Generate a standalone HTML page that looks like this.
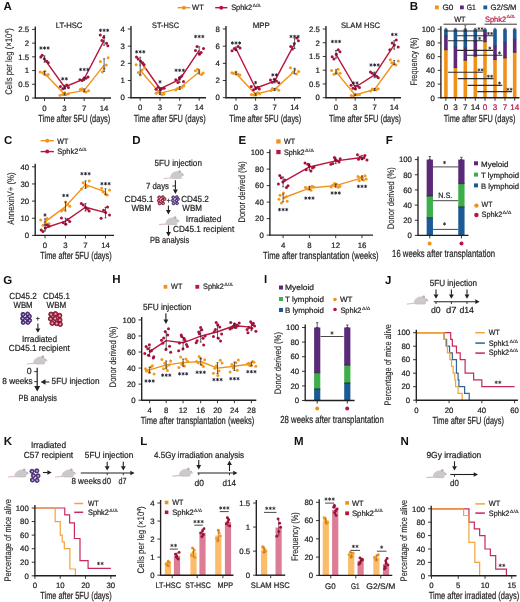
<!DOCTYPE html>
<html><head><meta charset="utf-8"><style>
html,body{margin:0;padding:0;background:#fff;width:520px;height:602px;overflow:hidden}
svg{display:block;filter:blur(0)}
text{font-family:"Liberation Sans", sans-serif;text-rendering:geometricPrecision}
</style></head><body>
<svg width="520" height="602" viewBox="0 0 520 602" font-family='"Liberation Sans", sans-serif'><text x="3.60" y="9.90" font-size="11.5" text-anchor="start" fill="#111" font-weight="bold">A</text>
<line x1="177.70" y1="7.70" x2="190.20" y2="7.70" stroke="#f0921a" stroke-width="1.4"/>
<circle cx="183.95" cy="7.70" r="2.0" fill="#f0921a"/>
<text x="192.10" y="10.10" font-size="7.8" text-anchor="start" fill="#231f20" stroke="#231f20" stroke-width="0.22" textLength="11.6" lengthAdjust="spacingAndGlyphs">WT</text>
<line x1="215.20" y1="7.70" x2="227.30" y2="7.70" stroke="#b8143e" stroke-width="1.4"/>
<circle cx="221.25" cy="7.70" r="2.0" fill="#b8143e"/>
<text x="231.20" y="10.10" font-size="7.8" fill="#231f20" stroke="#231f20" stroke-width="0.22" textLength="20.9" lengthAdjust="spacingAndGlyphs">Sphk2</text>
<text x="252.50" y="6.98" font-size="4.68" fill="#231f20" stroke="#231f20" stroke-width="0.1" textLength="8.3" lengthAdjust="spacingAndGlyphs">Δ/Δ</text>
<path d="M44.50 73.30 L64.50 94.16 L84.20 90.32 L104.10 65.07" fill="none" stroke="#f0921a" stroke-width="1.4" stroke-linejoin="round"/>
<path d="M44.50 59.04 L64.50 87.02 L84.20 78.79 L104.10 40.38" fill="none" stroke="#b8143e" stroke-width="1.4" stroke-linejoin="round"/>
<circle cx="44.87" cy="71.19" r="1.5" fill="#f29a20"/>
<circle cx="42.81" cy="73.08" r="1.5" fill="#f29a20"/>
<circle cx="40.21" cy="72.02" r="1.5" fill="#f29a20"/>
<circle cx="48.18" cy="74.54" r="1.5" fill="#f29a20"/>
<circle cx="46.89" cy="75.33" r="1.5" fill="#f29a20"/>
<circle cx="48.28" cy="62.68" r="1.5" fill="#a8123a"/>
<circle cx="40.84" cy="57.11" r="1.5" fill="#a8123a"/>
<circle cx="42.18" cy="55.31" r="1.5" fill="#a8123a"/>
<circle cx="44.28" cy="58.69" r="1.5" fill="#a8123a"/>
<circle cx="46.79" cy="61.23" r="1.5" fill="#a8123a"/>
<line x1="44.50" y1="71.55" x2="44.50" y2="75.05" stroke="#1e1e32" stroke-width="0.7"/>
<line x1="43.50" y1="71.55" x2="45.50" y2="71.55" stroke="#1e1e32" stroke-width="0.7"/>
<line x1="43.50" y1="75.05" x2="45.50" y2="75.05" stroke="#1e1e32" stroke-width="0.7"/>
<line x1="44.50" y1="55.89" x2="44.50" y2="62.19" stroke="#1e1e32" stroke-width="0.7"/>
<line x1="43.50" y1="55.89" x2="45.50" y2="55.89" stroke="#1e1e32" stroke-width="0.7"/>
<line x1="43.50" y1="62.19" x2="45.50" y2="62.19" stroke="#1e1e32" stroke-width="0.7"/>
<path d="M40.90 46.75L40.90 49.25M39.82 47.38L41.98 48.62M39.82 48.62L41.98 47.38M44.50 46.75L44.50 49.25M43.42 47.38L45.58 48.62M43.42 48.62L45.58 47.38M48.10 46.75L48.10 49.25M47.02 47.38L49.18 48.62M47.02 48.62L49.18 47.38" stroke="#1e1e32" stroke-width="0.85" stroke-linecap="round"/>
<circle cx="64.73" cy="92.63" r="1.5" fill="#f29a20"/>
<circle cx="66.12" cy="94.43" r="1.5" fill="#f29a20"/>
<circle cx="68.45" cy="93.77" r="1.5" fill="#f29a20"/>
<circle cx="60.10" cy="95.31" r="1.5" fill="#f29a20"/>
<circle cx="62.68" cy="94.54" r="1.5" fill="#f29a20"/>
<circle cx="66.69" cy="85.06" r="1.5" fill="#a8123a"/>
<circle cx="64.60" cy="88.09" r="1.5" fill="#a8123a"/>
<circle cx="60.39" cy="86.42" r="1.5" fill="#a8123a"/>
<circle cx="68.42" cy="87.41" r="1.5" fill="#a8123a"/>
<circle cx="62.78" cy="88.65" r="1.5" fill="#a8123a"/>
<line x1="64.50" y1="93.11" x2="64.50" y2="95.21" stroke="#1e1e32" stroke-width="0.7"/>
<line x1="63.50" y1="93.11" x2="65.50" y2="93.11" stroke="#1e1e32" stroke-width="0.7"/>
<line x1="63.50" y1="95.21" x2="65.50" y2="95.21" stroke="#1e1e32" stroke-width="0.7"/>
<line x1="64.50" y1="85.27" x2="64.50" y2="88.77" stroke="#1e1e32" stroke-width="0.7"/>
<line x1="63.50" y1="85.27" x2="65.50" y2="85.27" stroke="#1e1e32" stroke-width="0.7"/>
<line x1="63.50" y1="88.77" x2="65.50" y2="88.77" stroke="#1e1e32" stroke-width="0.7"/>
<path d="M62.70 77.55L62.70 80.05M61.62 78.17L63.78 79.42M61.62 79.42L63.78 78.17M66.30 77.55L66.30 80.05M65.22 78.17L67.38 79.42M65.22 79.42L67.38 78.17" stroke="#1e1e32" stroke-width="0.85" stroke-linecap="round"/>
<circle cx="84.29" cy="91.18" r="1.5" fill="#f29a20"/>
<circle cx="81.93" cy="88.66" r="1.5" fill="#f29a20"/>
<circle cx="86.11" cy="92.10" r="1.5" fill="#f29a20"/>
<circle cx="88.60" cy="90.68" r="1.5" fill="#f29a20"/>
<circle cx="80.24" cy="89.47" r="1.5" fill="#f29a20"/>
<circle cx="85.93" cy="78.19" r="1.5" fill="#a8123a"/>
<circle cx="82.13" cy="80.54" r="1.5" fill="#a8123a"/>
<circle cx="88.08" cy="76.90" r="1.5" fill="#a8123a"/>
<circle cx="79.83" cy="79.70" r="1.5" fill="#a8123a"/>
<circle cx="83.81" cy="78.45" r="1.5" fill="#a8123a"/>
<line x1="84.20" y1="88.92" x2="84.20" y2="91.72" stroke="#1e1e32" stroke-width="0.7"/>
<line x1="83.20" y1="88.92" x2="85.20" y2="88.92" stroke="#1e1e32" stroke-width="0.7"/>
<line x1="83.20" y1="91.72" x2="85.20" y2="91.72" stroke="#1e1e32" stroke-width="0.7"/>
<line x1="84.20" y1="77.04" x2="84.20" y2="80.54" stroke="#1e1e32" stroke-width="0.7"/>
<line x1="83.20" y1="77.04" x2="85.20" y2="77.04" stroke="#1e1e32" stroke-width="0.7"/>
<line x1="83.20" y1="80.54" x2="85.20" y2="80.54" stroke="#1e1e32" stroke-width="0.7"/>
<path d="M80.60 68.25L80.60 70.75M79.52 68.88L81.68 70.12M79.52 70.12L81.68 68.88M84.20 68.25L84.20 70.75M83.12 68.88L85.28 70.12M83.12 70.12L85.28 68.88M87.80 68.25L87.80 70.75M86.72 68.88L88.88 70.12M86.72 70.12L88.88 68.88" stroke="#1e1e32" stroke-width="0.85" stroke-linecap="round"/>
<circle cx="100.43" cy="61.45" r="1.5" fill="#f29a20"/>
<circle cx="104.14" cy="68.43" r="1.5" fill="#f29a20"/>
<circle cx="106.27" cy="65.10" r="1.5" fill="#f29a20"/>
<circle cx="108.14" cy="57.79" r="1.5" fill="#f29a20"/>
<circle cx="102.39" cy="72.06" r="1.5" fill="#f29a20"/>
<circle cx="100.28" cy="35.06" r="1.5" fill="#a8123a"/>
<circle cx="103.73" cy="37.31" r="1.5" fill="#a8123a"/>
<circle cx="106.50" cy="43.37" r="1.5" fill="#a8123a"/>
<circle cx="101.91" cy="40.57" r="1.5" fill="#a8123a"/>
<circle cx="107.84" cy="45.86" r="1.5" fill="#a8123a"/>
<line x1="104.10" y1="58.77" x2="104.10" y2="71.37" stroke="#1e1e32" stroke-width="0.7"/>
<line x1="103.10" y1="58.77" x2="105.10" y2="58.77" stroke="#1e1e32" stroke-width="0.7"/>
<line x1="103.10" y1="71.37" x2="105.10" y2="71.37" stroke="#1e1e32" stroke-width="0.7"/>
<line x1="104.10" y1="35.48" x2="104.10" y2="45.28" stroke="#1e1e32" stroke-width="0.7"/>
<line x1="103.10" y1="35.48" x2="105.10" y2="35.48" stroke="#1e1e32" stroke-width="0.7"/>
<line x1="103.10" y1="45.28" x2="105.10" y2="45.28" stroke="#1e1e32" stroke-width="0.7"/>
<path d="M100.50 29.05L100.50 31.55M99.42 29.68L101.58 30.93M99.42 30.93L101.58 29.68M104.10 29.05L104.10 31.55M103.02 29.68L105.18 30.93M103.02 30.93L105.18 29.68M107.70 29.05L107.70 31.55M106.62 29.68L108.78 30.93M106.62 30.93L108.78 29.68" stroke="#1e1e32" stroke-width="0.85" stroke-linecap="round"/>
<line x1="35.30" y1="98.50" x2="35.30" y2="26.40" stroke="#231f20" stroke-width="1.35"/>
<line x1="32.10" y1="98.00" x2="35.30" y2="98.00" stroke="#231f20" stroke-width="0.9"/>
<text x="29.20" y="100.77" font-size="7.8" text-anchor="end" fill="#231f20" stroke="#231f20" stroke-width="0.22">0</text>
<line x1="32.10" y1="84.28" x2="35.30" y2="84.28" stroke="#231f20" stroke-width="0.9"/>
<text x="29.20" y="87.05" font-size="7.8" text-anchor="end" fill="#231f20" stroke="#231f20" stroke-width="0.22">0.5</text>
<line x1="32.10" y1="70.56" x2="35.30" y2="70.56" stroke="#231f20" stroke-width="0.9"/>
<text x="29.20" y="73.33" font-size="7.8" text-anchor="end" fill="#231f20" stroke="#231f20" stroke-width="0.22">1</text>
<line x1="32.10" y1="56.84" x2="35.30" y2="56.84" stroke="#231f20" stroke-width="0.9"/>
<text x="29.20" y="59.61" font-size="7.8" text-anchor="end" fill="#231f20" stroke="#231f20" stroke-width="0.22">1.5</text>
<line x1="32.10" y1="43.12" x2="35.30" y2="43.12" stroke="#231f20" stroke-width="0.9"/>
<text x="29.20" y="45.89" font-size="7.8" text-anchor="end" fill="#231f20" stroke="#231f20" stroke-width="0.22">2</text>
<line x1="32.10" y1="29.40" x2="35.30" y2="29.40" stroke="#231f20" stroke-width="0.9"/>
<text x="29.20" y="32.17" font-size="7.8" text-anchor="end" fill="#231f20" stroke="#231f20" stroke-width="0.22">2.5</text>
<line x1="34.80" y1="98.00" x2="111.00" y2="98.00" stroke="#231f20" stroke-width="1.4"/>
<line x1="44.50" y1="98.00" x2="44.50" y2="101.00" stroke="#231f20" stroke-width="0.9"/>
<text x="44.50" y="110.50" font-size="7.8" text-anchor="middle" fill="#231f20" stroke="#231f20" stroke-width="0.22">0</text>
<line x1="64.50" y1="98.00" x2="64.50" y2="101.00" stroke="#231f20" stroke-width="0.9"/>
<text x="64.50" y="110.50" font-size="7.8" text-anchor="middle" fill="#231f20" stroke="#231f20" stroke-width="0.22">3</text>
<line x1="84.20" y1="98.00" x2="84.20" y2="101.00" stroke="#231f20" stroke-width="0.9"/>
<text x="84.20" y="110.50" font-size="7.8" text-anchor="middle" fill="#231f20" stroke="#231f20" stroke-width="0.22">7</text>
<line x1="104.10" y1="98.00" x2="104.10" y2="101.00" stroke="#231f20" stroke-width="0.9"/>
<text x="104.10" y="110.50" font-size="7.8" text-anchor="middle" fill="#231f20" stroke="#231f20" stroke-width="0.22">14</text>
<text x="69.00" y="28.00" font-size="7.9" text-anchor="middle" fill="#231f20" stroke="#231f20" stroke-width="0.22" textLength="26.5" lengthAdjust="spacingAndGlyphs">LT-HSC</text>
<text x="74.30" y="122.00" font-size="10.3" text-anchor="middle" fill="#231f20" stroke="#231f20" stroke-width="0.22" textLength="72" lengthAdjust="spacingAndGlyphs">Time after 5FU (days)</text>
<path d="M140.20 70.22 L160.00 93.41 L179.70 88.08 L199.20 71.94" fill="none" stroke="#f0921a" stroke-width="1.4" stroke-linejoin="round"/>
<path d="M140.20 60.77 L160.00 88.77 L179.70 79.49 L199.20 50.30" fill="none" stroke="#b8143e" stroke-width="1.4" stroke-linejoin="round"/>
<circle cx="140.23" cy="75.08" r="1.5" fill="#f29a20"/>
<circle cx="136.16" cy="64.66" r="1.5" fill="#f29a20"/>
<circle cx="144.55" cy="67.98" r="1.5" fill="#f29a20"/>
<circle cx="142.07" cy="70.07" r="1.5" fill="#f29a20"/>
<circle cx="138.41" cy="72.58" r="1.5" fill="#f29a20"/>
<circle cx="138.14" cy="59.05" r="1.5" fill="#a8123a"/>
<circle cx="144.03" cy="64.60" r="1.5" fill="#a8123a"/>
<circle cx="136.52" cy="57.04" r="1.5" fill="#a8123a"/>
<circle cx="142.55" cy="62.69" r="1.5" fill="#a8123a"/>
<circle cx="140.53" cy="61.02" r="1.5" fill="#a8123a"/>
<line x1="140.20" y1="65.67" x2="140.20" y2="74.77" stroke="#1e1e32" stroke-width="0.7"/>
<line x1="139.20" y1="65.67" x2="141.20" y2="65.67" stroke="#1e1e32" stroke-width="0.7"/>
<line x1="139.20" y1="74.77" x2="141.20" y2="74.77" stroke="#1e1e32" stroke-width="0.7"/>
<line x1="140.20" y1="57.27" x2="140.20" y2="64.27" stroke="#1e1e32" stroke-width="0.7"/>
<line x1="139.20" y1="57.27" x2="141.20" y2="57.27" stroke="#1e1e32" stroke-width="0.7"/>
<line x1="139.20" y1="64.27" x2="141.20" y2="64.27" stroke="#1e1e32" stroke-width="0.7"/>
<path d="M136.60 50.55L136.60 53.05M135.52 51.17L137.68 52.42M135.52 52.42L137.68 51.17M140.20 50.55L140.20 53.05M139.12 51.17L141.28 52.42M139.12 52.42L141.28 51.17M143.80 50.55L143.80 53.05M142.72 51.17L144.88 52.42M142.72 52.42L144.88 51.17" stroke="#1e1e32" stroke-width="0.85" stroke-linecap="round"/>
<circle cx="156.08" cy="93.14" r="1.5" fill="#f29a20"/>
<circle cx="161.99" cy="94.83" r="1.5" fill="#f29a20"/>
<circle cx="159.86" cy="93.36" r="1.5" fill="#f29a20"/>
<circle cx="157.80" cy="91.94" r="1.5" fill="#f29a20"/>
<circle cx="163.96" cy="94.04" r="1.5" fill="#f29a20"/>
<circle cx="156.06" cy="89.34" r="1.5" fill="#a8123a"/>
<circle cx="160.25" cy="90.15" r="1.5" fill="#a8123a"/>
<circle cx="164.13" cy="88.23" r="1.5" fill="#a8123a"/>
<circle cx="158.05" cy="87.28" r="1.5" fill="#a8123a"/>
<circle cx="161.84" cy="88.51" r="1.5" fill="#a8123a"/>
<line x1="160.00" y1="92.36" x2="160.00" y2="94.46" stroke="#1e1e32" stroke-width="0.7"/>
<line x1="159.00" y1="92.36" x2="161.00" y2="92.36" stroke="#1e1e32" stroke-width="0.7"/>
<line x1="159.00" y1="94.46" x2="161.00" y2="94.46" stroke="#1e1e32" stroke-width="0.7"/>
<line x1="160.00" y1="87.72" x2="160.00" y2="89.82" stroke="#1e1e32" stroke-width="0.7"/>
<line x1="159.00" y1="87.72" x2="161.00" y2="87.72" stroke="#1e1e32" stroke-width="0.7"/>
<line x1="159.00" y1="89.82" x2="161.00" y2="89.82" stroke="#1e1e32" stroke-width="0.7"/>
<path d="M160.00 80.55L160.00 83.05M158.92 81.17L161.08 82.42M158.92 82.42L161.08 81.17" stroke="#1e1e32" stroke-width="0.85" stroke-linecap="round"/>
<circle cx="183.75" cy="86.12" r="1.5" fill="#f29a20"/>
<circle cx="181.72" cy="87.38" r="1.5" fill="#f29a20"/>
<circle cx="175.72" cy="89.99" r="1.5" fill="#f29a20"/>
<circle cx="179.89" cy="87.98" r="1.5" fill="#f29a20"/>
<circle cx="177.48" cy="88.58" r="1.5" fill="#f29a20"/>
<circle cx="179.32" cy="78.10" r="1.5" fill="#a8123a"/>
<circle cx="175.78" cy="79.78" r="1.5" fill="#a8123a"/>
<circle cx="183.50" cy="81.48" r="1.5" fill="#a8123a"/>
<circle cx="177.88" cy="82.53" r="1.5" fill="#a8123a"/>
<circle cx="181.74" cy="75.92" r="1.5" fill="#a8123a"/>
<line x1="179.70" y1="86.68" x2="179.70" y2="89.48" stroke="#1e1e32" stroke-width="0.7"/>
<line x1="178.70" y1="86.68" x2="180.70" y2="86.68" stroke="#1e1e32" stroke-width="0.7"/>
<line x1="178.70" y1="89.48" x2="180.70" y2="89.48" stroke="#1e1e32" stroke-width="0.7"/>
<line x1="179.70" y1="76.69" x2="179.70" y2="82.29" stroke="#1e1e32" stroke-width="0.7"/>
<line x1="178.70" y1="76.69" x2="180.70" y2="76.69" stroke="#1e1e32" stroke-width="0.7"/>
<line x1="178.70" y1="82.29" x2="180.70" y2="82.29" stroke="#1e1e32" stroke-width="0.7"/>
<path d="M176.10 69.05L176.10 71.55M175.02 69.67L177.18 70.92M175.02 70.92L177.18 69.67M179.70 69.05L179.70 71.55M178.62 69.67L180.78 70.92M178.62 70.92L180.78 69.67M183.30 69.05L183.30 71.55M182.22 69.67L184.38 70.92M182.22 70.92L184.38 69.67" stroke="#1e1e32" stroke-width="0.85" stroke-linecap="round"/>
<circle cx="203.17" cy="73.01" r="1.5" fill="#f29a20"/>
<circle cx="195.34" cy="70.73" r="1.5" fill="#f29a20"/>
<circle cx="198.91" cy="72.00" r="1.5" fill="#f29a20"/>
<circle cx="197.58" cy="69.17" r="1.5" fill="#f29a20"/>
<circle cx="201.57" cy="74.49" r="1.5" fill="#f29a20"/>
<circle cx="199.45" cy="54.31" r="1.5" fill="#a8123a"/>
<circle cx="197.05" cy="46.42" r="1.5" fill="#a8123a"/>
<circle cx="203.52" cy="48.51" r="1.5" fill="#a8123a"/>
<circle cx="195.47" cy="50.54" r="1.5" fill="#a8123a"/>
<circle cx="201.14" cy="52.42" r="1.5" fill="#a8123a"/>
<line x1="199.20" y1="69.84" x2="199.20" y2="74.04" stroke="#1e1e32" stroke-width="0.7"/>
<line x1="198.20" y1="69.84" x2="200.20" y2="69.84" stroke="#1e1e32" stroke-width="0.7"/>
<line x1="198.20" y1="74.04" x2="200.20" y2="74.04" stroke="#1e1e32" stroke-width="0.7"/>
<line x1="199.20" y1="46.80" x2="199.20" y2="53.80" stroke="#1e1e32" stroke-width="0.7"/>
<line x1="198.20" y1="46.80" x2="200.20" y2="46.80" stroke="#1e1e32" stroke-width="0.7"/>
<line x1="198.20" y1="53.80" x2="200.20" y2="53.80" stroke="#1e1e32" stroke-width="0.7"/>
<path d="M195.60 35.25L195.60 37.75M194.52 35.88L196.68 37.12M194.52 37.12L196.68 35.88M199.20 35.25L199.20 37.75M198.12 35.88L200.28 37.12M198.12 37.12L200.28 35.88M202.80 35.25L202.80 37.75M201.72 35.88L203.88 37.12M201.72 37.12L203.88 35.88" stroke="#1e1e32" stroke-width="0.85" stroke-linecap="round"/>
<line x1="131.00" y1="98.20" x2="131.00" y2="26.00" stroke="#231f20" stroke-width="1.35"/>
<line x1="127.80" y1="97.70" x2="131.00" y2="97.70" stroke="#231f20" stroke-width="0.9"/>
<text x="124.90" y="100.47" font-size="7.8" text-anchor="end" fill="#231f20" stroke="#231f20" stroke-width="0.22">0</text>
<line x1="127.80" y1="80.53" x2="131.00" y2="80.53" stroke="#231f20" stroke-width="0.9"/>
<text x="124.90" y="83.29" font-size="7.8" text-anchor="end" fill="#231f20" stroke="#231f20" stroke-width="0.22">1</text>
<line x1="127.80" y1="63.35" x2="131.00" y2="63.35" stroke="#231f20" stroke-width="0.9"/>
<text x="124.90" y="66.12" font-size="7.8" text-anchor="end" fill="#231f20" stroke="#231f20" stroke-width="0.22">2</text>
<line x1="127.80" y1="46.17" x2="131.00" y2="46.17" stroke="#231f20" stroke-width="0.9"/>
<text x="124.90" y="48.94" font-size="7.8" text-anchor="end" fill="#231f20" stroke="#231f20" stroke-width="0.22">3</text>
<line x1="127.80" y1="29.00" x2="131.00" y2="29.00" stroke="#231f20" stroke-width="0.9"/>
<text x="124.90" y="31.77" font-size="7.8" text-anchor="end" fill="#231f20" stroke="#231f20" stroke-width="0.22">4</text>
<line x1="130.50" y1="97.70" x2="206.00" y2="97.70" stroke="#231f20" stroke-width="1.4"/>
<line x1="140.20" y1="97.70" x2="140.20" y2="100.70" stroke="#231f20" stroke-width="0.9"/>
<text x="140.20" y="110.20" font-size="7.8" text-anchor="middle" fill="#231f20" stroke="#231f20" stroke-width="0.22">0</text>
<line x1="160.00" y1="97.70" x2="160.00" y2="100.70" stroke="#231f20" stroke-width="0.9"/>
<text x="160.00" y="110.20" font-size="7.8" text-anchor="middle" fill="#231f20" stroke="#231f20" stroke-width="0.22">3</text>
<line x1="179.70" y1="97.70" x2="179.70" y2="100.70" stroke="#231f20" stroke-width="0.9"/>
<text x="179.70" y="110.20" font-size="7.8" text-anchor="middle" fill="#231f20" stroke="#231f20" stroke-width="0.22">7</text>
<line x1="199.20" y1="97.70" x2="199.20" y2="100.70" stroke="#231f20" stroke-width="0.9"/>
<text x="199.20" y="110.20" font-size="7.8" text-anchor="middle" fill="#231f20" stroke="#231f20" stroke-width="0.22">14</text>
<text x="165.60" y="28.00" font-size="7.9" text-anchor="middle" fill="#231f20" stroke="#231f20" stroke-width="0.22" textLength="27" lengthAdjust="spacingAndGlyphs">ST-HSC</text>
<text x="169.70" y="121.70" font-size="10.3" text-anchor="middle" fill="#231f20" stroke="#231f20" stroke-width="0.22" textLength="72" lengthAdjust="spacingAndGlyphs">Time after 5FU (days)</text>
<path d="M236.00 73.40 L255.60 94.18 L274.60 89.54 L294.60 71.08" fill="none" stroke="#f0921a" stroke-width="1.4" stroke-linejoin="round"/>
<path d="M236.00 48.75 L255.60 88.25 L274.60 81.13 L294.60 43.60" fill="none" stroke="#b8143e" stroke-width="1.4" stroke-linejoin="round"/>
<circle cx="238.17" cy="74.37" r="1.5" fill="#f29a20"/>
<circle cx="239.95" cy="74.95" r="1.5" fill="#f29a20"/>
<circle cx="235.79" cy="71.92" r="1.5" fill="#f29a20"/>
<circle cx="233.70" cy="73.56" r="1.5" fill="#f29a20"/>
<circle cx="231.91" cy="72.72" r="1.5" fill="#f29a20"/>
<circle cx="234.33" cy="48.56" r="1.5" fill="#a8123a"/>
<circle cx="235.94" cy="49.87" r="1.5" fill="#a8123a"/>
<circle cx="232.06" cy="50.86" r="1.5" fill="#a8123a"/>
<circle cx="240.06" cy="47.95" r="1.5" fill="#a8123a"/>
<circle cx="238.14" cy="46.49" r="1.5" fill="#a8123a"/>
<line x1="236.00" y1="72.00" x2="236.00" y2="74.80" stroke="#1e1e32" stroke-width="0.7"/>
<line x1="235.00" y1="72.00" x2="237.00" y2="72.00" stroke="#1e1e32" stroke-width="0.7"/>
<line x1="235.00" y1="74.80" x2="237.00" y2="74.80" stroke="#1e1e32" stroke-width="0.7"/>
<line x1="236.00" y1="47.00" x2="236.00" y2="50.50" stroke="#1e1e32" stroke-width="0.7"/>
<line x1="235.00" y1="47.00" x2="237.00" y2="47.00" stroke="#1e1e32" stroke-width="0.7"/>
<line x1="235.00" y1="50.50" x2="237.00" y2="50.50" stroke="#1e1e32" stroke-width="0.7"/>
<path d="M232.40 41.75L232.40 44.25M231.32 42.38L233.48 43.62M231.32 43.62L233.48 42.38M236.00 41.75L236.00 44.25M234.92 42.38L237.08 43.62M234.92 43.62L237.08 42.38M239.60 41.75L239.60 44.25M238.52 42.38L240.68 43.62M238.52 43.62L240.68 42.38" stroke="#1e1e32" stroke-width="0.85" stroke-linecap="round"/>
<circle cx="257.70" cy="92.80" r="1.5" fill="#f29a20"/>
<circle cx="259.59" cy="93.63" r="1.5" fill="#f29a20"/>
<circle cx="253.58" cy="95.12" r="1.5" fill="#f29a20"/>
<circle cx="255.99" cy="95.03" r="1.5" fill="#f29a20"/>
<circle cx="251.38" cy="94.50" r="1.5" fill="#f29a20"/>
<circle cx="251.27" cy="86.42" r="1.5" fill="#a8123a"/>
<circle cx="253.56" cy="89.64" r="1.5" fill="#a8123a"/>
<circle cx="255.94" cy="88.34" r="1.5" fill="#a8123a"/>
<circle cx="259.33" cy="88.90" r="1.5" fill="#a8123a"/>
<circle cx="257.78" cy="87.14" r="1.5" fill="#a8123a"/>
<line x1="255.60" y1="93.13" x2="255.60" y2="95.23" stroke="#1e1e32" stroke-width="0.7"/>
<line x1="254.60" y1="93.13" x2="256.60" y2="93.13" stroke="#1e1e32" stroke-width="0.7"/>
<line x1="254.60" y1="95.23" x2="256.60" y2="95.23" stroke="#1e1e32" stroke-width="0.7"/>
<line x1="255.60" y1="86.85" x2="255.60" y2="89.65" stroke="#1e1e32" stroke-width="0.7"/>
<line x1="254.60" y1="86.85" x2="256.60" y2="86.85" stroke="#1e1e32" stroke-width="0.7"/>
<line x1="254.60" y1="89.65" x2="256.60" y2="89.65" stroke="#1e1e32" stroke-width="0.7"/>
<path d="M255.60 81.35L255.60 83.85M254.52 81.97L256.68 83.22M254.52 83.22L256.68 81.97" stroke="#1e1e32" stroke-width="0.85" stroke-linecap="round"/>
<circle cx="274.55" cy="89.50" r="1.5" fill="#f29a20"/>
<circle cx="270.92" cy="90.60" r="1.5" fill="#f29a20"/>
<circle cx="272.39" cy="88.45" r="1.5" fill="#f29a20"/>
<circle cx="278.80" cy="90.26" r="1.5" fill="#f29a20"/>
<circle cx="276.35" cy="88.86" r="1.5" fill="#f29a20"/>
<circle cx="276.42" cy="81.12" r="1.5" fill="#a8123a"/>
<circle cx="272.21" cy="82.35" r="1.5" fill="#a8123a"/>
<circle cx="274.28" cy="79.34" r="1.5" fill="#a8123a"/>
<circle cx="270.41" cy="80.12" r="1.5" fill="#a8123a"/>
<circle cx="278.78" cy="82.79" r="1.5" fill="#a8123a"/>
<line x1="274.60" y1="88.49" x2="274.60" y2="90.59" stroke="#1e1e32" stroke-width="0.7"/>
<line x1="273.60" y1="88.49" x2="275.60" y2="88.49" stroke="#1e1e32" stroke-width="0.7"/>
<line x1="273.60" y1="90.59" x2="275.60" y2="90.59" stroke="#1e1e32" stroke-width="0.7"/>
<line x1="274.60" y1="79.38" x2="274.60" y2="82.88" stroke="#1e1e32" stroke-width="0.7"/>
<line x1="273.60" y1="79.38" x2="275.60" y2="79.38" stroke="#1e1e32" stroke-width="0.7"/>
<line x1="273.60" y1="82.88" x2="275.60" y2="82.88" stroke="#1e1e32" stroke-width="0.7"/>
<path d="M272.80 73.65L272.80 76.15M271.72 74.28L273.88 75.53M271.72 75.53L273.88 74.28M276.40 73.65L276.40 76.15M275.32 74.28L277.48 75.53M275.32 75.53L277.48 74.28" stroke="#1e1e32" stroke-width="0.85" stroke-linecap="round"/>
<circle cx="294.78" cy="69.70" r="1.5" fill="#f29a20"/>
<circle cx="296.48" cy="73.96" r="1.5" fill="#f29a20"/>
<circle cx="292.92" cy="72.37" r="1.5" fill="#f29a20"/>
<circle cx="298.65" cy="71.47" r="1.5" fill="#f29a20"/>
<circle cx="290.48" cy="67.69" r="1.5" fill="#f29a20"/>
<circle cx="294.32" cy="43.60" r="1.5" fill="#a8123a"/>
<circle cx="290.78" cy="46.58" r="1.5" fill="#a8123a"/>
<circle cx="292.45" cy="48.97" r="1.5" fill="#a8123a"/>
<circle cx="296.90" cy="38.12" r="1.5" fill="#a8123a"/>
<circle cx="298.41" cy="40.79" r="1.5" fill="#a8123a"/>
<line x1="294.60" y1="68.28" x2="294.60" y2="73.88" stroke="#1e1e32" stroke-width="0.7"/>
<line x1="293.60" y1="68.28" x2="295.60" y2="68.28" stroke="#1e1e32" stroke-width="0.7"/>
<line x1="293.60" y1="73.88" x2="295.60" y2="73.88" stroke="#1e1e32" stroke-width="0.7"/>
<line x1="294.60" y1="38.70" x2="294.60" y2="48.50" stroke="#1e1e32" stroke-width="0.7"/>
<line x1="293.60" y1="38.70" x2="295.60" y2="38.70" stroke="#1e1e32" stroke-width="0.7"/>
<line x1="293.60" y1="48.50" x2="295.60" y2="48.50" stroke="#1e1e32" stroke-width="0.7"/>
<path d="M291.00 35.25L291.00 37.75M289.92 35.88L292.08 37.12M289.92 37.12L292.08 35.88M294.60 35.25L294.60 37.75M293.52 35.88L295.68 37.12M293.52 37.12L295.68 35.88M298.20 35.25L298.20 37.75M297.12 35.88L299.28 37.12M297.12 37.12L299.28 35.88" stroke="#1e1e32" stroke-width="0.85" stroke-linecap="round"/>
<line x1="226.00" y1="98.20" x2="226.00" y2="26.00" stroke="#231f20" stroke-width="1.35"/>
<line x1="222.80" y1="97.70" x2="226.00" y2="97.70" stroke="#231f20" stroke-width="0.9"/>
<text x="219.90" y="100.47" font-size="7.8" text-anchor="end" fill="#231f20" stroke="#231f20" stroke-width="0.22">0</text>
<line x1="222.80" y1="80.53" x2="226.00" y2="80.53" stroke="#231f20" stroke-width="0.9"/>
<text x="219.90" y="83.29" font-size="7.8" text-anchor="end" fill="#231f20" stroke="#231f20" stroke-width="0.22">2</text>
<line x1="222.80" y1="63.35" x2="226.00" y2="63.35" stroke="#231f20" stroke-width="0.9"/>
<text x="219.90" y="66.12" font-size="7.8" text-anchor="end" fill="#231f20" stroke="#231f20" stroke-width="0.22">4</text>
<line x1="222.80" y1="46.17" x2="226.00" y2="46.17" stroke="#231f20" stroke-width="0.9"/>
<text x="219.90" y="48.94" font-size="7.8" text-anchor="end" fill="#231f20" stroke="#231f20" stroke-width="0.22">6</text>
<line x1="222.80" y1="29.00" x2="226.00" y2="29.00" stroke="#231f20" stroke-width="0.9"/>
<text x="219.90" y="31.77" font-size="7.8" text-anchor="end" fill="#231f20" stroke="#231f20" stroke-width="0.22">8</text>
<line x1="225.50" y1="97.70" x2="301.00" y2="97.70" stroke="#231f20" stroke-width="1.4"/>
<line x1="236.00" y1="97.70" x2="236.00" y2="100.70" stroke="#231f20" stroke-width="0.9"/>
<text x="236.00" y="110.20" font-size="7.8" text-anchor="middle" fill="#231f20" stroke="#231f20" stroke-width="0.22">0</text>
<line x1="255.60" y1="97.70" x2="255.60" y2="100.70" stroke="#231f20" stroke-width="0.9"/>
<text x="255.60" y="110.20" font-size="7.8" text-anchor="middle" fill="#231f20" stroke="#231f20" stroke-width="0.22">3</text>
<line x1="274.60" y1="97.70" x2="274.60" y2="100.70" stroke="#231f20" stroke-width="0.9"/>
<text x="274.60" y="110.20" font-size="7.8" text-anchor="middle" fill="#231f20" stroke="#231f20" stroke-width="0.22">7</text>
<line x1="294.60" y1="97.70" x2="294.60" y2="100.70" stroke="#231f20" stroke-width="0.9"/>
<text x="294.60" y="110.20" font-size="7.8" text-anchor="middle" fill="#231f20" stroke="#231f20" stroke-width="0.22">14</text>
<text x="261.30" y="28.00" font-size="7.9" text-anchor="middle" fill="#231f20" stroke="#231f20" stroke-width="0.22" textLength="17" lengthAdjust="spacingAndGlyphs">MPP</text>
<text x="265.30" y="121.70" font-size="10.3" text-anchor="middle" fill="#231f20" stroke="#231f20" stroke-width="0.22" textLength="72" lengthAdjust="spacingAndGlyphs">Time after 5FU (days)</text>
<path d="M336.00 71.87 L355.20 94.95 L374.60 89.46 L394.20 62.53" fill="none" stroke="#f0921a" stroke-width="1.4" stroke-linejoin="round"/>
<path d="M336.00 54.28 L355.20 87.26 L374.60 74.89 L394.20 44.94" fill="none" stroke="#b8143e" stroke-width="1.4" stroke-linejoin="round"/>
<circle cx="338.06" cy="69.20" r="1.5" fill="#f29a20"/>
<circle cx="331.70" cy="70.53" r="1.5" fill="#f29a20"/>
<circle cx="334.06" cy="74.37" r="1.5" fill="#f29a20"/>
<circle cx="336.29" cy="72.19" r="1.5" fill="#f29a20"/>
<circle cx="340.08" cy="73.29" r="1.5" fill="#f29a20"/>
<circle cx="332.17" cy="56.85" r="1.5" fill="#a8123a"/>
<circle cx="339.99" cy="51.87" r="1.5" fill="#a8123a"/>
<circle cx="338.21" cy="49.71" r="1.5" fill="#a8123a"/>
<circle cx="333.91" cy="58.99" r="1.5" fill="#a8123a"/>
<circle cx="336.34" cy="54.27" r="1.5" fill="#a8123a"/>
<line x1="336.00" y1="69.77" x2="336.00" y2="73.97" stroke="#1e1e32" stroke-width="0.7"/>
<line x1="335.00" y1="69.77" x2="337.00" y2="69.77" stroke="#1e1e32" stroke-width="0.7"/>
<line x1="335.00" y1="73.97" x2="337.00" y2="73.97" stroke="#1e1e32" stroke-width="0.7"/>
<line x1="336.00" y1="50.43" x2="336.00" y2="58.13" stroke="#1e1e32" stroke-width="0.7"/>
<line x1="335.00" y1="50.43" x2="337.00" y2="50.43" stroke="#1e1e32" stroke-width="0.7"/>
<line x1="335.00" y1="58.13" x2="337.00" y2="58.13" stroke="#1e1e32" stroke-width="0.7"/>
<path d="M332.40 40.25L332.40 42.75M331.32 40.88L333.48 42.12M331.32 42.12L333.48 40.88M336.00 40.25L336.00 42.75M334.92 40.88L337.08 42.12M334.92 42.12L337.08 40.88M339.60 40.25L339.60 42.75M338.52 40.88L340.68 42.12M338.52 42.12L340.68 40.88" stroke="#1e1e32" stroke-width="0.85" stroke-linecap="round"/>
<circle cx="351.22" cy="95.46" r="1.5" fill="#f29a20"/>
<circle cx="353.45" cy="95.75" r="1.5" fill="#f29a20"/>
<circle cx="355.37" cy="94.26" r="1.5" fill="#f29a20"/>
<circle cx="359.46" cy="94.58" r="1.5" fill="#f29a20"/>
<circle cx="357.33" cy="94.75" r="1.5" fill="#f29a20"/>
<circle cx="351.11" cy="85.18" r="1.5" fill="#a8123a"/>
<circle cx="357.45" cy="86.08" r="1.5" fill="#a8123a"/>
<circle cx="353.01" cy="88.36" r="1.5" fill="#a8123a"/>
<circle cx="355.45" cy="89.06" r="1.5" fill="#a8123a"/>
<circle cx="359.42" cy="87.50" r="1.5" fill="#a8123a"/>
<line x1="355.20" y1="94.25" x2="355.20" y2="95.65" stroke="#1e1e32" stroke-width="0.7"/>
<line x1="354.20" y1="94.25" x2="356.20" y2="94.25" stroke="#1e1e32" stroke-width="0.7"/>
<line x1="354.20" y1="95.65" x2="356.20" y2="95.65" stroke="#1e1e32" stroke-width="0.7"/>
<line x1="355.20" y1="85.51" x2="355.20" y2="89.01" stroke="#1e1e32" stroke-width="0.7"/>
<line x1="354.20" y1="85.51" x2="356.20" y2="85.51" stroke="#1e1e32" stroke-width="0.7"/>
<line x1="354.20" y1="89.01" x2="356.20" y2="89.01" stroke="#1e1e32" stroke-width="0.7"/>
<path d="M353.40 81.75L353.40 84.25M352.32 82.38L354.48 83.62M352.32 83.62L354.48 82.38M357.00 81.75L357.00 84.25M355.92 82.38L358.08 83.62M355.92 83.62L358.08 82.38" stroke="#1e1e32" stroke-width="0.85" stroke-linecap="round"/>
<circle cx="374.60" cy="89.68" r="1.5" fill="#f29a20"/>
<circle cx="370.47" cy="91.03" r="1.5" fill="#f29a20"/>
<circle cx="372.29" cy="88.98" r="1.5" fill="#f29a20"/>
<circle cx="376.22" cy="89.83" r="1.5" fill="#f29a20"/>
<circle cx="378.30" cy="88.64" r="1.5" fill="#f29a20"/>
<circle cx="376.58" cy="76.26" r="1.5" fill="#a8123a"/>
<circle cx="370.43" cy="71.88" r="1.5" fill="#a8123a"/>
<circle cx="378.25" cy="77.82" r="1.5" fill="#a8123a"/>
<circle cx="372.35" cy="73.13" r="1.5" fill="#a8123a"/>
<circle cx="374.53" cy="74.93" r="1.5" fill="#a8123a"/>
<line x1="374.60" y1="88.41" x2="374.60" y2="90.51" stroke="#1e1e32" stroke-width="0.7"/>
<line x1="373.60" y1="88.41" x2="375.60" y2="88.41" stroke="#1e1e32" stroke-width="0.7"/>
<line x1="373.60" y1="90.51" x2="375.60" y2="90.51" stroke="#1e1e32" stroke-width="0.7"/>
<line x1="374.60" y1="72.09" x2="374.60" y2="77.69" stroke="#1e1e32" stroke-width="0.7"/>
<line x1="373.60" y1="72.09" x2="375.60" y2="72.09" stroke="#1e1e32" stroke-width="0.7"/>
<line x1="373.60" y1="77.69" x2="375.60" y2="77.69" stroke="#1e1e32" stroke-width="0.7"/>
<path d="M371.00 63.75L371.00 66.25M369.92 64.38L372.08 65.62M369.92 65.62L372.08 64.38M374.60 63.75L374.60 66.25M373.52 64.38L375.68 65.62M373.52 65.62L375.68 64.38M378.20 63.75L378.20 66.25M377.12 64.38L379.28 65.62M377.12 65.62L379.28 64.38" stroke="#1e1e32" stroke-width="0.85" stroke-linecap="round"/>
<circle cx="395.93" cy="64.90" r="1.5" fill="#f29a20"/>
<circle cx="398.27" cy="61.00" r="1.5" fill="#f29a20"/>
<circle cx="394.22" cy="63.94" r="1.5" fill="#f29a20"/>
<circle cx="391.83" cy="62.78" r="1.5" fill="#f29a20"/>
<circle cx="390.36" cy="59.84" r="1.5" fill="#f29a20"/>
<circle cx="394.40" cy="44.92" r="1.5" fill="#a8123a"/>
<circle cx="396.23" cy="40.02" r="1.5" fill="#a8123a"/>
<circle cx="392.27" cy="42.93" r="1.5" fill="#a8123a"/>
<circle cx="398.19" cy="47.01" r="1.5" fill="#a8123a"/>
<circle cx="389.82" cy="49.84" r="1.5" fill="#a8123a"/>
<line x1="394.20" y1="60.43" x2="394.20" y2="64.63" stroke="#1e1e32" stroke-width="0.7"/>
<line x1="393.20" y1="60.43" x2="395.20" y2="60.43" stroke="#1e1e32" stroke-width="0.7"/>
<line x1="393.20" y1="64.63" x2="395.20" y2="64.63" stroke="#1e1e32" stroke-width="0.7"/>
<line x1="394.20" y1="40.74" x2="394.20" y2="49.14" stroke="#1e1e32" stroke-width="0.7"/>
<line x1="393.20" y1="40.74" x2="395.20" y2="40.74" stroke="#1e1e32" stroke-width="0.7"/>
<line x1="393.20" y1="49.14" x2="395.20" y2="49.14" stroke="#1e1e32" stroke-width="0.7"/>
<path d="M392.40 33.25L392.40 35.75M391.32 33.88L393.48 35.12M391.32 35.12L393.48 33.88M396.00 33.25L396.00 35.75M394.92 33.88L397.08 35.12M394.92 35.12L397.08 33.88" stroke="#1e1e32" stroke-width="0.85" stroke-linecap="round"/>
<line x1="326.00" y1="98.20" x2="326.00" y2="26.00" stroke="#231f20" stroke-width="1.35"/>
<line x1="322.80" y1="97.70" x2="326.00" y2="97.70" stroke="#231f20" stroke-width="0.9"/>
<text x="319.90" y="100.47" font-size="7.8" text-anchor="end" fill="#231f20" stroke="#231f20" stroke-width="0.22">0</text>
<line x1="322.80" y1="83.96" x2="326.00" y2="83.96" stroke="#231f20" stroke-width="0.9"/>
<text x="319.90" y="86.73" font-size="7.8" text-anchor="end" fill="#231f20" stroke="#231f20" stroke-width="0.22">0.5</text>
<line x1="322.80" y1="70.22" x2="326.00" y2="70.22" stroke="#231f20" stroke-width="0.9"/>
<text x="319.90" y="72.99" font-size="7.8" text-anchor="end" fill="#231f20" stroke="#231f20" stroke-width="0.22">1</text>
<line x1="322.80" y1="56.48" x2="326.00" y2="56.48" stroke="#231f20" stroke-width="0.9"/>
<text x="319.90" y="59.25" font-size="7.8" text-anchor="end" fill="#231f20" stroke="#231f20" stroke-width="0.22">1.5</text>
<line x1="322.80" y1="42.74" x2="326.00" y2="42.74" stroke="#231f20" stroke-width="0.9"/>
<text x="319.90" y="45.51" font-size="7.8" text-anchor="end" fill="#231f20" stroke="#231f20" stroke-width="0.22">2</text>
<line x1="322.80" y1="29.00" x2="326.00" y2="29.00" stroke="#231f20" stroke-width="0.9"/>
<text x="319.90" y="31.77" font-size="7.8" text-anchor="end" fill="#231f20" stroke="#231f20" stroke-width="0.22">2.5</text>
<line x1="325.50" y1="97.70" x2="401.00" y2="97.70" stroke="#231f20" stroke-width="1.4"/>
<line x1="336.00" y1="97.70" x2="336.00" y2="100.70" stroke="#231f20" stroke-width="0.9"/>
<text x="336.00" y="110.20" font-size="7.8" text-anchor="middle" fill="#231f20" stroke="#231f20" stroke-width="0.22">0</text>
<line x1="355.20" y1="97.70" x2="355.20" y2="100.70" stroke="#231f20" stroke-width="0.9"/>
<text x="355.20" y="110.20" font-size="7.8" text-anchor="middle" fill="#231f20" stroke="#231f20" stroke-width="0.22">3</text>
<line x1="374.60" y1="97.70" x2="374.60" y2="100.70" stroke="#231f20" stroke-width="0.9"/>
<text x="374.60" y="110.20" font-size="7.8" text-anchor="middle" fill="#231f20" stroke="#231f20" stroke-width="0.22">7</text>
<line x1="394.20" y1="97.70" x2="394.20" y2="100.70" stroke="#231f20" stroke-width="0.9"/>
<text x="394.20" y="110.20" font-size="7.8" text-anchor="middle" fill="#231f20" stroke="#231f20" stroke-width="0.22">14</text>
<text x="360.50" y="28.00" font-size="7.9" text-anchor="middle" fill="#231f20" stroke="#231f20" stroke-width="0.22" textLength="39" lengthAdjust="spacingAndGlyphs">SLAM HSC</text>
<text x="365.10" y="121.70" font-size="10.3" text-anchor="middle" fill="#231f20" stroke="#231f20" stroke-width="0.22" textLength="72" lengthAdjust="spacingAndGlyphs">Time after 5FU (days)</text>
<text x="12.00" y="61.50" font-size="9.6" text-anchor="middle" fill="#231f20" stroke="#231f20" stroke-width="0.12" textLength="66.5" lengthAdjust="spacingAndGlyphs" transform="rotate(-90 12.00 61.50)">Cells per leg (×10<tspan dy="-3" font-size="6">4</tspan><tspan dy="3">)</tspan></text>
<text x="409.80" y="9.90" font-size="11.5" text-anchor="start" fill="#111" font-weight="bold">B</text>
<rect x="435.00" y="5.50" width="3.80" height="3.80" fill="#f0921a"/>
<text x="442.50" y="10.10" font-size="7.8" text-anchor="start" fill="#231f20" stroke="#231f20" stroke-width="0.22" textLength="10.9" lengthAdjust="spacingAndGlyphs">G0</text>
<rect x="460.00" y="5.50" width="3.80" height="3.80" fill="#5a2a78"/>
<text x="466.70" y="10.10" font-size="7.8" text-anchor="start" fill="#231f20" stroke="#231f20" stroke-width="0.22" textLength="9.1" lengthAdjust="spacingAndGlyphs">G1</text>
<rect x="483.40" y="5.50" width="3.80" height="3.80" fill="#1b5a94"/>
<text x="490.60" y="10.10" font-size="7.8" text-anchor="start" fill="#231f20" stroke="#231f20" stroke-width="0.22" textLength="25.9" lengthAdjust="spacingAndGlyphs">G2/S/M</text>
<text x="459.90" y="21.60" font-size="7.8" text-anchor="middle" fill="#231f20" stroke="#231f20" stroke-width="0.22" textLength="11.3" lengthAdjust="spacingAndGlyphs">WT</text>
<text x="485.00" y="21.60" font-size="7.8" fill="#b8143e" stroke="#b8143e" stroke-width="0.22" textLength="21" lengthAdjust="spacingAndGlyphs">Sphk2</text>
<text x="506.40" y="18.48" font-size="4.68" fill="#b8143e" stroke="#b8143e" stroke-width="0.1" textLength="8.5" lengthAdjust="spacingAndGlyphs">Δ/Δ</text>
<line x1="443.50" y1="24.20" x2="476.00" y2="24.20" stroke="#231f20" stroke-width="0.9"/>
<line x1="484.50" y1="24.20" x2="517.00" y2="24.20" stroke="#231f20" stroke-width="0.9"/>
<rect x="444.10" y="49.78" width="3.60" height="48.02" fill="#f0921a"/>
<rect x="444.10" y="36.06" width="3.60" height="13.72" fill="#5a2a78"/>
<rect x="444.10" y="29.20" width="3.60" height="6.86" fill="#1b5a94"/>
<line x1="444.10" y1="49.78" x2="447.70" y2="49.78" stroke="#2a1020" stroke-width="0.7"/>
<line x1="444.10" y1="36.06" x2="447.70" y2="36.06" stroke="#1a1a30" stroke-width="0.6"/>
<line x1="444.70" y1="28.30" x2="447.10" y2="28.30" stroke="#231f20" stroke-width="0.6"/>
<line x1="445.90" y1="28.30" x2="445.90" y2="30.20" stroke="#231f20" stroke-width="0.6"/>
<rect x="453.60" y="67.62" width="3.60" height="30.18" fill="#f0921a"/>
<rect x="453.60" y="46.62" width="3.60" height="20.99" fill="#5a2a78"/>
<rect x="453.60" y="29.20" width="3.60" height="17.42" fill="#1b5a94"/>
<line x1="453.60" y1="67.62" x2="457.20" y2="67.62" stroke="#2a1020" stroke-width="0.7"/>
<line x1="453.60" y1="46.62" x2="457.20" y2="46.62" stroke="#1a1a30" stroke-width="0.6"/>
<line x1="454.20" y1="28.30" x2="456.60" y2="28.30" stroke="#231f20" stroke-width="0.6"/>
<line x1="455.40" y1="28.30" x2="455.40" y2="30.20" stroke="#231f20" stroke-width="0.6"/>
<rect x="463.50" y="60.28" width="3.60" height="37.52" fill="#f0921a"/>
<rect x="463.50" y="47.72" width="3.60" height="12.55" fill="#5a2a78"/>
<rect x="463.50" y="29.20" width="3.60" height="18.52" fill="#1b5a94"/>
<line x1="463.50" y1="60.28" x2="467.10" y2="60.28" stroke="#2a1020" stroke-width="0.7"/>
<line x1="463.50" y1="47.72" x2="467.10" y2="47.72" stroke="#1a1a30" stroke-width="0.6"/>
<line x1="464.10" y1="28.30" x2="466.50" y2="28.30" stroke="#231f20" stroke-width="0.6"/>
<line x1="465.30" y1="28.30" x2="465.30" y2="30.20" stroke="#231f20" stroke-width="0.6"/>
<rect x="473.50" y="56.23" width="3.60" height="41.57" fill="#f0921a"/>
<rect x="473.50" y="41.00" width="3.60" height="15.23" fill="#5a2a78"/>
<rect x="473.50" y="29.20" width="3.60" height="11.80" fill="#1b5a94"/>
<line x1="473.50" y1="56.23" x2="477.10" y2="56.23" stroke="#2a1020" stroke-width="0.7"/>
<line x1="473.50" y1="41.00" x2="477.10" y2="41.00" stroke="#1a1a30" stroke-width="0.6"/>
<line x1="474.10" y1="28.30" x2="476.50" y2="28.30" stroke="#231f20" stroke-width="0.6"/>
<line x1="475.30" y1="28.30" x2="475.30" y2="30.20" stroke="#231f20" stroke-width="0.6"/>
<rect x="483.20" y="41.75" width="3.60" height="56.05" fill="#f0921a"/>
<rect x="483.20" y="31.26" width="3.60" height="10.50" fill="#5a2a78"/>
<rect x="483.20" y="29.20" width="3.60" height="2.06" fill="#1b5a94"/>
<line x1="483.20" y1="41.75" x2="486.80" y2="41.75" stroke="#2a1020" stroke-width="0.7"/>
<line x1="483.20" y1="31.26" x2="486.80" y2="31.26" stroke="#1a1a30" stroke-width="0.6"/>
<line x1="483.80" y1="28.30" x2="486.20" y2="28.30" stroke="#231f20" stroke-width="0.6"/>
<line x1="485.00" y1="28.30" x2="485.00" y2="30.20" stroke="#231f20" stroke-width="0.6"/>
<rect x="493.20" y="59.52" width="3.60" height="38.28" fill="#f0921a"/>
<rect x="493.20" y="45.73" width="3.60" height="13.79" fill="#5a2a78"/>
<rect x="493.20" y="29.20" width="3.60" height="16.53" fill="#1b5a94"/>
<line x1="493.20" y1="59.52" x2="496.80" y2="59.52" stroke="#2a1020" stroke-width="0.7"/>
<line x1="493.20" y1="45.73" x2="496.80" y2="45.73" stroke="#1a1a30" stroke-width="0.6"/>
<line x1="493.80" y1="28.30" x2="496.20" y2="28.30" stroke="#231f20" stroke-width="0.6"/>
<line x1="495.00" y1="28.30" x2="495.00" y2="30.20" stroke="#231f20" stroke-width="0.6"/>
<rect x="503.20" y="57.94" width="3.60" height="39.86" fill="#f0921a"/>
<rect x="503.20" y="42.58" width="3.60" height="15.37" fill="#5a2a78"/>
<rect x="503.20" y="29.20" width="3.60" height="13.38" fill="#1b5a94"/>
<line x1="503.20" y1="57.94" x2="506.80" y2="57.94" stroke="#2a1020" stroke-width="0.7"/>
<line x1="503.20" y1="42.58" x2="506.80" y2="42.58" stroke="#1a1a30" stroke-width="0.6"/>
<line x1="503.80" y1="28.30" x2="506.20" y2="28.30" stroke="#231f20" stroke-width="0.6"/>
<line x1="505.00" y1="28.30" x2="505.00" y2="30.20" stroke="#231f20" stroke-width="0.6"/>
<rect x="512.90" y="52.25" width="3.60" height="45.55" fill="#f0921a"/>
<rect x="512.90" y="39.35" width="3.60" height="12.90" fill="#5a2a78"/>
<rect x="512.90" y="29.20" width="3.60" height="10.15" fill="#1b5a94"/>
<line x1="512.90" y1="52.25" x2="516.50" y2="52.25" stroke="#2a1020" stroke-width="0.7"/>
<line x1="512.90" y1="39.35" x2="516.50" y2="39.35" stroke="#1a1a30" stroke-width="0.6"/>
<line x1="513.50" y1="28.30" x2="515.90" y2="28.30" stroke="#231f20" stroke-width="0.6"/>
<line x1="514.70" y1="28.30" x2="514.70" y2="30.20" stroke="#231f20" stroke-width="0.6"/>
<line x1="465.30" y1="25.60" x2="465.30" y2="31.00" stroke="#231f20" stroke-width="0.6"/>
<line x1="464.30" y1="25.60" x2="466.30" y2="25.60" stroke="#231f20" stroke-width="0.6"/>
<line x1="464.30" y1="31.00" x2="466.30" y2="31.00" stroke="#231f20" stroke-width="0.6"/>
<line x1="444.90" y1="31.00" x2="484.50" y2="31.00" stroke="#2a2a2a" stroke-width="1.1"/>
<path d="M478.90 27.57L478.90 29.82M477.93 28.14L479.87 29.26M477.93 29.26L479.87 28.14M482.10 27.57L482.10 29.82M481.13 28.14L483.07 29.26M481.13 29.26L483.07 28.14" stroke="#262626" stroke-width="0.77" stroke-linecap="round"/>
<line x1="457.00" y1="35.80" x2="493.40" y2="35.80" stroke="#2a2a2a" stroke-width="1.1"/>
<path d="M488.40 32.38L488.40 34.62M487.43 32.94L489.37 34.06M487.43 34.06L489.37 32.94M491.60 32.38L491.60 34.62M490.63 32.94L492.57 34.06M490.63 34.06L492.57 32.94" stroke="#262626" stroke-width="0.77" stroke-linecap="round"/>
<line x1="448.00" y1="40.70" x2="482.80" y2="40.70" stroke="#2a2a2a" stroke-width="1.1"/>
<path d="M479.60 37.28L479.60 39.53M478.63 37.84L480.57 38.96M478.63 38.96L480.57 37.84" stroke="#262626" stroke-width="0.77" stroke-linecap="round"/>
<line x1="457.00" y1="50.40" x2="493.00" y2="50.40" stroke="#2a2a2a" stroke-width="1.1"/>
<path d="M489.80 46.98L489.80 49.23M488.83 47.54L490.77 48.66M488.83 48.66L490.77 47.54" stroke="#262626" stroke-width="0.77" stroke-linecap="round"/>
<line x1="466.70" y1="55.20" x2="502.20" y2="55.20" stroke="#2a2a2a" stroke-width="1.1"/>
<path d="M499.50 51.78L499.50 54.03M498.53 52.34L500.47 53.46M498.53 53.46L500.47 52.34" stroke="#262626" stroke-width="0.77" stroke-linecap="round"/>
<line x1="448.00" y1="72.20" x2="482.80" y2="72.20" stroke="#2a2a2a" stroke-width="1.1"/>
<path d="M478.90 68.78L478.90 71.03M477.93 69.34L479.87 70.46M477.93 70.46L479.87 69.34M482.10 68.78L482.10 71.03M481.13 69.34L483.07 70.46M481.13 70.46L483.07 69.34" stroke="#262626" stroke-width="0.77" stroke-linecap="round"/>
<line x1="457.80" y1="78.60" x2="493.40" y2="78.60" stroke="#2a2a2a" stroke-width="1.1"/>
<path d="M488.40 75.17L488.40 77.42M487.43 75.74L489.37 76.86M487.43 76.86L489.37 75.74M491.60 75.17L491.60 77.42M490.63 75.74L492.57 76.86M490.63 76.86L492.57 75.74" stroke="#262626" stroke-width="0.77" stroke-linecap="round"/>
<line x1="467.50" y1="85.40" x2="502.20" y2="85.40" stroke="#2a2a2a" stroke-width="1.1"/>
<path d="M499.50 81.98L499.50 84.23M498.53 82.54L500.47 83.66M498.53 83.66L500.47 82.54" stroke="#262626" stroke-width="0.77" stroke-linecap="round"/>
<line x1="477.20" y1="91.60" x2="512.00" y2="91.60" stroke="#2a2a2a" stroke-width="1.1"/>
<path d="M507.90 88.17L507.90 90.42M506.93 88.74L508.87 89.86M506.93 89.86L508.87 88.74M511.10 88.17L511.10 90.42M510.13 88.74L512.07 89.86M510.13 89.86L512.07 88.74" stroke="#262626" stroke-width="0.77" stroke-linecap="round"/>
<line x1="440.90" y1="98.30" x2="440.90" y2="26.20" stroke="#231f20" stroke-width="1.35"/>
<line x1="437.70" y1="97.80" x2="440.90" y2="97.80" stroke="#231f20" stroke-width="0.9"/>
<text x="434.80" y="100.57" font-size="7.8" text-anchor="end" fill="#231f20" stroke="#231f20" stroke-width="0.22">0</text>
<line x1="437.70" y1="84.08" x2="440.90" y2="84.08" stroke="#231f20" stroke-width="0.9"/>
<text x="434.80" y="86.85" font-size="7.8" text-anchor="end" fill="#231f20" stroke="#231f20" stroke-width="0.22">20</text>
<line x1="437.70" y1="70.36" x2="440.90" y2="70.36" stroke="#231f20" stroke-width="0.9"/>
<text x="434.80" y="73.13" font-size="7.8" text-anchor="end" fill="#231f20" stroke="#231f20" stroke-width="0.22">40</text>
<line x1="437.70" y1="56.64" x2="440.90" y2="56.64" stroke="#231f20" stroke-width="0.9"/>
<text x="434.80" y="59.41" font-size="7.8" text-anchor="end" fill="#231f20" stroke="#231f20" stroke-width="0.22">60</text>
<line x1="437.70" y1="42.92" x2="440.90" y2="42.92" stroke="#231f20" stroke-width="0.9"/>
<text x="434.80" y="45.69" font-size="7.8" text-anchor="end" fill="#231f20" stroke="#231f20" stroke-width="0.22">80</text>
<line x1="437.70" y1="29.20" x2="440.90" y2="29.20" stroke="#231f20" stroke-width="0.9"/>
<text x="434.80" y="31.97" font-size="7.8" text-anchor="end" fill="#231f20" stroke="#231f20" stroke-width="0.22">100</text>
<line x1="440.40" y1="97.80" x2="519.50" y2="97.80" stroke="#231f20" stroke-width="1.4"/>
<line x1="445.90" y1="97.80" x2="445.90" y2="100.80" stroke="#231f20" stroke-width="0.9"/>
<text x="445.90" y="110.20" font-size="8.1" text-anchor="middle" fill="#231f20" stroke="#231f20" stroke-width="0.22">0</text>
<line x1="455.40" y1="97.80" x2="455.40" y2="100.80" stroke="#231f20" stroke-width="0.9"/>
<text x="455.40" y="110.20" font-size="8.1" text-anchor="middle" fill="#231f20" stroke="#231f20" stroke-width="0.22">3</text>
<line x1="465.30" y1="97.80" x2="465.30" y2="100.80" stroke="#231f20" stroke-width="0.9"/>
<text x="465.30" y="110.20" font-size="8.1" text-anchor="middle" fill="#231f20" stroke="#231f20" stroke-width="0.22">7</text>
<line x1="475.30" y1="97.80" x2="475.30" y2="100.80" stroke="#231f20" stroke-width="0.9"/>
<text x="475.30" y="110.20" font-size="8.1" text-anchor="middle" fill="#231f20" stroke="#231f20" stroke-width="0.22">14</text>
<line x1="485.00" y1="97.80" x2="485.00" y2="100.80" stroke="#231f20" stroke-width="0.9"/>
<text x="485.00" y="110.20" font-size="8.1" text-anchor="middle" fill="#b8143e" stroke="#b8143e" stroke-width="0.22">0</text>
<line x1="495.00" y1="97.80" x2="495.00" y2="100.80" stroke="#231f20" stroke-width="0.9"/>
<text x="495.00" y="110.20" font-size="8.1" text-anchor="middle" fill="#b8143e" stroke="#b8143e" stroke-width="0.22">3</text>
<line x1="505.00" y1="97.80" x2="505.00" y2="100.80" stroke="#231f20" stroke-width="0.9"/>
<text x="505.00" y="110.20" font-size="8.1" text-anchor="middle" fill="#b8143e" stroke="#b8143e" stroke-width="0.22">7</text>
<line x1="514.70" y1="97.80" x2="514.70" y2="100.80" stroke="#231f20" stroke-width="0.9"/>
<text x="514.70" y="110.20" font-size="8.1" text-anchor="middle" fill="#b8143e" stroke="#b8143e" stroke-width="0.22">14</text>
<text x="479.60" y="122.30" font-size="10.3" text-anchor="middle" fill="#231f20" stroke="#231f20" stroke-width="0.22" textLength="71.6" lengthAdjust="spacingAndGlyphs">Time after 5FU (days)</text>
<text x="416.80" y="61.60" font-size="9.5" text-anchor="middle" fill="#231f20" stroke="#231f20" stroke-width="0.12" textLength="47.9" lengthAdjust="spacingAndGlyphs" transform="rotate(-90 416.80 61.60)">Frequency (%)</text>
<text x="4.00" y="143.90" font-size="11.5" text-anchor="start" fill="#111" font-weight="bold">C</text>
<line x1="40.60" y1="140.70" x2="53.90" y2="140.70" stroke="#f0921a" stroke-width="1.4"/>
<circle cx="47.25" cy="140.70" r="2.0" fill="#f0921a"/>
<text x="57.30" y="143.50" font-size="7.8" text-anchor="start" fill="#231f20" stroke="#231f20" stroke-width="0.22" textLength="11" lengthAdjust="spacingAndGlyphs">WT</text>
<line x1="40.60" y1="151.60" x2="53.90" y2="151.60" stroke="#b8143e" stroke-width="1.4"/>
<circle cx="47.25" cy="151.60" r="2.0" fill="#b8143e"/>
<text x="57.30" y="154.30" font-size="7.8" fill="#231f20" stroke="#231f20" stroke-width="0.22" textLength="21.0" lengthAdjust="spacingAndGlyphs">Sphk2</text>
<text x="78.70" y="151.18" font-size="4.68" fill="#231f20" stroke="#231f20" stroke-width="0.1" textLength="8.0" lengthAdjust="spacingAndGlyphs">Δ/Δ</text>
<path d="M45.00 221.85 L65.50 206.59 L85.50 184.64 L105.50 191.84" fill="none" stroke="#f0921a" stroke-width="1.4" stroke-linejoin="round"/>
<path d="M45.00 228.03 L65.50 221.17 L85.50 207.27 L105.50 212.59" fill="none" stroke="#b8143e" stroke-width="1.4" stroke-linejoin="round"/>
<circle cx="47.06" cy="218.38" r="1.5" fill="#f29a20"/>
<circle cx="40.70" cy="220.12" r="1.5" fill="#f29a20"/>
<circle cx="43.06" cy="225.16" r="1.5" fill="#f29a20"/>
<circle cx="45.29" cy="222.17" r="1.5" fill="#f29a20"/>
<circle cx="49.08" cy="223.67" r="1.5" fill="#f29a20"/>
<circle cx="41.17" cy="230.00" r="1.5" fill="#a8123a"/>
<circle cx="48.99" cy="226.21" r="1.5" fill="#a8123a"/>
<circle cx="47.21" cy="224.66" r="1.5" fill="#a8123a"/>
<circle cx="42.91" cy="231.54" r="1.5" fill="#a8123a"/>
<circle cx="45.34" cy="228.01" r="1.5" fill="#a8123a"/>
<line x1="45.00" y1="218.85" x2="45.00" y2="224.85" stroke="#1e1e32" stroke-width="0.7"/>
<line x1="44.00" y1="218.85" x2="46.00" y2="218.85" stroke="#1e1e32" stroke-width="0.7"/>
<line x1="44.00" y1="224.85" x2="46.00" y2="224.85" stroke="#1e1e32" stroke-width="0.7"/>
<line x1="45.00" y1="225.03" x2="45.00" y2="231.03" stroke="#1e1e32" stroke-width="0.7"/>
<line x1="44.00" y1="225.03" x2="46.00" y2="225.03" stroke="#1e1e32" stroke-width="0.7"/>
<line x1="44.00" y1="231.03" x2="46.00" y2="231.03" stroke="#1e1e32" stroke-width="0.7"/>
<circle cx="61.52" cy="211.09" r="1.5" fill="#f29a20"/>
<circle cx="63.75" cy="209.38" r="1.5" fill="#f29a20"/>
<circle cx="65.67" cy="201.89" r="1.5" fill="#f29a20"/>
<circle cx="69.76" cy="206.22" r="1.5" fill="#f29a20"/>
<circle cx="67.63" cy="204.38" r="1.5" fill="#f29a20"/>
<circle cx="61.41" cy="217.89" r="1.5" fill="#a8123a"/>
<circle cx="67.75" cy="219.38" r="1.5" fill="#a8123a"/>
<circle cx="63.31" cy="222.87" r="1.5" fill="#a8123a"/>
<circle cx="65.75" cy="224.17" r="1.5" fill="#a8123a"/>
<circle cx="69.72" cy="221.41" r="1.5" fill="#a8123a"/>
<line x1="65.50" y1="202.09" x2="65.50" y2="211.09" stroke="#1e1e32" stroke-width="0.7"/>
<line x1="64.50" y1="202.09" x2="66.50" y2="202.09" stroke="#1e1e32" stroke-width="0.7"/>
<line x1="64.50" y1="211.09" x2="66.50" y2="211.09" stroke="#1e1e32" stroke-width="0.7"/>
<line x1="65.50" y1="218.17" x2="65.50" y2="224.17" stroke="#1e1e32" stroke-width="0.7"/>
<line x1="64.50" y1="218.17" x2="66.50" y2="218.17" stroke="#1e1e32" stroke-width="0.7"/>
<line x1="64.50" y1="224.17" x2="66.50" y2="224.17" stroke="#1e1e32" stroke-width="0.7"/>
<circle cx="85.50" cy="184.86" r="1.5" fill="#f29a20"/>
<circle cx="81.37" cy="189.01" r="1.5" fill="#f29a20"/>
<circle cx="83.19" cy="182.76" r="1.5" fill="#f29a20"/>
<circle cx="87.12" cy="186.41" r="1.5" fill="#f29a20"/>
<circle cx="89.20" cy="181.02" r="1.5" fill="#f29a20"/>
<circle cx="87.48" cy="209.04" r="1.5" fill="#a8123a"/>
<circle cx="81.33" cy="203.46" r="1.5" fill="#a8123a"/>
<circle cx="89.15" cy="211.01" r="1.5" fill="#a8123a"/>
<circle cx="83.25" cy="205.11" r="1.5" fill="#a8123a"/>
<circle cx="85.43" cy="207.31" r="1.5" fill="#a8123a"/>
<line x1="85.50" y1="180.89" x2="85.50" y2="188.39" stroke="#1e1e32" stroke-width="0.7"/>
<line x1="84.50" y1="180.89" x2="86.50" y2="180.89" stroke="#1e1e32" stroke-width="0.7"/>
<line x1="84.50" y1="188.39" x2="86.50" y2="188.39" stroke="#1e1e32" stroke-width="0.7"/>
<line x1="85.50" y1="203.52" x2="85.50" y2="211.02" stroke="#1e1e32" stroke-width="0.7"/>
<line x1="84.50" y1="203.52" x2="86.50" y2="203.52" stroke="#1e1e32" stroke-width="0.7"/>
<line x1="84.50" y1="211.02" x2="86.50" y2="211.02" stroke="#1e1e32" stroke-width="0.7"/>
<circle cx="107.23" cy="195.02" r="1.5" fill="#f29a20"/>
<circle cx="109.57" cy="189.91" r="1.5" fill="#f29a20"/>
<circle cx="105.52" cy="193.66" r="1.5" fill="#f29a20"/>
<circle cx="103.13" cy="192.10" r="1.5" fill="#f29a20"/>
<circle cx="101.66" cy="188.35" r="1.5" fill="#f29a20"/>
<circle cx="105.70" cy="212.57" r="1.5" fill="#a8123a"/>
<circle cx="107.53" cy="206.88" r="1.5" fill="#a8123a"/>
<circle cx="103.57" cy="210.18" r="1.5" fill="#a8123a"/>
<circle cx="109.49" cy="215.06" r="1.5" fill="#a8123a"/>
<circle cx="101.12" cy="218.29" r="1.5" fill="#a8123a"/>
<line x1="105.50" y1="188.84" x2="105.50" y2="194.84" stroke="#1e1e32" stroke-width="0.7"/>
<line x1="104.50" y1="188.84" x2="106.50" y2="188.84" stroke="#1e1e32" stroke-width="0.7"/>
<line x1="104.50" y1="194.84" x2="106.50" y2="194.84" stroke="#1e1e32" stroke-width="0.7"/>
<line x1="105.50" y1="207.34" x2="105.50" y2="217.84" stroke="#1e1e32" stroke-width="0.7"/>
<line x1="104.50" y1="207.34" x2="106.50" y2="207.34" stroke="#1e1e32" stroke-width="0.7"/>
<line x1="104.50" y1="217.84" x2="106.50" y2="217.84" stroke="#1e1e32" stroke-width="0.7"/>
<path d="M45.00 213.75L45.00 216.25M43.92 214.38L46.08 215.62M43.92 215.62L46.08 214.38" stroke="#1e1e32" stroke-width="0.85" stroke-linecap="round"/>
<path d="M63.70 194.25L63.70 196.75M62.62 194.88L64.78 196.12M62.62 196.12L64.78 194.88M67.30 194.25L67.30 196.75M66.22 194.88L68.38 196.12M66.22 196.12L68.38 194.88" stroke="#1e1e32" stroke-width="0.85" stroke-linecap="round"/>
<path d="M81.90 172.45L81.90 174.95M80.82 173.07L82.98 174.32M80.82 174.32L82.98 173.07M85.50 172.45L85.50 174.95M84.42 173.07L86.58 174.32M84.42 174.32L86.58 173.07M89.10 172.45L89.10 174.95M88.02 173.07L90.18 174.32M88.02 174.32L90.18 173.07" stroke="#1e1e32" stroke-width="0.85" stroke-linecap="round"/>
<path d="M101.90 182.45L101.90 184.95M100.82 183.07L102.98 184.32M100.82 184.32L102.98 183.07M105.50 182.45L105.50 184.95M104.42 183.07L106.58 184.32M104.42 184.32L106.58 183.07M109.10 182.45L109.10 184.95M108.02 183.07L110.18 184.32M108.02 184.32L110.18 183.07" stroke="#1e1e32" stroke-width="0.85" stroke-linecap="round"/>
<line x1="35.20" y1="235.90" x2="35.20" y2="163.80" stroke="#231f20" stroke-width="1.35"/>
<line x1="32.00" y1="235.40" x2="35.20" y2="235.40" stroke="#231f20" stroke-width="0.9"/>
<text x="29.10" y="238.17" font-size="7.8" text-anchor="end" fill="#231f20" stroke="#231f20" stroke-width="0.22">0</text>
<line x1="32.00" y1="218.25" x2="35.20" y2="218.25" stroke="#231f20" stroke-width="0.9"/>
<text x="29.10" y="221.02" font-size="7.8" text-anchor="end" fill="#231f20" stroke="#231f20" stroke-width="0.22">10</text>
<line x1="32.00" y1="201.10" x2="35.20" y2="201.10" stroke="#231f20" stroke-width="0.9"/>
<text x="29.10" y="203.87" font-size="7.8" text-anchor="end" fill="#231f20" stroke="#231f20" stroke-width="0.22">20</text>
<line x1="32.00" y1="183.95" x2="35.20" y2="183.95" stroke="#231f20" stroke-width="0.9"/>
<text x="29.10" y="186.72" font-size="7.8" text-anchor="end" fill="#231f20" stroke="#231f20" stroke-width="0.22">30</text>
<line x1="32.00" y1="166.80" x2="35.20" y2="166.80" stroke="#231f20" stroke-width="0.9"/>
<text x="29.10" y="169.57" font-size="7.8" text-anchor="end" fill="#231f20" stroke="#231f20" stroke-width="0.22">40</text>
<line x1="34.70" y1="235.40" x2="114.00" y2="235.40" stroke="#231f20" stroke-width="1.4"/>
<line x1="45.00" y1="235.40" x2="45.00" y2="238.40" stroke="#231f20" stroke-width="0.9"/>
<text x="45.00" y="247.90" font-size="7.8" text-anchor="middle" fill="#231f20" stroke="#231f20" stroke-width="0.22">0</text>
<line x1="65.50" y1="235.40" x2="65.50" y2="238.40" stroke="#231f20" stroke-width="0.9"/>
<text x="65.50" y="247.90" font-size="7.8" text-anchor="middle" fill="#231f20" stroke="#231f20" stroke-width="0.22">3</text>
<line x1="85.50" y1="235.40" x2="85.50" y2="238.40" stroke="#231f20" stroke-width="0.9"/>
<text x="85.50" y="247.90" font-size="7.8" text-anchor="middle" fill="#231f20" stroke="#231f20" stroke-width="0.22">7</text>
<line x1="105.50" y1="235.40" x2="105.50" y2="238.40" stroke="#231f20" stroke-width="0.9"/>
<text x="105.50" y="247.90" font-size="7.8" text-anchor="middle" fill="#231f20" stroke="#231f20" stroke-width="0.22">14</text>
<text x="76.00" y="259.20" font-size="10.3" text-anchor="middle" fill="#231f20" stroke="#231f20" stroke-width="0.22" textLength="71.4" lengthAdjust="spacingAndGlyphs">Time after 5FU (days)</text>
<text x="13.70" y="198.60" font-size="9.5" text-anchor="middle" fill="#231f20" stroke="#231f20" stroke-width="0.12" textLength="52.3" lengthAdjust="spacingAndGlyphs" transform="rotate(-90 13.70 198.60)">AnnexinV+ (%)</text>
<text x="132.30" y="143.90" font-size="11.5" text-anchor="start" fill="#111" font-weight="bold">D</text>
<text x="154.60" y="166.20" font-size="8.8" text-anchor="start" fill="#231f20" stroke="#231f20" stroke-width="0.22" textLength="47.3" lengthAdjust="spacingAndGlyphs">5FU injection</text>
<g transform="translate(163.80 169.60) scale(0.95)"><path d="M0.3 9.3 Q4 8.5 7.8 8.9" fill="none" stroke="#d9bcc2" stroke-width="1.1" stroke-linecap="round"/><path d="M6.8 9.3 C6.2 5.6, 9 2.3, 13.5 1.7 C15.5 1.4, 17 1.9, 18.2 2.9 L21.3 5.3 Q22.1 6.1, 21 6.5 L19.1 7.0 L18.7 9.3 Z" fill="#cdc8cc"/><ellipse cx="16.7" cy="1.9" rx="1.35" ry="1.3" fill="#b4aeb2"/><circle cx="19.7" cy="4.5" r="0.45" fill="#6a6468"/><path d="M9 9.3 L18 9.3" stroke="#b8b2b6" stroke-width="0.6"/></g>
<text x="146.00" y="188.50" font-size="8.8" text-anchor="start" fill="#231f20" stroke="#231f20" stroke-width="0.22" textLength="23" lengthAdjust="spacingAndGlyphs">7 days</text>
<line x1="175.40" y1="180.20" x2="175.40" y2="189.80" stroke="#231f20" stroke-width="1.1"/>
<path d="M172.98 189.50 L177.82 189.50 L175.40 193.90Z" fill="#231f20"/>
<line x1="172.30" y1="186.00" x2="175.40" y2="186.00" stroke="#231f20" stroke-width="0.9"/>
<text x="124.60" y="201.50" font-size="8.8" text-anchor="start" fill="#231f20" stroke="#231f20" stroke-width="0.22" textLength="28.9" lengthAdjust="spacingAndGlyphs">CD45.1</text>
<text x="131.50" y="210.60" font-size="8.8" text-anchor="start" fill="#231f20" stroke="#231f20" stroke-width="0.22" textLength="19.7" lengthAdjust="spacingAndGlyphs">WBM</text>
<g><circle cx="159.20" cy="197.30" r="1.55" fill="#b22a4a" stroke="#6a0a22" stroke-width="0.54"/><circle cx="162.80" cy="197.00" r="1.55" fill="#b22a4a" stroke="#6a0a22" stroke-width="0.54"/><circle cx="158.80" cy="200.60" r="1.55" fill="#b22a4a" stroke="#6a0a22" stroke-width="0.54"/><circle cx="162.40" cy="200.40" r="1.55" fill="#b22a4a" stroke="#6a0a22" stroke-width="0.54"/><circle cx="164.60" cy="199.00" r="1.55" fill="#b22a4a" stroke="#6a0a22" stroke-width="0.54"/><circle cx="159.60" cy="203.40" r="1.55" fill="#b22a4a" stroke="#6a0a22" stroke-width="0.54"/><circle cx="163.00" cy="203.20" r="1.55" fill="#b22a4a" stroke="#6a0a22" stroke-width="0.54"/><circle cx="159.35" cy="197.40" r="0.65" fill="#eeb0bf"/><circle cx="162.95" cy="197.10" r="0.65" fill="#eeb0bf"/><circle cx="158.95" cy="200.70" r="0.65" fill="#eeb0bf"/><circle cx="162.55" cy="200.50" r="0.65" fill="#eeb0bf"/><circle cx="164.75" cy="199.10" r="0.65" fill="#eeb0bf"/><circle cx="159.75" cy="203.50" r="0.65" fill="#eeb0bf"/><circle cx="163.15" cy="203.30" r="0.65" fill="#eeb0bf"/></g>
<text x="168.60" y="203.00" font-size="7" text-anchor="middle" fill="#231f20" stroke="#231f20" stroke-width="0.22">+</text>
<g><circle cx="173.20" cy="197.30" r="1.5" fill="#5a3a8a" stroke="#2c1456" stroke-width="0.52"/><circle cx="176.80" cy="197.00" r="1.5" fill="#5a3a8a" stroke="#2c1456" stroke-width="0.52"/><circle cx="172.80" cy="200.60" r="1.5" fill="#5a3a8a" stroke="#2c1456" stroke-width="0.52"/><circle cx="176.40" cy="200.40" r="1.5" fill="#5a3a8a" stroke="#2c1456" stroke-width="0.52"/><circle cx="178.00" cy="199.00" r="1.5" fill="#5a3a8a" stroke="#2c1456" stroke-width="0.52"/><circle cx="173.60" cy="203.40" r="1.5" fill="#5a3a8a" stroke="#2c1456" stroke-width="0.52"/><circle cx="177.00" cy="203.20" r="1.5" fill="#5a3a8a" stroke="#2c1456" stroke-width="0.52"/><circle cx="173.35" cy="197.40" r="0.63" fill="#c4b4dc"/><circle cx="176.95" cy="197.10" r="0.63" fill="#c4b4dc"/><circle cx="172.95" cy="200.70" r="0.63" fill="#c4b4dc"/><circle cx="176.55" cy="200.50" r="0.63" fill="#c4b4dc"/><circle cx="178.15" cy="199.10" r="0.63" fill="#c4b4dc"/><circle cx="173.75" cy="203.50" r="0.63" fill="#c4b4dc"/><circle cx="177.15" cy="203.30" r="0.63" fill="#c4b4dc"/></g>
<text x="181.20" y="201.50" font-size="8.8" text-anchor="start" fill="#231f20" stroke="#231f20" stroke-width="0.22" textLength="27.7" lengthAdjust="spacingAndGlyphs">CD45.2</text>
<text x="182.30" y="210.60" font-size="8.8" text-anchor="start" fill="#231f20" stroke="#231f20" stroke-width="0.22" textLength="19.7" lengthAdjust="spacingAndGlyphs">WBM</text>
<line x1="168.40" y1="205.40" x2="168.40" y2="210.30" stroke="#231f20" stroke-width="1.1"/>
<path d="M165.98 210.00 L170.82 210.00 L168.40 214.40Z" fill="#231f20"/>
<g transform="translate(159.20 215.80) scale(0.95)"><path d="M0.3 9.3 Q4 8.5 7.8 8.9" fill="none" stroke="#d9bcc2" stroke-width="1.1" stroke-linecap="round"/><path d="M6.8 9.3 C6.2 5.6, 9 2.3, 13.5 1.7 C15.5 1.4, 17 1.9, 18.2 2.9 L21.3 5.3 Q22.1 6.1, 21 6.5 L19.1 7.0 L18.7 9.3 Z" fill="#cdc8cc"/><ellipse cx="16.7" cy="1.9" rx="1.35" ry="1.3" fill="#b4aeb2"/><circle cx="19.7" cy="4.5" r="0.45" fill="#6a6468"/><path d="M9 9.3 L18 9.3" stroke="#b8b2b6" stroke-width="0.6"/></g>
<text x="185.80" y="222.20" font-size="8.8" text-anchor="start" fill="#231f20" stroke="#231f20" stroke-width="0.22" textLength="35.7" lengthAdjust="spacingAndGlyphs">Irradiated</text>
<line x1="168.50" y1="225.50" x2="168.50" y2="232.40" stroke="#231f20" stroke-width="1.1"/>
<path d="M166.08 232.10 L170.92 232.10 L168.50 236.50Z" fill="#231f20"/>
<text x="173.00" y="232.20" font-size="8.8" text-anchor="start" fill="#231f20" stroke="#231f20" stroke-width="0.22" textLength="61.2" lengthAdjust="spacingAndGlyphs">CD45.1 recipient</text>
<text x="150.00" y="242.50" font-size="8.8" text-anchor="start" fill="#231f20" stroke="#231f20" stroke-width="0.22" textLength="39.2" lengthAdjust="spacingAndGlyphs">PB analysis</text>
<text x="238.60" y="143.90" font-size="11.5" text-anchor="start" fill="#111" font-weight="bold">E</text>
<rect x="276.30" y="139.30" width="4.30" height="4.30" fill="#f0921a"/>
<text x="283.90" y="144.10" font-size="7.8" text-anchor="start" fill="#231f20" stroke="#231f20" stroke-width="0.22" textLength="11.1" lengthAdjust="spacingAndGlyphs">WT</text>
<rect x="276.30" y="149.90" width="4.30" height="4.30" fill="#b8143e"/>
<text x="283.90" y="154.70" font-size="7.8" fill="#231f20" stroke="#231f20" stroke-width="0.22" textLength="20.7" lengthAdjust="spacingAndGlyphs">Sphk2</text>
<text x="305.00" y="151.58" font-size="4.68" fill="#231f20" stroke="#231f20" stroke-width="0.1" textLength="8.9" lengthAdjust="spacingAndGlyphs">Δ/Δ</text>
<path d="M283.10 197.97 L309.40 188.07 L335.70 185.60 L362.00 177.93" fill="none" stroke="#f0921a" stroke-width="1.4" stroke-linejoin="round"/>
<path d="M283.10 181.89 L309.40 166.95 L335.70 160.85 L362.00 157.55" fill="none" stroke="#b8143e" stroke-width="1.4" stroke-linejoin="round"/>
<circle cx="283.45" cy="193.09" r="1.5" fill="#f29a20"/>
<circle cx="280.01" cy="195.15" r="1.5" fill="#f29a20"/>
<circle cx="286.32" cy="196.64" r="1.5" fill="#f29a20"/>
<circle cx="278.99" cy="199.18" r="1.5" fill="#f29a20"/>
<circle cx="287.19" cy="201.34" r="1.5" fill="#f29a20"/>
<circle cx="284.13" cy="197.82" r="1.5" fill="#f29a20"/>
<circle cx="281.45" cy="203.04" r="1.5" fill="#f29a20"/>
<circle cx="284.85" cy="179.95" r="1.5" fill="#a8123a"/>
<circle cx="281.20" cy="177.75" r="1.5" fill="#a8123a"/>
<circle cx="287.99" cy="185.70" r="1.5" fill="#a8123a"/>
<circle cx="286.45" cy="187.50" r="1.5" fill="#a8123a"/>
<circle cx="279.77" cy="175.58" r="1.5" fill="#a8123a"/>
<circle cx="282.87" cy="182.03" r="1.5" fill="#a8123a"/>
<circle cx="278.38" cy="183.98" r="1.5" fill="#a8123a"/>
<line x1="283.10" y1="194.12" x2="283.10" y2="201.82" stroke="#1e1e32" stroke-width="0.7"/>
<line x1="282.10" y1="194.12" x2="284.10" y2="194.12" stroke="#1e1e32" stroke-width="0.7"/>
<line x1="282.10" y1="201.82" x2="284.10" y2="201.82" stroke="#1e1e32" stroke-width="0.7"/>
<line x1="283.10" y1="176.99" x2="283.10" y2="186.79" stroke="#1e1e32" stroke-width="0.7"/>
<line x1="282.10" y1="176.99" x2="284.10" y2="176.99" stroke="#1e1e32" stroke-width="0.7"/>
<line x1="282.10" y1="186.79" x2="284.10" y2="186.79" stroke="#1e1e32" stroke-width="0.7"/>
<circle cx="312.01" cy="186.29" r="1.5" fill="#f29a20"/>
<circle cx="306.68" cy="188.45" r="1.5" fill="#f29a20"/>
<circle cx="311.03" cy="190.36" r="1.5" fill="#f29a20"/>
<circle cx="307.99" cy="189.11" r="1.5" fill="#f29a20"/>
<circle cx="313.81" cy="187.02" r="1.5" fill="#f29a20"/>
<circle cx="305.45" cy="187.20" r="1.5" fill="#f29a20"/>
<circle cx="309.53" cy="187.80" r="1.5" fill="#f29a20"/>
<circle cx="313.98" cy="166.95" r="1.5" fill="#a8123a"/>
<circle cx="312.49" cy="167.96" r="1.5" fill="#a8123a"/>
<circle cx="307.82" cy="164.15" r="1.5" fill="#a8123a"/>
<circle cx="309.18" cy="165.81" r="1.5" fill="#a8123a"/>
<circle cx="306.18" cy="169.73" r="1.5" fill="#a8123a"/>
<circle cx="310.92" cy="170.90" r="1.5" fill="#a8123a"/>
<circle cx="305.02" cy="162.99" r="1.5" fill="#a8123a"/>
<line x1="309.40" y1="186.32" x2="309.40" y2="189.82" stroke="#1e1e32" stroke-width="0.7"/>
<line x1="308.40" y1="186.32" x2="310.40" y2="186.32" stroke="#1e1e32" stroke-width="0.7"/>
<line x1="308.40" y1="189.82" x2="310.40" y2="189.82" stroke="#1e1e32" stroke-width="0.7"/>
<line x1="309.40" y1="163.80" x2="309.40" y2="170.10" stroke="#1e1e32" stroke-width="0.7"/>
<line x1="308.40" y1="163.80" x2="310.40" y2="163.80" stroke="#1e1e32" stroke-width="0.7"/>
<line x1="308.40" y1="170.10" x2="310.40" y2="170.10" stroke="#1e1e32" stroke-width="0.7"/>
<circle cx="336.73" cy="184.32" r="1.5" fill="#f29a20"/>
<circle cx="334.53" cy="183.45" r="1.5" fill="#f29a20"/>
<circle cx="332.58" cy="185.34" r="1.5" fill="#f29a20"/>
<circle cx="338.37" cy="187.16" r="1.5" fill="#f29a20"/>
<circle cx="331.13" cy="186.94" r="1.5" fill="#f29a20"/>
<circle cx="335.30" cy="185.70" r="1.5" fill="#f29a20"/>
<circle cx="339.94" cy="186.37" r="1.5" fill="#f29a20"/>
<circle cx="335.40" cy="159.78" r="1.5" fill="#a8123a"/>
<circle cx="332.80" cy="163.45" r="1.5" fill="#a8123a"/>
<circle cx="330.91" cy="164.17" r="1.5" fill="#a8123a"/>
<circle cx="336.99" cy="160.72" r="1.5" fill="#a8123a"/>
<circle cx="339.05" cy="162.03" r="1.5" fill="#a8123a"/>
<circle cx="340.18" cy="158.63" r="1.5" fill="#a8123a"/>
<circle cx="334.45" cy="157.57" r="1.5" fill="#a8123a"/>
<line x1="335.70" y1="184.06" x2="335.70" y2="187.14" stroke="#1e1e32" stroke-width="0.7"/>
<line x1="334.70" y1="184.06" x2="336.70" y2="184.06" stroke="#1e1e32" stroke-width="0.7"/>
<line x1="334.70" y1="187.14" x2="336.70" y2="187.14" stroke="#1e1e32" stroke-width="0.7"/>
<line x1="335.70" y1="158.05" x2="335.70" y2="163.65" stroke="#1e1e32" stroke-width="0.7"/>
<line x1="334.70" y1="158.05" x2="336.70" y2="158.05" stroke="#1e1e32" stroke-width="0.7"/>
<line x1="334.70" y1="163.65" x2="336.70" y2="163.65" stroke="#1e1e32" stroke-width="0.7"/>
<circle cx="365.05" cy="175.67" r="1.5" fill="#f29a20"/>
<circle cx="366.20" cy="178.94" r="1.5" fill="#f29a20"/>
<circle cx="362.37" cy="177.19" r="1.5" fill="#f29a20"/>
<circle cx="358.02" cy="176.54" r="1.5" fill="#f29a20"/>
<circle cx="360.29" cy="177.65" r="1.5" fill="#f29a20"/>
<circle cx="363.63" cy="180.02" r="1.5" fill="#f29a20"/>
<circle cx="359.21" cy="180.74" r="1.5" fill="#f29a20"/>
<circle cx="357.49" cy="154.83" r="1.5" fill="#a8123a"/>
<circle cx="366.97" cy="160.10" r="1.5" fill="#a8123a"/>
<circle cx="360.09" cy="156.98" r="1.5" fill="#a8123a"/>
<circle cx="364.87" cy="155.62" r="1.5" fill="#a8123a"/>
<circle cx="363.94" cy="157.67" r="1.5" fill="#a8123a"/>
<circle cx="362.04" cy="158.74" r="1.5" fill="#a8123a"/>
<circle cx="358.51" cy="159.18" r="1.5" fill="#a8123a"/>
<line x1="362.00" y1="175.83" x2="362.00" y2="180.03" stroke="#1e1e32" stroke-width="0.7"/>
<line x1="361.00" y1="175.83" x2="363.00" y2="175.83" stroke="#1e1e32" stroke-width="0.7"/>
<line x1="361.00" y1="180.03" x2="363.00" y2="180.03" stroke="#1e1e32" stroke-width="0.7"/>
<line x1="362.00" y1="155.45" x2="362.00" y2="159.65" stroke="#1e1e32" stroke-width="0.7"/>
<line x1="361.00" y1="155.45" x2="363.00" y2="155.45" stroke="#1e1e32" stroke-width="0.7"/>
<line x1="361.00" y1="159.65" x2="363.00" y2="159.65" stroke="#1e1e32" stroke-width="0.7"/>
<path d="M279.50 208.35L279.50 210.85M278.42 208.97L280.58 210.22M278.42 210.22L280.58 208.97M283.10 208.35L283.10 210.85M282.02 208.97L284.18 210.22M282.02 210.22L284.18 208.97M286.70 208.35L286.70 210.85M285.62 208.97L287.78 210.22M285.62 210.22L287.78 208.97" stroke="#1e1e32" stroke-width="0.85" stroke-linecap="round"/>
<path d="M305.80 196.85L305.80 199.35M304.72 197.47L306.88 198.72M304.72 198.72L306.88 197.47M309.40 196.85L309.40 199.35M308.32 197.47L310.48 198.72M308.32 198.72L310.48 197.47M313.00 196.85L313.00 199.35M311.92 197.47L314.08 198.72M311.92 198.72L314.08 197.47" stroke="#1e1e32" stroke-width="0.85" stroke-linecap="round"/>
<path d="M332.10 191.75L332.10 194.25M331.02 192.38L333.18 193.62M331.02 193.62L333.18 192.38M335.70 191.75L335.70 194.25M334.62 192.38L336.78 193.62M334.62 193.62L336.78 192.38M339.30 191.75L339.30 194.25M338.22 192.38L340.38 193.62M338.22 193.62L340.38 192.38" stroke="#1e1e32" stroke-width="0.85" stroke-linecap="round"/>
<path d="M358.40 185.15L358.40 187.65M357.32 185.78L359.48 187.03M357.32 187.03L359.48 185.78M362.00 185.15L362.00 187.65M360.92 185.78L363.08 187.03M360.92 187.03L363.08 185.78M365.60 185.15L365.60 187.65M364.52 185.78L366.68 187.03M364.52 187.03L366.68 185.78" stroke="#1e1e32" stroke-width="0.85" stroke-linecap="round"/>
<line x1="269.90" y1="235.60" x2="269.90" y2="149.60" stroke="#231f20" stroke-width="1.35"/>
<line x1="266.70" y1="235.10" x2="269.90" y2="235.10" stroke="#231f20" stroke-width="0.9"/>
<text x="263.80" y="237.87" font-size="7.8" text-anchor="end" fill="#231f20" stroke="#231f20" stroke-width="0.22">0</text>
<line x1="266.70" y1="218.60" x2="269.90" y2="218.60" stroke="#231f20" stroke-width="0.9"/>
<text x="263.80" y="221.37" font-size="7.8" text-anchor="end" fill="#231f20" stroke="#231f20" stroke-width="0.22">20</text>
<line x1="266.70" y1="202.10" x2="269.90" y2="202.10" stroke="#231f20" stroke-width="0.9"/>
<text x="263.80" y="204.87" font-size="7.8" text-anchor="end" fill="#231f20" stroke="#231f20" stroke-width="0.22">40</text>
<line x1="266.70" y1="185.60" x2="269.90" y2="185.60" stroke="#231f20" stroke-width="0.9"/>
<text x="263.80" y="188.37" font-size="7.8" text-anchor="end" fill="#231f20" stroke="#231f20" stroke-width="0.22">60</text>
<line x1="266.70" y1="169.10" x2="269.90" y2="169.10" stroke="#231f20" stroke-width="0.9"/>
<text x="263.80" y="171.87" font-size="7.8" text-anchor="end" fill="#231f20" stroke="#231f20" stroke-width="0.22">80</text>
<line x1="266.70" y1="152.60" x2="269.90" y2="152.60" stroke="#231f20" stroke-width="0.9"/>
<text x="263.80" y="155.37" font-size="7.8" text-anchor="end" fill="#231f20" stroke="#231f20" stroke-width="0.22">100</text>
<line x1="269.40" y1="235.10" x2="373.00" y2="235.10" stroke="#231f20" stroke-width="1.4"/>
<line x1="283.10" y1="235.10" x2="283.10" y2="238.10" stroke="#231f20" stroke-width="0.9"/>
<text x="283.10" y="247.60" font-size="7.8" text-anchor="middle" fill="#231f20" stroke="#231f20" stroke-width="0.22">4</text>
<line x1="309.40" y1="235.10" x2="309.40" y2="238.10" stroke="#231f20" stroke-width="0.9"/>
<text x="309.40" y="247.60" font-size="7.8" text-anchor="middle" fill="#231f20" stroke="#231f20" stroke-width="0.22">8</text>
<line x1="335.70" y1="235.10" x2="335.70" y2="238.10" stroke="#231f20" stroke-width="0.9"/>
<text x="335.70" y="247.60" font-size="7.8" text-anchor="middle" fill="#231f20" stroke="#231f20" stroke-width="0.22">12</text>
<line x1="362.00" y1="235.10" x2="362.00" y2="238.10" stroke="#231f20" stroke-width="0.9"/>
<text x="362.00" y="247.60" font-size="7.8" text-anchor="middle" fill="#231f20" stroke="#231f20" stroke-width="0.22">16</text>
<text x="320.80" y="258.90" font-size="10.3" text-anchor="middle" fill="#231f20" stroke="#231f20" stroke-width="0.22" textLength="115.5" lengthAdjust="spacingAndGlyphs">Time after transplantation (weeks)</text>
<text x="244.90" y="191.90" font-size="9.5" text-anchor="middle" fill="#231f20" stroke="#231f20" stroke-width="0.12" textLength="61.3" lengthAdjust="spacingAndGlyphs" transform="rotate(-90 244.90 191.90)">Donor derived (%)</text>
<text x="385.80" y="143.90" font-size="11.5" text-anchor="start" fill="#111" font-weight="bold">F</text>
<rect x="426.65" y="217.74" width="6.30" height="17.66" fill="#1b5a94"/>
<rect x="426.65" y="195.98" width="6.30" height="21.75" fill="#3cae4a"/>
<rect x="426.65" y="159.60" width="6.30" height="36.38" fill="#5a2a78"/>
<line x1="426.65" y1="217.74" x2="432.95" y2="217.74" stroke="#222" stroke-width="0.8"/>
<line x1="426.65" y1="195.98" x2="432.95" y2="195.98" stroke="#222" stroke-width="0.8"/>
<line x1="429.80" y1="156.60" x2="429.80" y2="159.60" stroke="#231f20" stroke-width="0.7"/>
<line x1="428.60" y1="156.60" x2="431.00" y2="156.60" stroke="#231f20" stroke-width="0.7"/>
<line x1="428.60" y1="159.60" x2="431.00" y2="159.60" stroke="#231f20" stroke-width="0.7"/>
<rect x="458.25" y="206.82" width="6.30" height="28.58" fill="#1b5a94"/>
<rect x="458.25" y="183.63" width="6.30" height="23.19" fill="#3cae4a"/>
<rect x="458.25" y="159.60" width="6.30" height="24.03" fill="#5a2a78"/>
<line x1="458.25" y1="206.82" x2="464.55" y2="206.82" stroke="#222" stroke-width="0.8"/>
<line x1="458.25" y1="183.63" x2="464.55" y2="183.63" stroke="#222" stroke-width="0.8"/>
<line x1="461.40" y1="157.30" x2="461.40" y2="159.60" stroke="#231f20" stroke-width="0.7"/>
<line x1="460.20" y1="157.30" x2="462.60" y2="157.30" stroke="#231f20" stroke-width="0.7"/>
<line x1="460.20" y1="159.60" x2="462.60" y2="159.60" stroke="#231f20" stroke-width="0.7"/>
<line x1="418.00" y1="235.90" x2="418.00" y2="156.60" stroke="#231f20" stroke-width="1.35"/>
<line x1="414.80" y1="235.40" x2="418.00" y2="235.40" stroke="#231f20" stroke-width="0.9"/>
<text x="411.90" y="238.17" font-size="7.8" text-anchor="end" fill="#231f20" stroke="#231f20" stroke-width="0.22">0</text>
<line x1="414.80" y1="220.24" x2="418.00" y2="220.24" stroke="#231f20" stroke-width="0.9"/>
<text x="411.90" y="223.01" font-size="7.8" text-anchor="end" fill="#231f20" stroke="#231f20" stroke-width="0.22">20</text>
<line x1="414.80" y1="205.08" x2="418.00" y2="205.08" stroke="#231f20" stroke-width="0.9"/>
<text x="411.90" y="207.85" font-size="7.8" text-anchor="end" fill="#231f20" stroke="#231f20" stroke-width="0.22">40</text>
<line x1="414.80" y1="189.92" x2="418.00" y2="189.92" stroke="#231f20" stroke-width="0.9"/>
<text x="411.90" y="192.69" font-size="7.8" text-anchor="end" fill="#231f20" stroke="#231f20" stroke-width="0.22">60</text>
<line x1="414.80" y1="174.76" x2="418.00" y2="174.76" stroke="#231f20" stroke-width="0.9"/>
<text x="411.90" y="177.53" font-size="7.8" text-anchor="end" fill="#231f20" stroke="#231f20" stroke-width="0.22">80</text>
<line x1="414.80" y1="159.60" x2="418.00" y2="159.60" stroke="#231f20" stroke-width="0.9"/>
<text x="411.90" y="162.37" font-size="7.8" text-anchor="end" fill="#231f20" stroke="#231f20" stroke-width="0.22">100</text>
<line x1="417.50" y1="235.40" x2="468.50" y2="235.40" stroke="#231f20" stroke-width="1.4"/>
<line x1="429.80" y1="235.40" x2="429.80" y2="238.40" stroke="#231f20" stroke-width="0.9"/>
<line x1="461.40" y1="235.40" x2="461.40" y2="238.40" stroke="#231f20" stroke-width="0.9"/>
<circle cx="429.60" cy="243.40" r="2.0" fill="#f0921a"/>
<circle cx="461.50" cy="243.40" r="2.0" fill="#b8143e"/>
<line x1="432.90" y1="166.90" x2="458.20" y2="166.90" stroke="#333" stroke-width="0.9"/>
<path d="M444.50 161.25L444.50 163.75M443.42 161.88L445.58 163.12M443.42 163.12L445.58 161.88" stroke="#333" stroke-width="0.85" stroke-linecap="round"/>
<line x1="432.90" y1="200.70" x2="458.20" y2="200.70" stroke="#333" stroke-width="0.9"/>
<text x="445.30" y="198.20" font-size="7.8" text-anchor="middle" fill="#231f20" stroke="#231f20" stroke-width="0.22" textLength="14.2" lengthAdjust="spacingAndGlyphs">N.S.</text>
<line x1="432.90" y1="229.40" x2="458.20" y2="229.40" stroke="#333" stroke-width="0.9"/>
<path d="M444.50 222.65L444.50 225.15M443.42 223.28L445.58 224.53M443.42 224.53L445.58 223.28" stroke="#333" stroke-width="0.85" stroke-linecap="round"/>
<text x="443.60" y="257.00" font-size="10.3" text-anchor="middle" fill="#231f20" stroke="#231f20" stroke-width="0.22" textLength="103" lengthAdjust="spacingAndGlyphs">16 weeks after transplantation</text>
<text x="393.70" y="198.20" font-size="9.5" text-anchor="middle" fill="#231f20" stroke="#231f20" stroke-width="0.12" textLength="62" lengthAdjust="spacingAndGlyphs" transform="rotate(-90 393.70 198.20)">Donor derived (%)</text>
<rect x="474.00" y="161.30" width="4.00" height="4.00" fill="#5a2a78"/>
<text x="481.00" y="166.80" font-size="7.8" text-anchor="start" fill="#231f20" stroke="#231f20" stroke-width="0.22" textLength="27.5" lengthAdjust="spacingAndGlyphs">Myeloid</text>
<rect x="474.00" y="172.60" width="4.00" height="4.00" fill="#3cae4a"/>
<text x="481.00" y="177.80" font-size="7.8" text-anchor="start" fill="#231f20" stroke="#231f20" stroke-width="0.22" textLength="38.0" lengthAdjust="spacingAndGlyphs">T lymphoid</text>
<rect x="474.00" y="183.40" width="4.00" height="4.00" fill="#1b5a94"/>
<text x="481.00" y="188.80" font-size="7.8" text-anchor="start" fill="#231f20" stroke="#231f20" stroke-width="0.22" textLength="38.0" lengthAdjust="spacingAndGlyphs">B lymphoid</text>
<circle cx="476.40" cy="205.60" r="2.2" fill="#f0921a"/>
<text x="481.60" y="206.80" font-size="7.8" text-anchor="start" fill="#231f20" stroke="#231f20" stroke-width="0.22" textLength="10.9" lengthAdjust="spacingAndGlyphs">WT</text>
<circle cx="476.40" cy="215.00" r="2.2" fill="#b8143e"/>
<text x="481.60" y="216.90" font-size="7.8" fill="#231f20" stroke="#231f20" stroke-width="0.22" textLength="20.6" lengthAdjust="spacingAndGlyphs">Sphk2</text>
<text x="502.60" y="213.78" font-size="4.68" fill="#231f20" stroke="#231f20" stroke-width="0.1" textLength="8.9" lengthAdjust="spacingAndGlyphs">Δ/Δ</text>
<text x="3.30" y="283.60" font-size="11.5" text-anchor="start" fill="#111" font-weight="bold">G</text>
<text x="9.30" y="299.00" font-size="8.8" text-anchor="start" fill="#231f20" stroke="#231f20" stroke-width="0.22" textLength="27.4" lengthAdjust="spacingAndGlyphs">CD45.2</text>
<text x="43.00" y="299.00" font-size="8.8" text-anchor="start" fill="#231f20" stroke="#231f20" stroke-width="0.22" textLength="26.8" lengthAdjust="spacingAndGlyphs">CD45.1</text>
<text x="13.50" y="308.40" font-size="8.8" text-anchor="start" fill="#231f20" stroke="#231f20" stroke-width="0.22" textLength="19.1" lengthAdjust="spacingAndGlyphs">WBM</text>
<text x="46.50" y="308.40" font-size="8.8" text-anchor="start" fill="#231f20" stroke="#231f20" stroke-width="0.22" textLength="19.8" lengthAdjust="spacingAndGlyphs">WBM</text>
<g><circle cx="23.00" cy="314.40" r="2.05" fill="#5a3a8a" stroke="#2c1456" stroke-width="0.72"/><circle cx="27.60" cy="314.00" r="2.05" fill="#5a3a8a" stroke="#2c1456" stroke-width="0.72"/><circle cx="22.60" cy="318.40" r="2.05" fill="#5a3a8a" stroke="#2c1456" stroke-width="0.72"/><circle cx="27.20" cy="318.40" r="2.05" fill="#5a3a8a" stroke="#2c1456" stroke-width="0.72"/><circle cx="29.40" cy="316.30" r="2.05" fill="#5a3a8a" stroke="#2c1456" stroke-width="0.72"/><circle cx="23.20" cy="322.40" r="2.05" fill="#5a3a8a" stroke="#2c1456" stroke-width="0.72"/><circle cx="27.80" cy="322.40" r="2.05" fill="#5a3a8a" stroke="#2c1456" stroke-width="0.72"/><circle cx="29.60" cy="320.40" r="2.05" fill="#5a3a8a" stroke="#2c1456" stroke-width="0.72"/><circle cx="23.15" cy="314.50" r="0.86" fill="#c4b4dc"/><circle cx="27.75" cy="314.10" r="0.86" fill="#c4b4dc"/><circle cx="22.75" cy="318.50" r="0.86" fill="#c4b4dc"/><circle cx="27.35" cy="318.50" r="0.86" fill="#c4b4dc"/><circle cx="29.55" cy="316.40" r="0.86" fill="#c4b4dc"/><circle cx="23.35" cy="322.50" r="0.86" fill="#c4b4dc"/><circle cx="27.95" cy="322.50" r="0.86" fill="#c4b4dc"/><circle cx="29.75" cy="320.50" r="0.86" fill="#c4b4dc"/></g>
<text x="37.80" y="321.00" font-size="7" text-anchor="middle" fill="#231f20" stroke="#231f20" stroke-width="0.22">+</text>
<g><circle cx="51.00" cy="314.30" r="2.3" fill="#b22a4a" stroke="#6a0a22" stroke-width="0.80"/><circle cx="55.40" cy="313.80" r="2.3" fill="#b22a4a" stroke="#6a0a22" stroke-width="0.80"/><circle cx="59.60" cy="315.60" r="2.3" fill="#b22a4a" stroke="#6a0a22" stroke-width="0.80"/><circle cx="50.60" cy="318.80" r="2.3" fill="#b22a4a" stroke="#6a0a22" stroke-width="0.80"/><circle cx="55.00" cy="318.40" r="2.3" fill="#b22a4a" stroke="#6a0a22" stroke-width="0.80"/><circle cx="59.80" cy="320.00" r="2.3" fill="#b22a4a" stroke="#6a0a22" stroke-width="0.80"/><circle cx="52.20" cy="323.20" r="2.3" fill="#b22a4a" stroke="#6a0a22" stroke-width="0.80"/><circle cx="56.60" cy="323.40" r="2.3" fill="#b22a4a" stroke="#6a0a22" stroke-width="0.80"/><circle cx="60.20" cy="324.20" r="2.3" fill="#b22a4a" stroke="#6a0a22" stroke-width="0.80"/><circle cx="51.15" cy="314.40" r="0.97" fill="#eeb0bf"/><circle cx="55.55" cy="313.90" r="0.97" fill="#eeb0bf"/><circle cx="59.75" cy="315.70" r="0.97" fill="#eeb0bf"/><circle cx="50.75" cy="318.90" r="0.97" fill="#eeb0bf"/><circle cx="55.15" cy="318.50" r="0.97" fill="#eeb0bf"/><circle cx="59.95" cy="320.10" r="0.97" fill="#eeb0bf"/><circle cx="52.35" cy="323.30" r="0.97" fill="#eeb0bf"/><circle cx="56.75" cy="323.50" r="0.97" fill="#eeb0bf"/><circle cx="60.35" cy="324.30" r="0.97" fill="#eeb0bf"/></g>
<line x1="37.90" y1="323.50" x2="37.90" y2="328.70" stroke="#231f20" stroke-width="1.1"/>
<path d="M35.48 328.40 L40.32 328.40 L37.90 332.80Z" fill="#231f20"/>
<text x="22.00" y="342.00" font-size="8.8" text-anchor="start" fill="#231f20" stroke="#231f20" stroke-width="0.22" textLength="35" lengthAdjust="spacingAndGlyphs">Irradiated</text>
<text x="8.80" y="351.40" font-size="8.8" text-anchor="start" fill="#231f20" stroke="#231f20" stroke-width="0.22" textLength="61" lengthAdjust="spacingAndGlyphs">CD45.1 recipient</text>
<g transform="translate(26.70 355.00) scale(0.97)"><path d="M0.3 9.3 Q4 8.5 7.8 8.9" fill="none" stroke="#d9bcc2" stroke-width="1.1" stroke-linecap="round"/><path d="M6.8 9.3 C6.2 5.6, 9 2.3, 13.5 1.7 C15.5 1.4, 17 1.9, 18.2 2.9 L21.3 5.3 Q22.1 6.1, 21 6.5 L19.1 7.0 L18.7 9.3 Z" fill="#cdc8cc"/><ellipse cx="16.7" cy="1.9" rx="1.35" ry="1.3" fill="#b4aeb2"/><circle cx="19.7" cy="4.5" r="0.45" fill="#6a6468"/><path d="M9 9.3 L18 9.3" stroke="#b8b2b6" stroke-width="0.6"/></g>
<line x1="37.20" y1="367.70" x2="37.20" y2="386.40" stroke="#231f20" stroke-width="1.2"/>
<path d="M34.23 386.10 L40.17 386.10 L37.20 391.50Z" fill="#231f20"/>
<line x1="34.20" y1="371.60" x2="37.20" y2="371.60" stroke="#231f20" stroke-width="0.9"/>
<line x1="34.20" y1="381.60" x2="37.20" y2="381.60" stroke="#231f20" stroke-width="0.9"/>
<text x="26.70" y="374.00" font-size="8.8" text-anchor="start" fill="#231f20" stroke="#231f20" stroke-width="0.22">0</text>
<text x="2.30" y="384.00" font-size="8.8" text-anchor="start" fill="#231f20" stroke="#231f20" stroke-width="0.22" textLength="30.3" lengthAdjust="spacingAndGlyphs">8 weeks</text>
<line x1="49.30" y1="382.00" x2="45.20" y2="382.00" stroke="#231f20" stroke-width="1.1"/>
<path d="M45.50 379.36 L45.50 384.64 L40.70 382.00Z" fill="#231f20"/>
<text x="51.60" y="384.40" font-size="8.8" text-anchor="start" fill="#231f20" stroke="#231f20" stroke-width="0.22" textLength="47.9" lengthAdjust="spacingAndGlyphs">5FU injection</text>
<text x="18.60" y="401.40" font-size="8.8" text-anchor="start" fill="#231f20" stroke="#231f20" stroke-width="0.22" textLength="38.4" lengthAdjust="spacingAndGlyphs">PB analysis</text>
<text x="112.20" y="283.30" font-size="11.5" text-anchor="start" fill="#111" font-weight="bold">H</text>
<rect x="163.60" y="284.90" width="3.70" height="3.80" fill="#f0921a"/>
<text x="171.10" y="289.40" font-size="7.8" text-anchor="start" fill="#231f20" stroke="#231f20" stroke-width="0.22" textLength="11.2" lengthAdjust="spacingAndGlyphs">WT</text>
<rect x="195.40" y="284.90" width="3.80" height="3.80" fill="#b8143e"/>
<text x="203.10" y="289.40" font-size="7.8" fill="#231f20" stroke="#231f20" stroke-width="0.22" textLength="20.7" lengthAdjust="spacingAndGlyphs">Sphk2</text>
<text x="224.20" y="286.28" font-size="4.68" fill="#231f20" stroke="#231f20" stroke-width="0.1" textLength="8.6" lengthAdjust="spacingAndGlyphs">Δ/Δ</text>
<text x="143.00" y="310.30" font-size="8.8" text-anchor="start" fill="#231f20" stroke="#231f20" stroke-width="0.22" textLength="48.3" lengthAdjust="spacingAndGlyphs">5FU injection</text>
<line x1="165.90" y1="313.30" x2="165.90" y2="319.90" stroke="#231f20" stroke-width="1.1"/>
<path d="M163.48 319.60 L168.32 319.60 L165.90 324.00Z" fill="#231f20"/>
<path d="M149.60 369.93 L166.20 364.87 L183.10 362.62 L200.70 361.50 L217.50 368.08 L234.40 366.31 L251.40 364.06" fill="none" stroke="#f0921a" stroke-width="1.4" stroke-linejoin="round"/>
<path d="M149.60 351.70 L166.20 340.62 L183.10 342.79 L200.70 336.20 L217.50 331.78 L234.40 325.76 L251.40 327.13" fill="none" stroke="#b8143e" stroke-width="1.4" stroke-linejoin="round"/>
<circle cx="151.07" cy="366.96" r="1.5" fill="#f29a20"/>
<circle cx="145.52" cy="368.74" r="1.5" fill="#f29a20"/>
<circle cx="152.33" cy="365.80" r="1.5" fill="#f29a20"/>
<circle cx="146.35" cy="370.94" r="1.5" fill="#f29a20"/>
<circle cx="149.31" cy="372.41" r="1.5" fill="#f29a20"/>
<circle cx="154.04" cy="374.04" r="1.5" fill="#f29a20"/>
<circle cx="147.87" cy="370.28" r="1.5" fill="#f29a20"/>
<circle cx="146.14" cy="346.49" r="1.5" fill="#a8123a"/>
<circle cx="153.30" cy="358.08" r="1.5" fill="#a8123a"/>
<circle cx="144.81" cy="353.55" r="1.5" fill="#a8123a"/>
<circle cx="149.33" cy="344.75" r="1.5" fill="#a8123a"/>
<circle cx="153.77" cy="356.67" r="1.5" fill="#a8123a"/>
<circle cx="151.58" cy="350.41" r="1.5" fill="#a8123a"/>
<circle cx="148.45" cy="355.34" r="1.5" fill="#a8123a"/>
<circle cx="147.75" cy="348.68" r="1.5" fill="#a8123a"/>
<circle cx="150.36" cy="351.37" r="1.5" fill="#a8123a"/>
<line x1="149.60" y1="367.23" x2="149.60" y2="372.63" stroke="#1e1e32" stroke-width="0.7"/>
<line x1="148.60" y1="367.23" x2="150.60" y2="367.23" stroke="#1e1e32" stroke-width="0.7"/>
<line x1="148.60" y1="372.63" x2="150.60" y2="372.63" stroke="#1e1e32" stroke-width="0.7"/>
<line x1="149.60" y1="347.20" x2="149.60" y2="356.20" stroke="#1e1e32" stroke-width="0.7"/>
<line x1="148.60" y1="347.20" x2="150.60" y2="347.20" stroke="#1e1e32" stroke-width="0.7"/>
<line x1="148.60" y1="356.20" x2="150.60" y2="356.20" stroke="#1e1e32" stroke-width="0.7"/>
<circle cx="164.74" cy="363.14" r="1.5" fill="#f29a20"/>
<circle cx="170.62" cy="361.03" r="1.5" fill="#f29a20"/>
<circle cx="166.34" cy="366.49" r="1.5" fill="#f29a20"/>
<circle cx="161.89" cy="359.56" r="1.5" fill="#f29a20"/>
<circle cx="167.45" cy="370.59" r="1.5" fill="#f29a20"/>
<circle cx="169.17" cy="365.12" r="1.5" fill="#f29a20"/>
<circle cx="163.56" cy="368.71" r="1.5" fill="#f29a20"/>
<circle cx="165.28" cy="331.57" r="1.5" fill="#a8123a"/>
<circle cx="169.56" cy="346.29" r="1.5" fill="#a8123a"/>
<circle cx="165.96" cy="349.58" r="1.5" fill="#a8123a"/>
<circle cx="162.78" cy="343.23" r="1.5" fill="#a8123a"/>
<circle cx="168.49" cy="328.70" r="1.5" fill="#a8123a"/>
<circle cx="170.66" cy="352.30" r="1.5" fill="#a8123a"/>
<circle cx="167.67" cy="334.94" r="1.5" fill="#a8123a"/>
<circle cx="163.62" cy="338.04" r="1.5" fill="#a8123a"/>
<circle cx="161.52" cy="340.27" r="1.5" fill="#a8123a"/>
<line x1="166.20" y1="360.97" x2="166.20" y2="368.77" stroke="#1e1e32" stroke-width="0.7"/>
<line x1="165.20" y1="360.97" x2="167.20" y2="360.97" stroke="#1e1e32" stroke-width="0.7"/>
<line x1="165.20" y1="368.77" x2="167.20" y2="368.77" stroke="#1e1e32" stroke-width="0.7"/>
<line x1="166.20" y1="332.82" x2="166.20" y2="348.42" stroke="#1e1e32" stroke-width="0.7"/>
<line x1="165.20" y1="332.82" x2="167.20" y2="332.82" stroke="#1e1e32" stroke-width="0.7"/>
<line x1="165.20" y1="348.42" x2="167.20" y2="348.42" stroke="#1e1e32" stroke-width="0.7"/>
<circle cx="178.91" cy="367.53" r="1.5" fill="#f29a20"/>
<circle cx="187.50" cy="361.26" r="1.5" fill="#f29a20"/>
<circle cx="185.96" cy="358.89" r="1.5" fill="#f29a20"/>
<circle cx="184.53" cy="366.04" r="1.5" fill="#f29a20"/>
<circle cx="181.79" cy="364.26" r="1.5" fill="#f29a20"/>
<circle cx="180.56" cy="357.10" r="1.5" fill="#f29a20"/>
<circle cx="182.82" cy="362.66" r="1.5" fill="#f29a20"/>
<circle cx="179.41" cy="342.90" r="1.5" fill="#a8123a"/>
<circle cx="182.94" cy="348.95" r="1.5" fill="#a8123a"/>
<circle cx="181.67" cy="336.47" r="1.5" fill="#a8123a"/>
<circle cx="178.66" cy="350.74" r="1.5" fill="#a8123a"/>
<circle cx="187.37" cy="346.54" r="1.5" fill="#a8123a"/>
<circle cx="184.20" cy="338.58" r="1.5" fill="#a8123a"/>
<circle cx="185.04" cy="340.46" r="1.5" fill="#a8123a"/>
<circle cx="186.49" cy="344.46" r="1.5" fill="#a8123a"/>
<circle cx="181.23" cy="335.05" r="1.5" fill="#a8123a"/>
<line x1="183.10" y1="359.02" x2="183.10" y2="366.22" stroke="#1e1e32" stroke-width="0.7"/>
<line x1="182.10" y1="359.02" x2="184.10" y2="359.02" stroke="#1e1e32" stroke-width="0.7"/>
<line x1="182.10" y1="366.22" x2="184.10" y2="366.22" stroke="#1e1e32" stroke-width="0.7"/>
<line x1="183.10" y1="337.39" x2="183.10" y2="348.19" stroke="#1e1e32" stroke-width="0.7"/>
<line x1="182.10" y1="337.39" x2="184.10" y2="337.39" stroke="#1e1e32" stroke-width="0.7"/>
<line x1="182.10" y1="348.19" x2="184.10" y2="348.19" stroke="#1e1e32" stroke-width="0.7"/>
<circle cx="200.67" cy="358.38" r="1.5" fill="#f29a20"/>
<circle cx="196.52" cy="361.62" r="1.5" fill="#f29a20"/>
<circle cx="204.70" cy="359.67" r="1.5" fill="#f29a20"/>
<circle cx="199.12" cy="356.45" r="1.5" fill="#f29a20"/>
<circle cx="203.30" cy="366.53" r="1.5" fill="#f29a20"/>
<circle cx="201.81" cy="364.68" r="1.5" fill="#f29a20"/>
<circle cx="198.21" cy="362.67" r="1.5" fill="#f29a20"/>
<circle cx="196.17" cy="342.64" r="1.5" fill="#a8123a"/>
<circle cx="201.81" cy="329.83" r="1.5" fill="#a8123a"/>
<circle cx="197.13" cy="340.65" r="1.5" fill="#a8123a"/>
<circle cx="200.61" cy="327.41" r="1.5" fill="#a8123a"/>
<circle cx="203.04" cy="338.28" r="1.5" fill="#a8123a"/>
<circle cx="205.05" cy="336.07" r="1.5" fill="#a8123a"/>
<circle cx="199.40" cy="333.63" r="1.5" fill="#a8123a"/>
<circle cx="198.70" cy="331.95" r="1.5" fill="#a8123a"/>
<circle cx="203.71" cy="345.12" r="1.5" fill="#a8123a"/>
<line x1="200.70" y1="358.20" x2="200.70" y2="364.80" stroke="#1e1e32" stroke-width="0.7"/>
<line x1="199.70" y1="358.20" x2="201.70" y2="358.20" stroke="#1e1e32" stroke-width="0.7"/>
<line x1="199.70" y1="364.80" x2="201.70" y2="364.80" stroke="#1e1e32" stroke-width="0.7"/>
<line x1="200.70" y1="330.20" x2="200.70" y2="342.20" stroke="#1e1e32" stroke-width="0.7"/>
<line x1="199.70" y1="330.20" x2="201.70" y2="330.20" stroke="#1e1e32" stroke-width="0.7"/>
<line x1="199.70" y1="342.20" x2="201.70" y2="342.20" stroke="#1e1e32" stroke-width="0.7"/>
<circle cx="222.09" cy="362.95" r="1.5" fill="#f29a20"/>
<circle cx="220.36" cy="360.25" r="1.5" fill="#f29a20"/>
<circle cx="219.06" cy="370.88" r="1.5" fill="#f29a20"/>
<circle cx="216.39" cy="365.63" r="1.5" fill="#f29a20"/>
<circle cx="217.86" cy="375.43" r="1.5" fill="#f29a20"/>
<circle cx="214.81" cy="368.31" r="1.5" fill="#f29a20"/>
<circle cx="213.42" cy="373.25" r="1.5" fill="#f29a20"/>
<circle cx="217.76" cy="324.83" r="1.5" fill="#a8123a"/>
<circle cx="215.41" cy="329.38" r="1.5" fill="#a8123a"/>
<circle cx="214.19" cy="331.75" r="1.5" fill="#a8123a"/>
<circle cx="216.20" cy="322.55" r="1.5" fill="#a8123a"/>
<circle cx="213.42" cy="336.57" r="1.5" fill="#a8123a"/>
<circle cx="221.62" cy="333.93" r="1.5" fill="#a8123a"/>
<circle cx="220.57" cy="341.05" r="1.5" fill="#a8123a"/>
<circle cx="218.33" cy="338.37" r="1.5" fill="#a8123a"/>
<circle cx="219.74" cy="327.03" r="1.5" fill="#a8123a"/>
<line x1="217.50" y1="362.68" x2="217.50" y2="373.48" stroke="#1e1e32" stroke-width="0.7"/>
<line x1="216.50" y1="362.68" x2="218.50" y2="362.68" stroke="#1e1e32" stroke-width="0.7"/>
<line x1="216.50" y1="373.48" x2="218.50" y2="373.48" stroke="#1e1e32" stroke-width="0.7"/>
<line x1="217.50" y1="325.78" x2="217.50" y2="337.78" stroke="#1e1e32" stroke-width="0.7"/>
<line x1="216.50" y1="325.78" x2="218.50" y2="325.78" stroke="#1e1e32" stroke-width="0.7"/>
<line x1="216.50" y1="337.78" x2="218.50" y2="337.78" stroke="#1e1e32" stroke-width="0.7"/>
<circle cx="238.35" cy="359.96" r="1.5" fill="#f29a20"/>
<circle cx="233.29" cy="367.96" r="1.5" fill="#f29a20"/>
<circle cx="230.07" cy="372.06" r="1.5" fill="#f29a20"/>
<circle cx="237.30" cy="370.30" r="1.5" fill="#f29a20"/>
<circle cx="234.24" cy="366.08" r="1.5" fill="#f29a20"/>
<circle cx="235.87" cy="362.68" r="1.5" fill="#f29a20"/>
<circle cx="231.88" cy="364.46" r="1.5" fill="#f29a20"/>
<circle cx="236.65" cy="325.12" r="1.5" fill="#a8123a"/>
<circle cx="234.45" cy="324.02" r="1.5" fill="#a8123a"/>
<circle cx="237.75" cy="325.81" r="1.5" fill="#a8123a"/>
<circle cx="230.71" cy="322.51" r="1.5" fill="#a8123a"/>
<circle cx="235.88" cy="327.60" r="1.5" fill="#a8123a"/>
<circle cx="239.17" cy="322.97" r="1.5" fill="#a8123a"/>
<circle cx="231.90" cy="328.03" r="1.5" fill="#a8123a"/>
<circle cx="232.93" cy="326.60" r="1.5" fill="#a8123a"/>
<circle cx="230.03" cy="329.00" r="1.5" fill="#a8123a"/>
<line x1="234.40" y1="362.11" x2="234.40" y2="370.51" stroke="#1e1e32" stroke-width="0.7"/>
<line x1="233.40" y1="362.11" x2="235.40" y2="362.11" stroke="#1e1e32" stroke-width="0.7"/>
<line x1="233.40" y1="370.51" x2="235.40" y2="370.51" stroke="#1e1e32" stroke-width="0.7"/>
<line x1="234.40" y1="323.36" x2="234.40" y2="328.16" stroke="#1e1e32" stroke-width="0.7"/>
<line x1="233.40" y1="323.36" x2="235.40" y2="323.36" stroke="#1e1e32" stroke-width="0.7"/>
<line x1="233.40" y1="328.16" x2="235.40" y2="328.16" stroke="#1e1e32" stroke-width="0.7"/>
<circle cx="255.81" cy="366.25" r="1.5" fill="#f29a20"/>
<circle cx="248.74" cy="363.14" r="1.5" fill="#f29a20"/>
<circle cx="252.51" cy="361.41" r="1.5" fill="#f29a20"/>
<circle cx="251.33" cy="365.28" r="1.5" fill="#f29a20"/>
<circle cx="249.63" cy="365.55" r="1.5" fill="#f29a20"/>
<circle cx="247.33" cy="364.11" r="1.5" fill="#f29a20"/>
<circle cx="253.97" cy="362.29" r="1.5" fill="#f29a20"/>
<circle cx="255.90" cy="331.26" r="1.5" fill="#a8123a"/>
<circle cx="252.62" cy="324.77" r="1.5" fill="#a8123a"/>
<circle cx="248.90" cy="327.44" r="1.5" fill="#a8123a"/>
<circle cx="253.30" cy="323.16" r="1.5" fill="#a8123a"/>
<circle cx="250.68" cy="321.65" r="1.5" fill="#a8123a"/>
<circle cx="251.70" cy="328.24" r="1.5" fill="#a8123a"/>
<circle cx="247.15" cy="329.46" r="1.5" fill="#a8123a"/>
<circle cx="247.93" cy="332.74" r="1.5" fill="#a8123a"/>
<circle cx="254.54" cy="325.92" r="1.5" fill="#a8123a"/>
<line x1="251.40" y1="362.26" x2="251.40" y2="365.87" stroke="#1e1e32" stroke-width="0.7"/>
<line x1="250.40" y1="362.26" x2="252.40" y2="362.26" stroke="#1e1e32" stroke-width="0.7"/>
<line x1="250.40" y1="365.87" x2="252.40" y2="365.87" stroke="#1e1e32" stroke-width="0.7"/>
<line x1="251.40" y1="323.53" x2="251.40" y2="330.73" stroke="#1e1e32" stroke-width="0.7"/>
<line x1="250.40" y1="323.53" x2="252.40" y2="323.53" stroke="#1e1e32" stroke-width="0.7"/>
<line x1="250.40" y1="330.73" x2="252.40" y2="330.73" stroke="#1e1e32" stroke-width="0.7"/>
<path d="M146.00 379.75L146.00 382.25M144.92 380.38L147.08 381.62M144.92 381.62L147.08 380.38M149.60 379.75L149.60 382.25M148.52 380.38L150.68 381.62M148.52 381.62L150.68 380.38M153.20 379.75L153.20 382.25M152.12 380.38L154.28 381.62M152.12 381.62L154.28 380.38" stroke="#1e1e32" stroke-width="0.85" stroke-linecap="round"/>
<path d="M162.60 373.95L162.60 376.45M161.52 374.57L163.68 375.82M161.52 375.82L163.68 374.57M166.20 373.95L166.20 376.45M165.12 374.57L167.28 375.82M165.12 375.82L167.28 374.57M169.80 373.95L169.80 376.45M168.72 374.57L170.88 375.82M168.72 375.82L170.88 374.57" stroke="#1e1e32" stroke-width="0.85" stroke-linecap="round"/>
<path d="M179.50 372.55L179.50 375.05M178.42 373.18L180.58 374.43M178.42 374.43L180.58 373.18M183.10 372.55L183.10 375.05M182.02 373.18L184.18 374.43M182.02 374.43L184.18 373.18M186.70 372.55L186.70 375.05M185.62 373.18L187.78 374.43M185.62 374.43L187.78 373.18" stroke="#1e1e32" stroke-width="0.85" stroke-linecap="round"/>
<path d="M197.10 371.05L197.10 373.55M196.02 371.68L198.18 372.93M196.02 372.93L198.18 371.68M200.70 371.05L200.70 373.55M199.62 371.68L201.78 372.93M199.62 372.93L201.78 371.68M204.30 371.05L204.30 373.55M203.22 371.68L205.38 372.93M203.22 372.93L205.38 371.68" stroke="#1e1e32" stroke-width="0.85" stroke-linecap="round"/>
<path d="M213.90 378.35L213.90 380.85M212.82 378.98L214.98 380.23M212.82 380.23L214.98 378.98M217.50 378.35L217.50 380.85M216.42 378.98L218.58 380.23M216.42 380.23L218.58 378.98M221.10 378.35L221.10 380.85M220.02 378.98L222.18 380.23M220.02 380.23L222.18 378.98" stroke="#1e1e32" stroke-width="0.85" stroke-linecap="round"/>
<path d="M230.80 377.45L230.80 379.95M229.72 378.07L231.88 379.32M229.72 379.32L231.88 378.07M234.40 377.45L234.40 379.95M233.32 378.07L235.48 379.32M233.32 379.32L235.48 378.07M238.00 377.45L238.00 379.95M236.92 378.07L239.08 379.32M236.92 379.32L239.08 378.07" stroke="#1e1e32" stroke-width="0.85" stroke-linecap="round"/>
<path d="M247.80 370.45L247.80 372.95M246.72 371.07L248.88 372.32M246.72 372.32L248.88 371.07M251.40 370.45L251.40 372.95M250.32 371.07L252.48 372.32M250.32 372.32L252.48 371.07M255.00 370.45L255.00 372.95M253.92 371.07L256.08 372.32M253.92 372.32L256.08 371.07" stroke="#1e1e32" stroke-width="0.85" stroke-linecap="round"/>
<line x1="141.70" y1="400.70" x2="141.70" y2="316.90" stroke="#231f20" stroke-width="1.35"/>
<line x1="138.50" y1="400.20" x2="141.70" y2="400.20" stroke="#231f20" stroke-width="0.9"/>
<text x="135.60" y="402.97" font-size="7.8" text-anchor="end" fill="#231f20" stroke="#231f20" stroke-width="0.22">0</text>
<line x1="138.50" y1="384.14" x2="141.70" y2="384.14" stroke="#231f20" stroke-width="0.9"/>
<text x="135.60" y="386.91" font-size="7.8" text-anchor="end" fill="#231f20" stroke="#231f20" stroke-width="0.22">20</text>
<line x1="138.50" y1="368.08" x2="141.70" y2="368.08" stroke="#231f20" stroke-width="0.9"/>
<text x="135.60" y="370.85" font-size="7.8" text-anchor="end" fill="#231f20" stroke="#231f20" stroke-width="0.22">40</text>
<line x1="138.50" y1="352.02" x2="141.70" y2="352.02" stroke="#231f20" stroke-width="0.9"/>
<text x="135.60" y="354.79" font-size="7.8" text-anchor="end" fill="#231f20" stroke="#231f20" stroke-width="0.22">60</text>
<line x1="138.50" y1="335.96" x2="141.70" y2="335.96" stroke="#231f20" stroke-width="0.9"/>
<text x="135.60" y="338.73" font-size="7.8" text-anchor="end" fill="#231f20" stroke="#231f20" stroke-width="0.22">80</text>
<line x1="138.50" y1="319.90" x2="141.70" y2="319.90" stroke="#231f20" stroke-width="0.9"/>
<text x="135.60" y="322.67" font-size="7.8" text-anchor="end" fill="#231f20" stroke="#231f20" stroke-width="0.22">100</text>
<line x1="141.20" y1="400.20" x2="256.30" y2="400.20" stroke="#231f20" stroke-width="1.4"/>
<line x1="149.60" y1="400.20" x2="149.60" y2="403.20" stroke="#231f20" stroke-width="0.9"/>
<text x="149.60" y="412.70" font-size="7.8" text-anchor="middle" fill="#231f20" stroke="#231f20" stroke-width="0.22">4</text>
<line x1="166.20" y1="400.20" x2="166.20" y2="403.20" stroke="#231f20" stroke-width="0.9"/>
<text x="166.20" y="412.70" font-size="7.8" text-anchor="middle" fill="#231f20" stroke="#231f20" stroke-width="0.22">8</text>
<line x1="183.10" y1="400.20" x2="183.10" y2="403.20" stroke="#231f20" stroke-width="0.9"/>
<text x="183.10" y="412.70" font-size="7.8" text-anchor="middle" fill="#231f20" stroke="#231f20" stroke-width="0.22">12</text>
<line x1="200.70" y1="400.20" x2="200.70" y2="403.20" stroke="#231f20" stroke-width="0.9"/>
<text x="200.70" y="412.70" font-size="7.8" text-anchor="middle" fill="#231f20" stroke="#231f20" stroke-width="0.22">16</text>
<line x1="217.50" y1="400.20" x2="217.50" y2="403.20" stroke="#231f20" stroke-width="0.9"/>
<text x="217.50" y="412.70" font-size="7.8" text-anchor="middle" fill="#231f20" stroke="#231f20" stroke-width="0.22">20</text>
<line x1="234.40" y1="400.20" x2="234.40" y2="403.20" stroke="#231f20" stroke-width="0.9"/>
<text x="234.40" y="412.70" font-size="7.8" text-anchor="middle" fill="#231f20" stroke="#231f20" stroke-width="0.22">24</text>
<line x1="251.40" y1="400.20" x2="251.40" y2="403.20" stroke="#231f20" stroke-width="0.9"/>
<text x="251.40" y="412.70" font-size="7.8" text-anchor="middle" fill="#231f20" stroke="#231f20" stroke-width="0.22">28</text>
<text x="197.50" y="424.00" font-size="10.3" text-anchor="middle" fill="#231f20" stroke="#231f20" stroke-width="0.22" textLength="113.5" lengthAdjust="spacingAndGlyphs">Time after transplantation (weeks)</text>
<text x="116.00" y="356.90" font-size="9.5" text-anchor="middle" fill="#231f20" stroke="#231f20" stroke-width="0.12" textLength="60.6" lengthAdjust="spacingAndGlyphs" transform="rotate(-90 116.00 356.90)">Donor derived (%)</text>
<text x="264.00" y="283.30" font-size="11.5" text-anchor="start" fill="#111" font-weight="bold">I</text>
<rect x="279.00" y="285.50" width="4.00" height="4.00" fill="#5a2a78"/>
<text x="285.00" y="290.20" font-size="7.8" text-anchor="start" fill="#231f20" stroke="#231f20" stroke-width="0.22" textLength="29" lengthAdjust="spacingAndGlyphs">Myeloid</text>
<rect x="279.00" y="297.00" width="4.00" height="4.00" fill="#3cae4a"/>
<text x="285.00" y="301.70" font-size="7.8" text-anchor="start" fill="#231f20" stroke="#231f20" stroke-width="0.22" textLength="39" lengthAdjust="spacingAndGlyphs">T lymphoid</text>
<rect x="279.00" y="308.00" width="4.00" height="4.00" fill="#1b5a94"/>
<text x="285.00" y="312.70" font-size="7.8" text-anchor="start" fill="#231f20" stroke="#231f20" stroke-width="0.22" textLength="39" lengthAdjust="spacingAndGlyphs">B lymphoid</text>
<circle cx="335.00" cy="299.50" r="1.8" fill="#f0921a"/>
<text x="340.00" y="302.20" font-size="7.8" text-anchor="start" fill="#231f20" stroke="#231f20" stroke-width="0.22" textLength="12.5" lengthAdjust="spacingAndGlyphs">WT</text>
<circle cx="335.00" cy="309.50" r="1.8" fill="#b8143e"/>
<text x="340.40" y="312.70" font-size="7.8" fill="#231f20" stroke="#231f20" stroke-width="0.22" textLength="21.1" lengthAdjust="spacingAndGlyphs">Sphk2</text>
<text x="361.90" y="309.58" font-size="4.68" fill="#231f20" stroke="#231f20" stroke-width="0.1" textLength="8.5" lengthAdjust="spacingAndGlyphs">Δ/Δ</text>
<rect x="314.10" y="388.97" width="6.20" height="11.53" fill="#1b5a94"/>
<rect x="314.10" y="372.76" width="6.20" height="16.21" fill="#3cae4a"/>
<rect x="314.10" y="327.50" width="6.20" height="45.26" fill="#5a2a78"/>
<line x1="314.10" y1="388.97" x2="320.30" y2="388.97" stroke="#222" stroke-width="0.8"/>
<line x1="314.10" y1="372.76" x2="320.30" y2="372.76" stroke="#222" stroke-width="0.8"/>
<line x1="317.20" y1="322.70" x2="317.20" y2="327.50" stroke="#231f20" stroke-width="0.7"/>
<line x1="316.00" y1="322.70" x2="318.40" y2="322.70" stroke="#231f20" stroke-width="0.7"/>
<line x1="316.00" y1="327.50" x2="318.40" y2="327.50" stroke="#231f20" stroke-width="0.7"/>
<rect x="344.20" y="382.98" width="6.20" height="17.52" fill="#1b5a94"/>
<rect x="344.20" y="365.10" width="6.20" height="17.88" fill="#3cae4a"/>
<rect x="344.20" y="327.50" width="6.20" height="37.60" fill="#5a2a78"/>
<line x1="344.20" y1="382.98" x2="350.40" y2="382.98" stroke="#222" stroke-width="0.8"/>
<line x1="344.20" y1="365.10" x2="350.40" y2="365.10" stroke="#222" stroke-width="0.8"/>
<line x1="347.30" y1="325.00" x2="347.30" y2="327.50" stroke="#231f20" stroke-width="0.7"/>
<line x1="346.10" y1="325.00" x2="348.50" y2="325.00" stroke="#231f20" stroke-width="0.7"/>
<line x1="346.10" y1="327.50" x2="348.50" y2="327.50" stroke="#231f20" stroke-width="0.7"/>
<line x1="305.20" y1="401.00" x2="305.20" y2="324.50" stroke="#231f20" stroke-width="1.35"/>
<line x1="302.00" y1="400.50" x2="305.20" y2="400.50" stroke="#231f20" stroke-width="0.9"/>
<text x="299.10" y="403.27" font-size="7.8" text-anchor="end" fill="#231f20" stroke="#231f20" stroke-width="0.22">0</text>
<line x1="302.00" y1="385.90" x2="305.20" y2="385.90" stroke="#231f20" stroke-width="0.9"/>
<text x="299.10" y="388.67" font-size="7.8" text-anchor="end" fill="#231f20" stroke="#231f20" stroke-width="0.22">20</text>
<line x1="302.00" y1="371.30" x2="305.20" y2="371.30" stroke="#231f20" stroke-width="0.9"/>
<text x="299.10" y="374.07" font-size="7.8" text-anchor="end" fill="#231f20" stroke="#231f20" stroke-width="0.22">40</text>
<line x1="302.00" y1="356.70" x2="305.20" y2="356.70" stroke="#231f20" stroke-width="0.9"/>
<text x="299.10" y="359.47" font-size="7.8" text-anchor="end" fill="#231f20" stroke="#231f20" stroke-width="0.22">60</text>
<line x1="302.00" y1="342.10" x2="305.20" y2="342.10" stroke="#231f20" stroke-width="0.9"/>
<text x="299.10" y="344.87" font-size="7.8" text-anchor="end" fill="#231f20" stroke="#231f20" stroke-width="0.22">80</text>
<line x1="302.00" y1="327.50" x2="305.20" y2="327.50" stroke="#231f20" stroke-width="0.9"/>
<text x="299.10" y="330.27" font-size="7.8" text-anchor="end" fill="#231f20" stroke="#231f20" stroke-width="0.22">100</text>
<line x1="304.70" y1="400.50" x2="354.60" y2="400.50" stroke="#231f20" stroke-width="1.4"/>
<line x1="317.20" y1="400.50" x2="317.20" y2="403.50" stroke="#231f20" stroke-width="0.9"/>
<line x1="347.30" y1="400.50" x2="347.30" y2="403.50" stroke="#231f20" stroke-width="0.9"/>
<circle cx="317.20" cy="408.60" r="2.0" fill="#f0921a"/>
<circle cx="347.20" cy="408.60" r="2.0" fill="#b8143e"/>
<line x1="320.50" y1="336.50" x2="343.50" y2="336.50" stroke="#333" stroke-width="0.9"/>
<path d="M332.00 331.75L332.00 334.25M330.92 332.38L333.08 333.62M330.92 333.62L333.08 332.38" stroke="#333" stroke-width="0.85" stroke-linecap="round"/>
<text x="332.00" y="422.70" font-size="10.3" text-anchor="middle" fill="#231f20" stroke="#231f20" stroke-width="0.22" textLength="103.5" lengthAdjust="spacingAndGlyphs">28 weeks after transplantation</text>
<text x="281.20" y="363.10" font-size="9.5" text-anchor="middle" fill="#231f20" stroke="#231f20" stroke-width="0.12" textLength="62.2" lengthAdjust="spacingAndGlyphs" transform="rotate(-90 281.20 363.10)">Donor derived (%)</text>
<text x="385.00" y="283.60" font-size="11.5" text-anchor="start" fill="#111" font-weight="bold">J</text>
<text x="429.80" y="285.80" font-size="8.8" text-anchor="start" fill="#231f20" stroke="#231f20" stroke-width="0.22" textLength="47.2" lengthAdjust="spacingAndGlyphs">5FU injection</text>
<g transform="translate(407.00 294.80) scale(1.0)"><path d="M0.3 9.3 Q4 8.5 7.8 8.9" fill="none" stroke="#d9bcc2" stroke-width="1.1" stroke-linecap="round"/><path d="M6.8 9.3 C6.2 5.6, 9 2.3, 13.5 1.7 C15.5 1.4, 17 1.9, 18.2 2.9 L21.3 5.3 Q22.1 6.1, 21 6.5 L19.1 7.0 L18.7 9.3 Z" fill="#cdc8cc"/><ellipse cx="16.7" cy="1.9" rx="1.35" ry="1.3" fill="#b4aeb2"/><circle cx="19.7" cy="4.5" r="0.45" fill="#6a6468"/><path d="M9 9.3 L18 9.3" stroke="#b8b2b6" stroke-width="0.6"/></g>
<line x1="433.80" y1="301.70" x2="475.60" y2="301.70" stroke="#231f20" stroke-width="1.1"/>
<path d="M475.30 299.33 L475.30 304.06 L479.60 301.70Z" fill="#231f20"/>
<line x1="436.00" y1="289.60" x2="436.00" y2="294.70" stroke="#231f20" stroke-width="1.1"/>
<path d="M433.58 294.40 L438.42 294.40 L436.00 298.80Z" fill="#231f20"/>
<line x1="436.00" y1="301.70" x2="436.00" y2="304.00" stroke="#231f20" stroke-width="0.9"/>
<line x1="451.40" y1="289.60" x2="451.40" y2="294.70" stroke="#231f20" stroke-width="1.1"/>
<path d="M448.98 294.40 L453.82 294.40 L451.40 298.80Z" fill="#231f20"/>
<line x1="451.40" y1="301.70" x2="451.40" y2="304.00" stroke="#231f20" stroke-width="0.9"/>
<line x1="467.00" y1="289.60" x2="467.00" y2="294.70" stroke="#231f20" stroke-width="1.1"/>
<path d="M464.58 294.40 L469.42 294.40 L467.00 298.80Z" fill="#231f20"/>
<line x1="467.00" y1="301.70" x2="467.00" y2="304.00" stroke="#231f20" stroke-width="0.9"/>
<text x="431.00" y="313.00" font-size="8.8" text-anchor="start" fill="#231f20" stroke="#231f20" stroke-width="0.22" textLength="9.6" lengthAdjust="spacingAndGlyphs">d0</text>
<text x="446.00" y="313.00" font-size="8.8" text-anchor="start" fill="#231f20" stroke="#231f20" stroke-width="0.22" textLength="10.5" lengthAdjust="spacingAndGlyphs">d7</text>
<text x="459.40" y="313.00" font-size="8.8" text-anchor="start" fill="#231f20" stroke="#231f20" stroke-width="0.22" textLength="14.6" lengthAdjust="spacingAndGlyphs">d14</text>
<path d="M416.30 332.70 L450.71 332.70 L450.71 339.45 L452.34 339.45 L452.34 346.20 L456.44 346.20 L456.44 352.95 L460.21 352.95 L460.21 359.70 L465.12 359.70 L465.12 373.20 L473.64 373.20 L473.64 379.95 L481.83 379.95 L481.83 386.70 L514.60 386.70 L514.60 386.70" fill="none" stroke="#c8285a" stroke-width="1.2" stroke-linejoin="miter"/>
<path d="M416.30 332.70 L444.15 332.70 L444.15 339.45 L446.61 339.45 L446.61 346.20 L449.56 346.20 L449.56 352.95 L452.34 352.95 L452.34 359.70 L456.44 359.70 L456.44 373.20 L458.08 373.20 L458.08 379.95 L458.90 379.95 L458.90 386.70 L464.63 386.70 L464.63 393.45 L469.22 393.45 L469.22 400.20" fill="none" stroke="#2e6496" stroke-width="1.2" stroke-linejoin="miter"/>
<path d="M416.30 332.70 L444.15 332.70 L444.15 339.45 L445.79 339.45 L445.79 346.20 L447.43 346.20 L447.43 352.95 L449.89 352.95 L449.89 359.70 L451.52 359.70 L451.52 366.45 L453.16 366.45 L453.16 373.20 L454.80 373.20 L454.80 379.95 L455.62 379.95 L455.62 386.70 L458.08 386.70 L458.08 393.45 L462.17 393.45 L462.17 400.20" fill="none" stroke="#f2a33a" stroke-width="1.2" stroke-linejoin="miter"/>
<line x1="416.30" y1="400.70" x2="416.30" y2="329.70" stroke="#231f20" stroke-width="1.35"/>
<line x1="413.10" y1="400.20" x2="416.30" y2="400.20" stroke="#231f20" stroke-width="0.9"/>
<text x="410.20" y="402.97" font-size="7.8" text-anchor="end" fill="#231f20" stroke="#231f20" stroke-width="0.22">0</text>
<line x1="413.10" y1="386.70" x2="416.30" y2="386.70" stroke="#231f20" stroke-width="0.9"/>
<text x="410.20" y="389.47" font-size="7.8" text-anchor="end" fill="#231f20" stroke="#231f20" stroke-width="0.22">20</text>
<line x1="413.10" y1="373.20" x2="416.30" y2="373.20" stroke="#231f20" stroke-width="0.9"/>
<text x="410.20" y="375.97" font-size="7.8" text-anchor="end" fill="#231f20" stroke="#231f20" stroke-width="0.22">40</text>
<line x1="413.10" y1="359.70" x2="416.30" y2="359.70" stroke="#231f20" stroke-width="0.9"/>
<text x="410.20" y="362.47" font-size="7.8" text-anchor="end" fill="#231f20" stroke="#231f20" stroke-width="0.22">60</text>
<line x1="413.10" y1="346.20" x2="416.30" y2="346.20" stroke="#231f20" stroke-width="0.9"/>
<text x="410.20" y="348.97" font-size="7.8" text-anchor="end" fill="#231f20" stroke="#231f20" stroke-width="0.22">80</text>
<line x1="413.10" y1="332.70" x2="416.30" y2="332.70" stroke="#231f20" stroke-width="0.9"/>
<text x="410.20" y="335.47" font-size="7.8" text-anchor="end" fill="#231f20" stroke="#231f20" stroke-width="0.22">100</text>
<line x1="415.80" y1="400.20" x2="518.00" y2="400.20" stroke="#231f20" stroke-width="1.4"/>
<line x1="416.30" y1="400.20" x2="416.30" y2="403.20" stroke="#231f20" stroke-width="0.9"/>
<text x="416.30" y="412.70" font-size="7.8" text-anchor="middle" fill="#231f20" stroke="#231f20" stroke-width="0.22">0</text>
<line x1="449.07" y1="400.20" x2="449.07" y2="403.20" stroke="#231f20" stroke-width="0.9"/>
<text x="449.07" y="412.70" font-size="7.8" text-anchor="middle" fill="#231f20" stroke="#231f20" stroke-width="0.22">20</text>
<line x1="481.83" y1="400.20" x2="481.83" y2="403.20" stroke="#231f20" stroke-width="0.9"/>
<text x="481.83" y="412.70" font-size="7.8" text-anchor="middle" fill="#231f20" stroke="#231f20" stroke-width="0.22">40</text>
<line x1="514.60" y1="400.20" x2="514.60" y2="403.20" stroke="#231f20" stroke-width="0.9"/>
<text x="514.60" y="412.70" font-size="7.8" text-anchor="middle" fill="#231f20" stroke="#231f20" stroke-width="0.22">60</text>
<text x="468.20" y="423.50" font-size="10.3" text-anchor="middle" fill="#231f20" stroke="#231f20" stroke-width="0.22" textLength="71.4" lengthAdjust="spacingAndGlyphs">Time after 5FU (days)</text>
<text x="391.40" y="364.70" font-size="9.5" text-anchor="middle" fill="#231f20" stroke="#231f20" stroke-width="0.12" textLength="81.4" lengthAdjust="spacingAndGlyphs" transform="rotate(-90 391.40 364.70)">Percentage of mice alive</text>
<line x1="475.30" y1="332.70" x2="484.90" y2="332.70" stroke="#f2a33a" stroke-width="1.5"/>
<text x="488.80" y="335.10" font-size="7.8" text-anchor="start" fill="#231f20" stroke="#231f20" stroke-width="0.22" textLength="11" lengthAdjust="spacingAndGlyphs">WT</text>
<line x1="475.30" y1="343.10" x2="484.90" y2="343.10" stroke="#2e6496" stroke-width="1.5"/>
<text x="488.80" y="345.70" font-size="7.8" fill="#231f20" stroke="#231f20" stroke-width="0.22" textLength="20.3" lengthAdjust="spacingAndGlyphs">Sphk1</text>
<text x="509.50" y="342.58" font-size="4.68" fill="#231f20" stroke="#231f20" stroke-width="0.1" textLength="8.6" lengthAdjust="spacingAndGlyphs">Δ/Δ</text>
<line x1="475.30" y1="353.10" x2="484.90" y2="353.10" stroke="#c8285a" stroke-width="1.5"/>
<text x="488.80" y="355.30" font-size="7.8" fill="#231f20" stroke="#231f20" stroke-width="0.22" textLength="20.3" lengthAdjust="spacingAndGlyphs">Sphk2</text>
<text x="509.50" y="352.18" font-size="4.68" fill="#231f20" stroke="#231f20" stroke-width="0.1" textLength="8.6" lengthAdjust="spacingAndGlyphs">Δ/Δ</text>
<path d="M496.20 381.05L496.20 383.55M495.12 381.68L497.28 382.93M495.12 382.93L497.28 381.68M499.80 381.05L499.80 383.55M498.72 381.68L500.88 382.93M498.72 382.93L500.88 381.68" stroke="#333" stroke-width="0.85" stroke-linecap="round"/>
<text x="3.80" y="444.60" font-size="11.5" text-anchor="start" fill="#111" font-weight="bold">K</text>
<text x="31.00" y="447.50" font-size="8.8" text-anchor="start" fill="#231f20" stroke="#231f20" stroke-width="0.22" textLength="35" lengthAdjust="spacingAndGlyphs">Irradiated</text>
<text x="23.70" y="457.70" font-size="8.8" text-anchor="start" fill="#231f20" stroke="#231f20" stroke-width="0.22" textLength="49.5" lengthAdjust="spacingAndGlyphs">C57 recipient</text>
<g transform="translate(8.00 468.00) scale(0.97)"><path d="M0.3 9.3 Q4 8.5 7.8 8.9" fill="none" stroke="#d9bcc2" stroke-width="1.1" stroke-linecap="round"/><path d="M6.8 9.3 C6.2 5.6, 9 2.3, 13.5 1.7 C15.5 1.4, 17 1.9, 18.2 2.9 L21.3 5.3 Q22.1 6.1, 21 6.5 L19.1 7.0 L18.7 9.3 Z" fill="#cdc8cc"/><ellipse cx="16.7" cy="1.9" rx="1.35" ry="1.3" fill="#b4aeb2"/><circle cx="19.7" cy="4.5" r="0.45" fill="#6a6468"/><path d="M9 9.3 L18 9.3" stroke="#b8b2b6" stroke-width="0.6"/></g>
<g><circle cx="32.00" cy="471.30" r="2.1" fill="#5a3a8a" stroke="#2c1456" stroke-width="0.73"/><circle cx="36.80" cy="470.80" r="2.1" fill="#5a3a8a" stroke="#2c1456" stroke-width="0.73"/><circle cx="33.40" cy="475.60" r="2.1" fill="#5a3a8a" stroke="#2c1456" stroke-width="0.73"/><circle cx="38.00" cy="475.80" r="2.1" fill="#5a3a8a" stroke="#2c1456" stroke-width="0.73"/><circle cx="32.40" cy="480.00" r="2.1" fill="#5a3a8a" stroke="#2c1456" stroke-width="0.73"/><circle cx="37.00" cy="480.40" r="2.1" fill="#5a3a8a" stroke="#2c1456" stroke-width="0.73"/><circle cx="32.15" cy="471.40" r="0.88" fill="#c4b4dc"/><circle cx="36.95" cy="470.90" r="0.88" fill="#c4b4dc"/><circle cx="33.55" cy="475.70" r="0.88" fill="#c4b4dc"/><circle cx="38.15" cy="475.90" r="0.88" fill="#c4b4dc"/><circle cx="32.55" cy="480.10" r="0.88" fill="#c4b4dc"/><circle cx="37.15" cy="480.50" r="0.88" fill="#c4b4dc"/></g>
<line x1="43.00" y1="472.50" x2="47.70" y2="472.50" stroke="#231f20" stroke-width="1.1"/>
<path d="M47.40 470.13 L47.40 474.87 L51.70 472.50Z" fill="#231f20"/>
<g transform="translate(55.20 468.00) scale(0.97)"><path d="M0.3 9.3 Q4 8.5 7.8 8.9" fill="none" stroke="#d9bcc2" stroke-width="1.1" stroke-linecap="round"/><path d="M6.8 9.3 C6.2 5.6, 9 2.3, 13.5 1.7 C15.5 1.4, 17 1.9, 18.2 2.9 L21.3 5.3 Q22.1 6.1, 21 6.5 L19.1 7.0 L18.7 9.3 Z" fill="#cdc8cc"/><ellipse cx="16.7" cy="1.9" rx="1.35" ry="1.3" fill="#b4aeb2"/><circle cx="19.7" cy="4.5" r="0.45" fill="#6a6468"/><path d="M9 9.3 L18 9.3" stroke="#b8b2b6" stroke-width="0.6"/></g>
<line x1="80.80" y1="473.00" x2="130.60" y2="473.00" stroke="#231f20" stroke-width="1.1"/>
<path d="M130.30 470.63 L130.30 475.37 L134.60 473.00Z" fill="#231f20"/>
<text x="84.80" y="458.30" font-size="8.8" text-anchor="start" fill="#231f20" stroke="#231f20" stroke-width="0.22" textLength="48.5" lengthAdjust="spacingAndGlyphs">5FU injection</text>
<line x1="107.20" y1="461.80" x2="107.20" y2="466.50" stroke="#231f20" stroke-width="1.1"/>
<path d="M104.78 466.20 L109.62 466.20 L107.20 470.60Z" fill="#231f20"/>
<line x1="123.30" y1="461.80" x2="123.30" y2="466.50" stroke="#231f20" stroke-width="1.1"/>
<path d="M120.88 466.20 L125.72 466.20 L123.30 470.60Z" fill="#231f20"/>
<line x1="107.20" y1="473.00" x2="107.20" y2="475.20" stroke="#231f20" stroke-width="0.9"/>
<line x1="123.30" y1="473.00" x2="123.30" y2="475.20" stroke="#231f20" stroke-width="0.9"/>
<text x="71.40" y="483.80" font-size="8.8" text-anchor="start" fill="#231f20" stroke="#231f20" stroke-width="0.22" textLength="29.6" lengthAdjust="spacingAndGlyphs">8 weeks</text>
<text x="102.30" y="483.80" font-size="8.8" text-anchor="start" fill="#231f20" stroke="#231f20" stroke-width="0.22" textLength="8.7" lengthAdjust="spacingAndGlyphs">d0</text>
<text x="118.50" y="483.80" font-size="8.8" text-anchor="start" fill="#231f20" stroke="#231f20" stroke-width="0.22" textLength="8.0" lengthAdjust="spacingAndGlyphs">d7</text>
<path d="M34.90 508.00 L64.79 508.00 L64.79 514.78 L69.60 514.78 L69.60 522.92 L74.41 522.92 L74.41 538.51 L79.99 538.51 L79.99 560.54 L88.09 560.54 L88.09 568.34 L110.89 568.34 L110.89 568.34" fill="none" stroke="#c8285a" stroke-width="1.2" stroke-linejoin="miter"/>
<path d="M34.90 508.00 L55.16 508.00 L55.16 521.56 L60.23 521.56 L60.23 535.12 L62.26 535.12 L62.26 541.90 L64.28 541.90 L64.28 548.68 L69.86 548.68 L69.86 569.02 L75.43 569.02 L75.43 575.80" fill="none" stroke="#f2a33a" stroke-width="1.2" stroke-linejoin="miter"/>
<line x1="34.90" y1="576.30" x2="34.90" y2="505.00" stroke="#231f20" stroke-width="1.35"/>
<line x1="31.70" y1="575.80" x2="34.90" y2="575.80" stroke="#231f20" stroke-width="0.9"/>
<text x="28.80" y="578.57" font-size="7.8" text-anchor="end" fill="#231f20" stroke="#231f20" stroke-width="0.22">0</text>
<line x1="31.70" y1="562.24" x2="34.90" y2="562.24" stroke="#231f20" stroke-width="0.9"/>
<text x="28.80" y="565.01" font-size="7.8" text-anchor="end" fill="#231f20" stroke="#231f20" stroke-width="0.22">20</text>
<line x1="31.70" y1="548.68" x2="34.90" y2="548.68" stroke="#231f20" stroke-width="0.9"/>
<text x="28.80" y="551.45" font-size="7.8" text-anchor="end" fill="#231f20" stroke="#231f20" stroke-width="0.22">40</text>
<line x1="31.70" y1="535.12" x2="34.90" y2="535.12" stroke="#231f20" stroke-width="0.9"/>
<text x="28.80" y="537.89" font-size="7.8" text-anchor="end" fill="#231f20" stroke="#231f20" stroke-width="0.22">60</text>
<line x1="31.70" y1="521.56" x2="34.90" y2="521.56" stroke="#231f20" stroke-width="0.9"/>
<text x="28.80" y="524.33" font-size="7.8" text-anchor="end" fill="#231f20" stroke="#231f20" stroke-width="0.22">80</text>
<line x1="31.70" y1="508.00" x2="34.90" y2="508.00" stroke="#231f20" stroke-width="0.9"/>
<text x="28.80" y="510.77" font-size="7.8" text-anchor="end" fill="#231f20" stroke="#231f20" stroke-width="0.22">100</text>
<line x1="34.40" y1="575.80" x2="116.00" y2="575.80" stroke="#231f20" stroke-width="1.4"/>
<line x1="34.90" y1="575.80" x2="34.90" y2="578.80" stroke="#231f20" stroke-width="0.9"/>
<text x="34.90" y="588.30" font-size="7.8" text-anchor="middle" fill="#231f20" stroke="#231f20" stroke-width="0.22">0</text>
<line x1="60.23" y1="575.80" x2="60.23" y2="578.80" stroke="#231f20" stroke-width="0.9"/>
<text x="60.23" y="588.30" font-size="7.8" text-anchor="middle" fill="#231f20" stroke="#231f20" stroke-width="0.22">10</text>
<line x1="85.56" y1="575.80" x2="85.56" y2="578.80" stroke="#231f20" stroke-width="0.9"/>
<text x="85.56" y="588.30" font-size="7.8" text-anchor="middle" fill="#231f20" stroke="#231f20" stroke-width="0.22">20</text>
<line x1="110.89" y1="575.80" x2="110.89" y2="578.80" stroke="#231f20" stroke-width="0.9"/>
<text x="110.89" y="588.30" font-size="7.8" text-anchor="middle" fill="#231f20" stroke="#231f20" stroke-width="0.22">30</text>
<text x="76.00" y="599.40" font-size="10.3" text-anchor="middle" fill="#231f20" stroke="#231f20" stroke-width="0.22" textLength="71.3" lengthAdjust="spacingAndGlyphs">Time after 5FU (days)</text>
<text x="10.90" y="540.30" font-size="9.5" text-anchor="middle" fill="#231f20" stroke="#231f20" stroke-width="0.12" textLength="82.3" lengthAdjust="spacingAndGlyphs" transform="rotate(-90 10.90 540.30)">Percentage of mice alive</text>
<line x1="74.20" y1="503.50" x2="83.20" y2="503.50" stroke="#f2a33a" stroke-width="1.5"/>
<text x="88.00" y="506.30" font-size="7.8" text-anchor="start" fill="#231f20" stroke="#231f20" stroke-width="0.22" textLength="10.6" lengthAdjust="spacingAndGlyphs">WT</text>
<line x1="74.20" y1="512.30" x2="83.20" y2="512.30" stroke="#c8285a" stroke-width="1.5"/>
<text x="88.00" y="515.40" font-size="7.8" fill="#231f20" stroke="#231f20" stroke-width="0.22" textLength="20.9" lengthAdjust="spacingAndGlyphs">Sphk2</text>
<text x="109.30" y="512.28" font-size="4.68" fill="#231f20" stroke="#231f20" stroke-width="0.1" textLength="8.4" lengthAdjust="spacingAndGlyphs">Δ/Δ</text>
<path d="M98.50 562.25L98.50 564.75M97.42 562.88L99.58 564.12M97.42 564.12L99.58 562.88M102.10 562.25L102.10 564.75M101.02 562.88L103.18 564.12M101.02 564.12L103.18 562.88" stroke="#333" stroke-width="0.85" stroke-linecap="round"/>
<text x="140.20" y="444.60" font-size="11.5" text-anchor="start" fill="#111" font-weight="bold">L</text>
<text x="154.00" y="457.50" font-size="8.8" text-anchor="start" fill="#231f20" stroke="#231f20" stroke-width="0.22" textLength="90" lengthAdjust="spacingAndGlyphs">4.5Gy irradiation analysis</text>
<g transform="translate(172.50 467.30) scale(0.95)"><path d="M0.3 9.3 Q4 8.5 7.8 8.9" fill="none" stroke="#d9bcc2" stroke-width="1.1" stroke-linecap="round"/><path d="M6.8 9.3 C6.2 5.6, 9 2.3, 13.5 1.7 C15.5 1.4, 17 1.9, 18.2 2.9 L21.3 5.3 Q22.1 6.1, 21 6.5 L19.1 7.0 L18.7 9.3 Z" fill="#cdc8cc"/><ellipse cx="16.7" cy="1.9" rx="1.35" ry="1.3" fill="#b4aeb2"/><circle cx="19.7" cy="4.5" r="0.45" fill="#6a6468"/><path d="M9 9.3 L18 9.3" stroke="#b8b2b6" stroke-width="0.6"/></g>
<line x1="197.50" y1="473.00" x2="233.50" y2="473.00" stroke="#231f20" stroke-width="1.1"/>
<path d="M233.20 470.63 L233.20 475.37 L237.50 473.00Z" fill="#231f20"/>
<line x1="198.75" y1="460.00" x2="198.75" y2="465.40" stroke="#231f20" stroke-width="1.1"/>
<path d="M196.33 465.10 L201.17 465.10 L198.75 469.50Z" fill="#231f20"/>
<line x1="229.50" y1="471.00" x2="229.50" y2="464.60" stroke="#231f20" stroke-width="1.1"/>
<path d="M227.08 464.90 L231.92 464.90 L229.50 460.50Z" fill="#231f20"/>
<line x1="198.75" y1="473.00" x2="198.75" y2="475.20" stroke="#231f20" stroke-width="0.9"/>
<line x1="229.50" y1="473.00" x2="229.50" y2="475.20" stroke="#231f20" stroke-width="0.9"/>
<text x="194.50" y="486.00" font-size="8.8" text-anchor="start" fill="#231f20" stroke="#231f20" stroke-width="0.22" textLength="9.5" lengthAdjust="spacingAndGlyphs">d0</text>
<text x="222.50" y="486.00" font-size="8.8" text-anchor="start" fill="#231f20" stroke="#231f20" stroke-width="0.22" textLength="13.5" lengthAdjust="spacingAndGlyphs">d14</text>
<rect x="164.80" y="563.83" width="6.20" height="11.37" fill="#fbbd6a"/>
<rect x="173.90" y="555.89" width="6.20" height="19.31" fill="#dc7c95"/>
<circle cx="169.65" cy="562.76" r="1.45" fill="#f29a20"/>
<circle cx="168.27" cy="561.16" r="1.45" fill="#f29a20"/>
<circle cx="166.74" cy="565.03" r="1.45" fill="#f29a20"/>
<circle cx="166.09" cy="563.71" r="1.45" fill="#f29a20"/>
<circle cx="168.64" cy="566.02" r="1.45" fill="#f29a20"/>
<circle cx="176.27" cy="557.11" r="1.45" fill="#a8123a"/>
<circle cx="179.12" cy="552.39" r="1.45" fill="#a8123a"/>
<circle cx="178.17" cy="559.02" r="1.45" fill="#a8123a"/>
<circle cx="175.48" cy="554.18" r="1.45" fill="#a8123a"/>
<circle cx="176.79" cy="556.11" r="1.45" fill="#a8123a"/>
<line x1="167.90" y1="561.81" x2="167.90" y2="565.85" stroke="#a05a10" stroke-width="0.6"/>
<line x1="166.90" y1="561.81" x2="168.90" y2="561.81" stroke="#a05a10" stroke-width="0.6"/>
<line x1="166.90" y1="565.85" x2="168.90" y2="565.85" stroke="#a05a10" stroke-width="0.6"/>
<line x1="177.00" y1="553.11" x2="177.00" y2="558.67" stroke="#701028" stroke-width="0.6"/>
<line x1="176.00" y1="553.11" x2="178.00" y2="553.11" stroke="#701028" stroke-width="0.6"/>
<line x1="176.00" y1="558.67" x2="178.00" y2="558.67" stroke="#701028" stroke-width="0.6"/>
<rect x="190.40" y="552.64" width="6.20" height="22.56" fill="#fbbd6a"/>
<rect x="199.40" y="532.78" width="6.20" height="42.42" fill="#dc7c95"/>
<circle cx="193.21" cy="552.50" r="1.45" fill="#f29a20"/>
<circle cx="195.03" cy="557.69" r="1.45" fill="#f29a20"/>
<circle cx="194.36" cy="550.36" r="1.45" fill="#f29a20"/>
<circle cx="192.46" cy="547.94" r="1.45" fill="#f29a20"/>
<circle cx="191.42" cy="555.38" r="1.45" fill="#f29a20"/>
<circle cx="200.65" cy="533.00" r="1.45" fill="#a8123a"/>
<circle cx="201.88" cy="536.78" r="1.45" fill="#a8123a"/>
<circle cx="204.01" cy="528.70" r="1.45" fill="#a8123a"/>
<circle cx="203.54" cy="534.61" r="1.45" fill="#a8123a"/>
<circle cx="202.56" cy="530.91" r="1.45" fill="#a8123a"/>
<line x1="193.50" y1="548.47" x2="193.50" y2="556.81" stroke="#a05a10" stroke-width="0.6"/>
<line x1="192.50" y1="548.47" x2="194.50" y2="548.47" stroke="#a05a10" stroke-width="0.6"/>
<line x1="192.50" y1="556.81" x2="194.50" y2="556.81" stroke="#a05a10" stroke-width="0.6"/>
<line x1="202.50" y1="529.37" x2="202.50" y2="536.19" stroke="#701028" stroke-width="0.6"/>
<line x1="201.50" y1="529.37" x2="203.50" y2="529.37" stroke="#701028" stroke-width="0.6"/>
<line x1="201.50" y1="536.19" x2="203.50" y2="536.19" stroke="#701028" stroke-width="0.6"/>
<rect x="215.20" y="535.49" width="6.20" height="39.71" fill="#fbbd6a"/>
<rect x="224.90" y="521.95" width="6.20" height="53.25" fill="#dc7c95"/>
<circle cx="216.67" cy="538.58" r="1.45" fill="#f29a20"/>
<circle cx="219.16" cy="533.05" r="1.45" fill="#f29a20"/>
<circle cx="218.35" cy="530.19" r="1.45" fill="#f29a20"/>
<circle cx="217.63" cy="541.32" r="1.45" fill="#f29a20"/>
<circle cx="220.28" cy="535.88" r="1.45" fill="#f29a20"/>
<circle cx="227.82" cy="521.84" r="1.45" fill="#a8123a"/>
<circle cx="227.35" cy="517.68" r="1.45" fill="#a8123a"/>
<circle cx="229.75" cy="526.04" r="1.45" fill="#a8123a"/>
<circle cx="228.74" cy="519.78" r="1.45" fill="#a8123a"/>
<circle cx="226.43" cy="523.92" r="1.45" fill="#a8123a"/>
<line x1="218.30" y1="530.69" x2="218.30" y2="540.29" stroke="#a05a10" stroke-width="0.6"/>
<line x1="217.30" y1="530.69" x2="219.30" y2="530.69" stroke="#a05a10" stroke-width="0.6"/>
<line x1="217.30" y1="540.29" x2="219.30" y2="540.29" stroke="#a05a10" stroke-width="0.6"/>
<line x1="228.00" y1="518.04" x2="228.00" y2="525.87" stroke="#701028" stroke-width="0.6"/>
<line x1="227.00" y1="518.04" x2="229.00" y2="518.04" stroke="#701028" stroke-width="0.6"/>
<line x1="227.00" y1="525.87" x2="229.00" y2="525.87" stroke="#701028" stroke-width="0.6"/>
<line x1="160.60" y1="575.70" x2="160.60" y2="500.00" stroke="#231f20" stroke-width="1.35"/>
<line x1="157.40" y1="575.20" x2="160.60" y2="575.20" stroke="#231f20" stroke-width="0.9"/>
<text x="154.50" y="577.97" font-size="7.8" text-anchor="end" fill="#231f20" stroke="#231f20" stroke-width="0.22">0</text>
<line x1="157.40" y1="557.15" x2="160.60" y2="557.15" stroke="#231f20" stroke-width="0.9"/>
<text x="154.50" y="559.92" font-size="7.8" text-anchor="end" fill="#231f20" stroke="#231f20" stroke-width="0.22">1</text>
<line x1="157.40" y1="539.10" x2="160.60" y2="539.10" stroke="#231f20" stroke-width="0.9"/>
<text x="154.50" y="541.87" font-size="7.8" text-anchor="end" fill="#231f20" stroke="#231f20" stroke-width="0.22">2</text>
<line x1="157.40" y1="521.05" x2="160.60" y2="521.05" stroke="#231f20" stroke-width="0.9"/>
<text x="154.50" y="523.82" font-size="7.8" text-anchor="end" fill="#231f20" stroke="#231f20" stroke-width="0.22">3</text>
<line x1="157.40" y1="503.00" x2="160.60" y2="503.00" stroke="#231f20" stroke-width="0.9"/>
<text x="154.50" y="505.77" font-size="7.8" text-anchor="end" fill="#231f20" stroke="#231f20" stroke-width="0.22">4</text>
<line x1="160.10" y1="575.20" x2="233.50" y2="575.20" stroke="#231f20" stroke-width="1.4"/>
<line x1="172.20" y1="575.20" x2="172.20" y2="578.20" stroke="#231f20" stroke-width="0.9"/>
<line x1="197.20" y1="575.20" x2="197.20" y2="578.20" stroke="#231f20" stroke-width="0.9"/>
<line x1="222.90" y1="575.20" x2="222.90" y2="578.20" stroke="#231f20" stroke-width="0.9"/>
<text x="168.30" y="588.00" font-size="8.1" text-anchor="middle" fill="#231f20" stroke="#231f20" stroke-width="0.22" textLength="25.5" lengthAdjust="spacingAndGlyphs">LT-HSC</text>
<text x="198.00" y="588.00" font-size="8.1" text-anchor="middle" fill="#231f20" stroke="#231f20" stroke-width="0.22" textLength="25.5" lengthAdjust="spacingAndGlyphs">ST-HSC</text>
<text x="225.30" y="588.00" font-size="8.1" text-anchor="middle" fill="#231f20" stroke="#231f20" stroke-width="0.22" textLength="15.8" lengthAdjust="spacingAndGlyphs">MPP</text>
<line x1="169.70" y1="549.10" x2="177.80" y2="549.10" stroke="#333" stroke-width="0.9"/>
<path d="M171.95 544.25L171.95 546.75M170.87 544.88L173.03 546.12M170.87 546.12L173.03 544.88M175.55 544.25L175.55 546.75M174.47 544.88L176.63 546.12M174.47 546.12L176.63 544.88" stroke="#333" stroke-width="0.85" stroke-linecap="round"/>
<line x1="194.30" y1="525.20" x2="202.80" y2="525.20" stroke="#333" stroke-width="0.9"/>
<path d="M194.95 520.35L194.95 522.85M193.87 520.98L196.03 522.23M193.87 522.23L196.03 520.98M198.55 520.35L198.55 522.85M197.47 520.98L199.63 522.23M197.47 522.23L199.63 520.98M202.15 520.35L202.15 522.85M201.07 520.98L203.23 522.23M201.07 522.23L203.23 520.98" stroke="#333" stroke-width="0.85" stroke-linecap="round"/>
<line x1="219.80" y1="511.60" x2="228.70" y2="511.60" stroke="#333" stroke-width="0.9"/>
<path d="M220.65 506.75L220.65 509.25M219.57 507.38L221.73 508.62M219.57 508.62L221.73 507.38M224.25 506.75L224.25 509.25M223.17 507.38L225.33 508.62M223.17 508.62L225.33 507.38M227.85 506.75L227.85 509.25M226.77 507.38L228.93 508.62M226.77 508.62L228.93 507.38" stroke="#333" stroke-width="0.85" stroke-linecap="round"/>
<rect x="164.80" y="500.70" width="3.60" height="3.60" fill="#f0921a"/>
<text x="172.20" y="505.20" font-size="7.8" text-anchor="start" fill="#231f20" stroke="#231f20" stroke-width="0.22" textLength="11.2" lengthAdjust="spacingAndGlyphs">WT</text>
<rect x="164.80" y="510.50" width="3.60" height="3.60" fill="#b8143e"/>
<text x="172.20" y="514.90" font-size="7.8" fill="#231f20" stroke="#231f20" stroke-width="0.22" textLength="21.5" lengthAdjust="spacingAndGlyphs">Sphk2</text>
<text x="194.10" y="511.78" font-size="4.68" fill="#231f20" stroke="#231f20" stroke-width="0.1" textLength="8" lengthAdjust="spacingAndGlyphs">Δ/Δ</text>
<text x="143.70" y="539.90" font-size="9.5" text-anchor="middle" fill="#231f20" stroke="#231f20" stroke-width="0.12" textLength="67.3" lengthAdjust="spacingAndGlyphs" transform="rotate(-90 143.70 539.90)">Cells per leg (×10<tspan dy="-3" font-size="6">4</tspan><tspan dy="3">)</tspan></text>
<rect x="261.00" y="549.69" width="6.20" height="25.51" fill="#fbbd6a"/>
<rect x="275.50" y="527.55" width="6.20" height="47.65" fill="#dc7c95"/>
<circle cx="265.65" cy="551.31" r="1.45" fill="#f29a20"/>
<circle cx="263.81" cy="552.38" r="1.45" fill="#f29a20"/>
<circle cx="264.63" cy="549.41" r="1.45" fill="#f29a20"/>
<circle cx="262.93" cy="547.77" r="1.45" fill="#f29a20"/>
<circle cx="262.62" cy="546.80" r="1.45" fill="#f29a20"/>
<circle cx="278.07" cy="518.86" r="1.45" fill="#a8123a"/>
<circle cx="278.83" cy="531.79" r="1.45" fill="#a8123a"/>
<circle cx="276.82" cy="536.31" r="1.45" fill="#a8123a"/>
<circle cx="279.64" cy="523.20" r="1.45" fill="#a8123a"/>
<circle cx="280.57" cy="527.27" r="1.45" fill="#a8123a"/>
<line x1="264.10" y1="546.99" x2="264.10" y2="552.38" stroke="#a05a10" stroke-width="0.6"/>
<line x1="263.10" y1="546.99" x2="265.10" y2="546.99" stroke="#a05a10" stroke-width="0.6"/>
<line x1="263.10" y1="552.38" x2="265.10" y2="552.38" stroke="#a05a10" stroke-width="0.6"/>
<line x1="278.60" y1="520.14" x2="278.60" y2="534.96" stroke="#701028" stroke-width="0.6"/>
<line x1="277.60" y1="520.14" x2="279.60" y2="520.14" stroke="#701028" stroke-width="0.6"/>
<line x1="277.60" y1="534.96" x2="279.60" y2="534.96" stroke="#701028" stroke-width="0.6"/>
<line x1="256.30" y1="575.70" x2="256.30" y2="500.00" stroke="#231f20" stroke-width="1.35"/>
<line x1="253.10" y1="575.20" x2="256.30" y2="575.20" stroke="#231f20" stroke-width="0.9"/>
<text x="250.20" y="577.97" font-size="7.8" text-anchor="end" fill="#231f20" stroke="#231f20" stroke-width="0.22">0</text>
<line x1="253.10" y1="551.13" x2="256.30" y2="551.13" stroke="#231f20" stroke-width="0.9"/>
<text x="250.20" y="553.90" font-size="7.8" text-anchor="end" fill="#231f20" stroke="#231f20" stroke-width="0.22">0.5</text>
<line x1="253.10" y1="527.07" x2="256.30" y2="527.07" stroke="#231f20" stroke-width="0.9"/>
<text x="250.20" y="529.84" font-size="7.8" text-anchor="end" fill="#231f20" stroke="#231f20" stroke-width="0.22">1</text>
<line x1="253.10" y1="503.00" x2="256.30" y2="503.00" stroke="#231f20" stroke-width="0.9"/>
<text x="250.20" y="505.77" font-size="7.8" text-anchor="end" fill="#231f20" stroke="#231f20" stroke-width="0.22">1.5</text>
<line x1="255.80" y1="575.20" x2="285.20" y2="575.20" stroke="#231f20" stroke-width="1.4"/>
<line x1="270.70" y1="575.20" x2="270.70" y2="578.20" stroke="#231f20" stroke-width="0.9"/>
<line x1="264.00" y1="512.40" x2="276.50" y2="512.40" stroke="#333" stroke-width="0.9"/>
<path d="M266.70 507.05L266.70 509.55M265.62 507.68L267.78 508.93M265.62 508.93L267.78 507.68M270.30 507.05L270.30 509.55M269.22 507.68L271.38 508.93M269.22 508.93L271.38 507.68M273.90 507.05L273.90 509.55M272.82 507.68L274.98 508.93M272.82 508.93L274.98 507.68" stroke="#333" stroke-width="0.85" stroke-linecap="round"/>
<text x="270.30" y="588.00" font-size="8.1" text-anchor="middle" fill="#231f20" stroke="#231f20" stroke-width="0.22" textLength="39" lengthAdjust="spacingAndGlyphs">SLAM HSC</text>
<text x="294.00" y="444.60" font-size="11.5" text-anchor="start" fill="#111" font-weight="bold">M</text>
<rect x="322.70" y="520.58" width="6.20" height="54.82" fill="#fbbd6a"/>
<rect x="332.10" y="510.07" width="6.20" height="65.33" fill="#dc7c95"/>
<circle cx="327.59" cy="522.44" r="1.45" fill="#f29a20"/>
<circle cx="326.19" cy="521.49" r="1.45" fill="#f29a20"/>
<circle cx="324.14" cy="517.58" r="1.45" fill="#f29a20"/>
<circle cx="325.40" cy="519.83" r="1.45" fill="#f29a20"/>
<circle cx="324.58" cy="518.77" r="1.45" fill="#f29a20"/>
<circle cx="326.67" cy="523.67" r="1.45" fill="#f29a20"/>
<circle cx="334.59" cy="512.69" r="1.45" fill="#a8123a"/>
<circle cx="334.39" cy="505.51" r="1.45" fill="#a8123a"/>
<circle cx="336.09" cy="515.40" r="1.45" fill="#a8123a"/>
<circle cx="333.71" cy="507.30" r="1.45" fill="#a8123a"/>
<circle cx="335.81" cy="510.76" r="1.45" fill="#a8123a"/>
<circle cx="337.13" cy="509.02" r="1.45" fill="#a8123a"/>
<line x1="325.80" y1="518.02" x2="325.80" y2="523.13" stroke="#a05a10" stroke-width="0.6"/>
<line x1="324.80" y1="518.02" x2="326.80" y2="518.02" stroke="#a05a10" stroke-width="0.6"/>
<line x1="324.80" y1="523.13" x2="326.80" y2="523.13" stroke="#a05a10" stroke-width="0.6"/>
<line x1="335.20" y1="505.91" x2="335.20" y2="514.22" stroke="#701028" stroke-width="0.6"/>
<line x1="334.20" y1="505.91" x2="336.20" y2="505.91" stroke="#701028" stroke-width="0.6"/>
<line x1="334.20" y1="514.22" x2="336.20" y2="514.22" stroke="#701028" stroke-width="0.6"/>
<rect x="348.10" y="554.84" width="6.20" height="20.56" fill="#fbbd6a"/>
<rect x="357.50" y="560.78" width="6.20" height="14.62" fill="#dc7c95"/>
<circle cx="350.30" cy="552.17" r="1.45" fill="#f29a20"/>
<circle cx="353.18" cy="553.21" r="1.45" fill="#f29a20"/>
<circle cx="352.38" cy="556.72" r="1.45" fill="#f29a20"/>
<circle cx="349.02" cy="554.65" r="1.45" fill="#f29a20"/>
<circle cx="350.67" cy="557.65" r="1.45" fill="#f29a20"/>
<circle cx="351.74" cy="555.46" r="1.45" fill="#f29a20"/>
<circle cx="359.54" cy="562.85" r="1.45" fill="#a8123a"/>
<circle cx="359.94" cy="557.98" r="1.45" fill="#a8123a"/>
<circle cx="362.05" cy="559.23" r="1.45" fill="#a8123a"/>
<circle cx="360.94" cy="561.11" r="1.45" fill="#a8123a"/>
<circle cx="359.09" cy="564.19" r="1.45" fill="#a8123a"/>
<circle cx="362.59" cy="559.88" r="1.45" fill="#a8123a"/>
<line x1="351.20" y1="552.60" x2="351.20" y2="557.08" stroke="#a05a10" stroke-width="0.6"/>
<line x1="350.20" y1="552.60" x2="352.20" y2="552.60" stroke="#a05a10" stroke-width="0.6"/>
<line x1="350.20" y1="557.08" x2="352.20" y2="557.08" stroke="#a05a10" stroke-width="0.6"/>
<line x1="360.60" y1="558.22" x2="360.60" y2="563.34" stroke="#701028" stroke-width="0.6"/>
<line x1="359.60" y1="558.22" x2="361.60" y2="558.22" stroke="#701028" stroke-width="0.6"/>
<line x1="359.60" y1="563.34" x2="361.60" y2="563.34" stroke="#701028" stroke-width="0.6"/>
<rect x="373.30" y="557.58" width="6.20" height="17.82" fill="#fbbd6a"/>
<rect x="382.90" y="563.98" width="6.20" height="11.42" fill="#dc7c95"/>
<circle cx="375.31" cy="558.40" r="1.45" fill="#f29a20"/>
<circle cx="378.31" cy="554.68" r="1.45" fill="#f29a20"/>
<circle cx="374.54" cy="557.22" r="1.45" fill="#f29a20"/>
<circle cx="377.63" cy="555.49" r="1.45" fill="#f29a20"/>
<circle cx="376.61" cy="559.59" r="1.45" fill="#f29a20"/>
<circle cx="376.24" cy="560.45" r="1.45" fill="#f29a20"/>
<circle cx="387.11" cy="558.44" r="1.45" fill="#a8123a"/>
<circle cx="385.73" cy="561.02" r="1.45" fill="#a8123a"/>
<circle cx="384.52" cy="568.96" r="1.45" fill="#a8123a"/>
<circle cx="387.92" cy="564.96" r="1.45" fill="#a8123a"/>
<circle cx="386.15" cy="563.14" r="1.45" fill="#a8123a"/>
<circle cx="384.92" cy="566.81" r="1.45" fill="#a8123a"/>
<line x1="376.40" y1="555.02" x2="376.40" y2="560.14" stroke="#a05a10" stroke-width="0.6"/>
<line x1="375.40" y1="555.02" x2="377.40" y2="555.02" stroke="#a05a10" stroke-width="0.6"/>
<line x1="375.40" y1="560.14" x2="377.40" y2="560.14" stroke="#a05a10" stroke-width="0.6"/>
<line x1="386.00" y1="559.50" x2="386.00" y2="568.46" stroke="#701028" stroke-width="0.6"/>
<line x1="385.00" y1="559.50" x2="387.00" y2="559.50" stroke="#701028" stroke-width="0.6"/>
<line x1="385.00" y1="568.46" x2="387.00" y2="568.46" stroke="#701028" stroke-width="0.6"/>
<line x1="319.20" y1="575.90" x2="319.20" y2="499.30" stroke="#231f20" stroke-width="1.35"/>
<line x1="316.00" y1="575.40" x2="319.20" y2="575.40" stroke="#231f20" stroke-width="0.9"/>
<text x="313.10" y="578.17" font-size="7.8" text-anchor="end" fill="#231f20" stroke="#231f20" stroke-width="0.22">0</text>
<line x1="316.00" y1="557.12" x2="319.20" y2="557.12" stroke="#231f20" stroke-width="0.9"/>
<text x="313.10" y="559.89" font-size="7.8" text-anchor="end" fill="#231f20" stroke="#231f20" stroke-width="0.22">20</text>
<line x1="316.00" y1="538.85" x2="319.20" y2="538.85" stroke="#231f20" stroke-width="0.9"/>
<text x="313.10" y="541.62" font-size="7.8" text-anchor="end" fill="#231f20" stroke="#231f20" stroke-width="0.22">40</text>
<line x1="316.00" y1="520.58" x2="319.20" y2="520.58" stroke="#231f20" stroke-width="0.9"/>
<text x="313.10" y="523.34" font-size="7.8" text-anchor="end" fill="#231f20" stroke="#231f20" stroke-width="0.22">60</text>
<line x1="316.00" y1="502.30" x2="319.20" y2="502.30" stroke="#231f20" stroke-width="0.9"/>
<text x="313.10" y="505.07" font-size="7.8" text-anchor="end" fill="#231f20" stroke="#231f20" stroke-width="0.22">80</text>
<line x1="318.70" y1="575.40" x2="392.30" y2="575.40" stroke="#231f20" stroke-width="1.4"/>
<line x1="330.80" y1="575.40" x2="330.80" y2="578.40" stroke="#231f20" stroke-width="0.9"/>
<line x1="355.80" y1="575.40" x2="355.80" y2="578.40" stroke="#231f20" stroke-width="0.9"/>
<line x1="380.80" y1="575.40" x2="380.80" y2="578.40" stroke="#231f20" stroke-width="0.9"/>
<text x="330.30" y="589.00" font-size="8.1" text-anchor="middle" fill="#231f20" stroke="#231f20" stroke-width="0.22" textLength="10.6" lengthAdjust="spacingAndGlyphs">G0</text>
<text x="355.30" y="589.00" font-size="8.1" text-anchor="middle" fill="#231f20" stroke="#231f20" stroke-width="0.22" textLength="8.6" lengthAdjust="spacingAndGlyphs">G1</text>
<text x="380.80" y="589.00" font-size="8.1" text-anchor="middle" fill="#231f20" stroke="#231f20" stroke-width="0.22" textLength="28.9" lengthAdjust="spacingAndGlyphs">G2/S/M</text>
<line x1="325.00" y1="503.10" x2="334.20" y2="503.10" stroke="#333" stroke-width="0.9"/>
<path d="M326.00 497.85L326.00 500.35M324.92 498.48L327.08 499.73M324.92 499.73L327.08 498.48M329.60 497.85L329.60 500.35M328.52 498.48L330.68 499.73M328.52 499.73L330.68 498.48M333.20 497.85L333.20 500.35M332.12 498.48L334.28 499.73M332.12 499.73L334.28 498.48" stroke="#333" stroke-width="0.85" stroke-linecap="round"/>
<line x1="350.40" y1="550.40" x2="360.00" y2="550.40" stroke="#333" stroke-width="0.9"/>
<path d="M353.40 545.15L353.40 547.65M352.32 545.77L354.48 547.02M352.32 547.02L354.48 545.77M357.00 545.15L357.00 547.65M355.92 545.77L358.08 547.02M355.92 547.02L358.08 545.77" stroke="#333" stroke-width="0.85" stroke-linecap="round"/>
<line x1="376.90" y1="551.20" x2="386.50" y2="551.20" stroke="#333" stroke-width="0.9"/>
<path d="M381.70 545.95L381.70 548.45M380.62 546.58L382.78 547.83M380.62 547.83L382.78 546.58" stroke="#333" stroke-width="0.85" stroke-linecap="round"/>
<rect x="345.20" y="501.10" width="3.80" height="3.60" fill="#f0921a"/>
<text x="351.90" y="505.50" font-size="7.8" text-anchor="start" fill="#231f20" stroke="#231f20" stroke-width="0.22" textLength="11.6" lengthAdjust="spacingAndGlyphs">WT</text>
<rect x="345.20" y="511.40" width="3.80" height="3.80" fill="#b8143e"/>
<text x="351.90" y="515.60" font-size="7.8" fill="#231f20" stroke="#231f20" stroke-width="0.22" textLength="22" lengthAdjust="spacingAndGlyphs">Sphk2</text>
<text x="374.30" y="512.48" font-size="4.68" fill="#231f20" stroke="#231f20" stroke-width="0.1" textLength="8.5" lengthAdjust="spacingAndGlyphs">Δ/Δ</text>
<text x="297.70" y="536.50" font-size="9.5" text-anchor="middle" fill="#231f20" stroke="#231f20" stroke-width="0.12" textLength="48.6" lengthAdjust="spacingAndGlyphs" transform="rotate(-90 297.70 536.50)">Frequency (%)</text>
<text x="400.40" y="444.60" font-size="11.5" text-anchor="start" fill="#111" font-weight="bold">N</text>
<text x="426.40" y="457.60" font-size="8.8" text-anchor="start" fill="#231f20" stroke="#231f20" stroke-width="0.22" textLength="54.9" lengthAdjust="spacingAndGlyphs">9Gy irradiation</text>
<line x1="454.50" y1="461.30" x2="454.50" y2="466.50" stroke="#231f20" stroke-width="1.1"/>
<path d="M452.08 466.20 L456.92 466.20 L454.50 470.60Z" fill="#231f20"/>
<g transform="translate(426.50 468.80) scale(0.95)"><path d="M0.3 9.3 Q4 8.5 7.8 8.9" fill="none" stroke="#d9bcc2" stroke-width="1.1" stroke-linecap="round"/><path d="M6.8 9.3 C6.2 5.6, 9 2.3, 13.5 1.7 C15.5 1.4, 17 1.9, 18.2 2.9 L21.3 5.3 Q22.1 6.1, 21 6.5 L19.1 7.0 L18.7 9.3 Z" fill="#cdc8cc"/><ellipse cx="16.7" cy="1.9" rx="1.35" ry="1.3" fill="#b4aeb2"/><circle cx="19.7" cy="4.5" r="0.45" fill="#6a6468"/><path d="M9 9.3 L18 9.3" stroke="#b8b2b6" stroke-width="0.6"/></g>
<line x1="450.30" y1="474.50" x2="474.00" y2="474.50" stroke="#231f20" stroke-width="1.1"/>
<path d="M473.70 472.13 L473.70 476.87 L478.00 474.50Z" fill="#231f20"/>
<line x1="454.50" y1="474.50" x2="454.50" y2="476.80" stroke="#231f20" stroke-width="0.9"/>
<text x="450.00" y="485.80" font-size="8.8" text-anchor="start" fill="#231f20" stroke="#231f20" stroke-width="0.22" textLength="8.8" lengthAdjust="spacingAndGlyphs">d0</text>
<path d="M431.50 508.80 L468.95 508.80 L468.95 522.20 L474.30 522.20 L474.30 528.90 L479.65 528.90 L479.65 535.60 L485.00 535.60 L485.00 549.00 L490.35 549.00 L490.35 555.70 L495.70 555.70 L495.70 569.10 L506.40 569.10 L506.40 575.80" fill="none" stroke="#c8285a" stroke-width="1.2" stroke-linejoin="miter"/>
<path d="M431.50 508.80 L463.60 508.80 L463.60 515.50 L468.95 515.50 L468.95 542.30 L474.83 542.30 L474.83 562.40 L479.65 562.40 L479.65 575.80" fill="none" stroke="#f2a33a" stroke-width="1.2" stroke-linejoin="miter"/>
<line x1="431.20" y1="576.30" x2="431.20" y2="505.80" stroke="#231f20" stroke-width="1.35"/>
<line x1="428.00" y1="575.80" x2="431.20" y2="575.80" stroke="#231f20" stroke-width="0.9"/>
<text x="425.10" y="578.57" font-size="7.8" text-anchor="end" fill="#231f20" stroke="#231f20" stroke-width="0.22">0</text>
<line x1="428.00" y1="562.40" x2="431.20" y2="562.40" stroke="#231f20" stroke-width="0.9"/>
<text x="425.10" y="565.17" font-size="7.8" text-anchor="end" fill="#231f20" stroke="#231f20" stroke-width="0.22">20</text>
<line x1="428.00" y1="549.00" x2="431.20" y2="549.00" stroke="#231f20" stroke-width="0.9"/>
<text x="425.10" y="551.77" font-size="7.8" text-anchor="end" fill="#231f20" stroke="#231f20" stroke-width="0.22">40</text>
<line x1="428.00" y1="535.60" x2="431.20" y2="535.60" stroke="#231f20" stroke-width="0.9"/>
<text x="425.10" y="538.37" font-size="7.8" text-anchor="end" fill="#231f20" stroke="#231f20" stroke-width="0.22">60</text>
<line x1="428.00" y1="522.20" x2="431.20" y2="522.20" stroke="#231f20" stroke-width="0.9"/>
<text x="425.10" y="524.97" font-size="7.8" text-anchor="end" fill="#231f20" stroke="#231f20" stroke-width="0.22">80</text>
<line x1="428.00" y1="508.80" x2="431.20" y2="508.80" stroke="#231f20" stroke-width="0.9"/>
<text x="425.10" y="511.57" font-size="7.8" text-anchor="end" fill="#231f20" stroke="#231f20" stroke-width="0.22">100</text>
<line x1="430.70" y1="575.80" x2="516.50" y2="575.80" stroke="#231f20" stroke-width="1.4"/>
<line x1="431.50" y1="575.80" x2="431.50" y2="578.80" stroke="#231f20" stroke-width="0.9"/>
<text x="431.50" y="588.30" font-size="7.8" text-anchor="middle" fill="#231f20" stroke="#231f20" stroke-width="0.22">0</text>
<line x1="458.25" y1="575.80" x2="458.25" y2="578.80" stroke="#231f20" stroke-width="0.9"/>
<text x="458.25" y="588.30" font-size="7.8" text-anchor="middle" fill="#231f20" stroke="#231f20" stroke-width="0.22">5</text>
<line x1="485.00" y1="575.80" x2="485.00" y2="578.80" stroke="#231f20" stroke-width="0.9"/>
<text x="485.00" y="588.30" font-size="7.8" text-anchor="middle" fill="#231f20" stroke="#231f20" stroke-width="0.22">10</text>
<line x1="511.75" y1="575.80" x2="511.75" y2="578.80" stroke="#231f20" stroke-width="0.9"/>
<text x="511.75" y="588.30" font-size="7.8" text-anchor="middle" fill="#231f20" stroke="#231f20" stroke-width="0.22">15</text>
<text x="474.00" y="598.70" font-size="10.3" text-anchor="middle" fill="#231f20" stroke="#231f20" stroke-width="0.22" textLength="90.5" lengthAdjust="spacingAndGlyphs">Time after irradiated (days)</text>
<text x="407.00" y="540.50" font-size="9.5" text-anchor="middle" fill="#231f20" stroke="#231f20" stroke-width="0.12" textLength="81.5" lengthAdjust="spacingAndGlyphs" transform="rotate(-90 407.00 540.50)">Percentage of mice alive</text>
<line x1="475.30" y1="503.90" x2="484.90" y2="503.90" stroke="#f2a33a" stroke-width="1.5"/>
<text x="488.80" y="506.30" font-size="7.8" text-anchor="start" fill="#231f20" stroke="#231f20" stroke-width="0.22" textLength="11.5" lengthAdjust="spacingAndGlyphs">WT</text>
<line x1="475.30" y1="513.10" x2="484.90" y2="513.10" stroke="#c8285a" stroke-width="1.5"/>
<text x="488.80" y="515.70" font-size="7.8" fill="#231f20" stroke="#231f20" stroke-width="0.22" textLength="20.6" lengthAdjust="spacingAndGlyphs">Sphk2</text>
<text x="509.80" y="512.58" font-size="4.68" fill="#231f20" stroke="#231f20" stroke-width="0.1" textLength="8.9" lengthAdjust="spacingAndGlyphs">Δ/Δ</text>
<path d="M500.20 564.15L500.20 566.65M499.12 564.77L501.28 566.02M499.12 566.02L501.28 564.77M503.80 564.15L503.80 566.65M502.72 564.77L504.88 566.02M502.72 566.02L504.88 564.77" stroke="#333" stroke-width="0.85" stroke-linecap="round"/></svg>
</body></html>
